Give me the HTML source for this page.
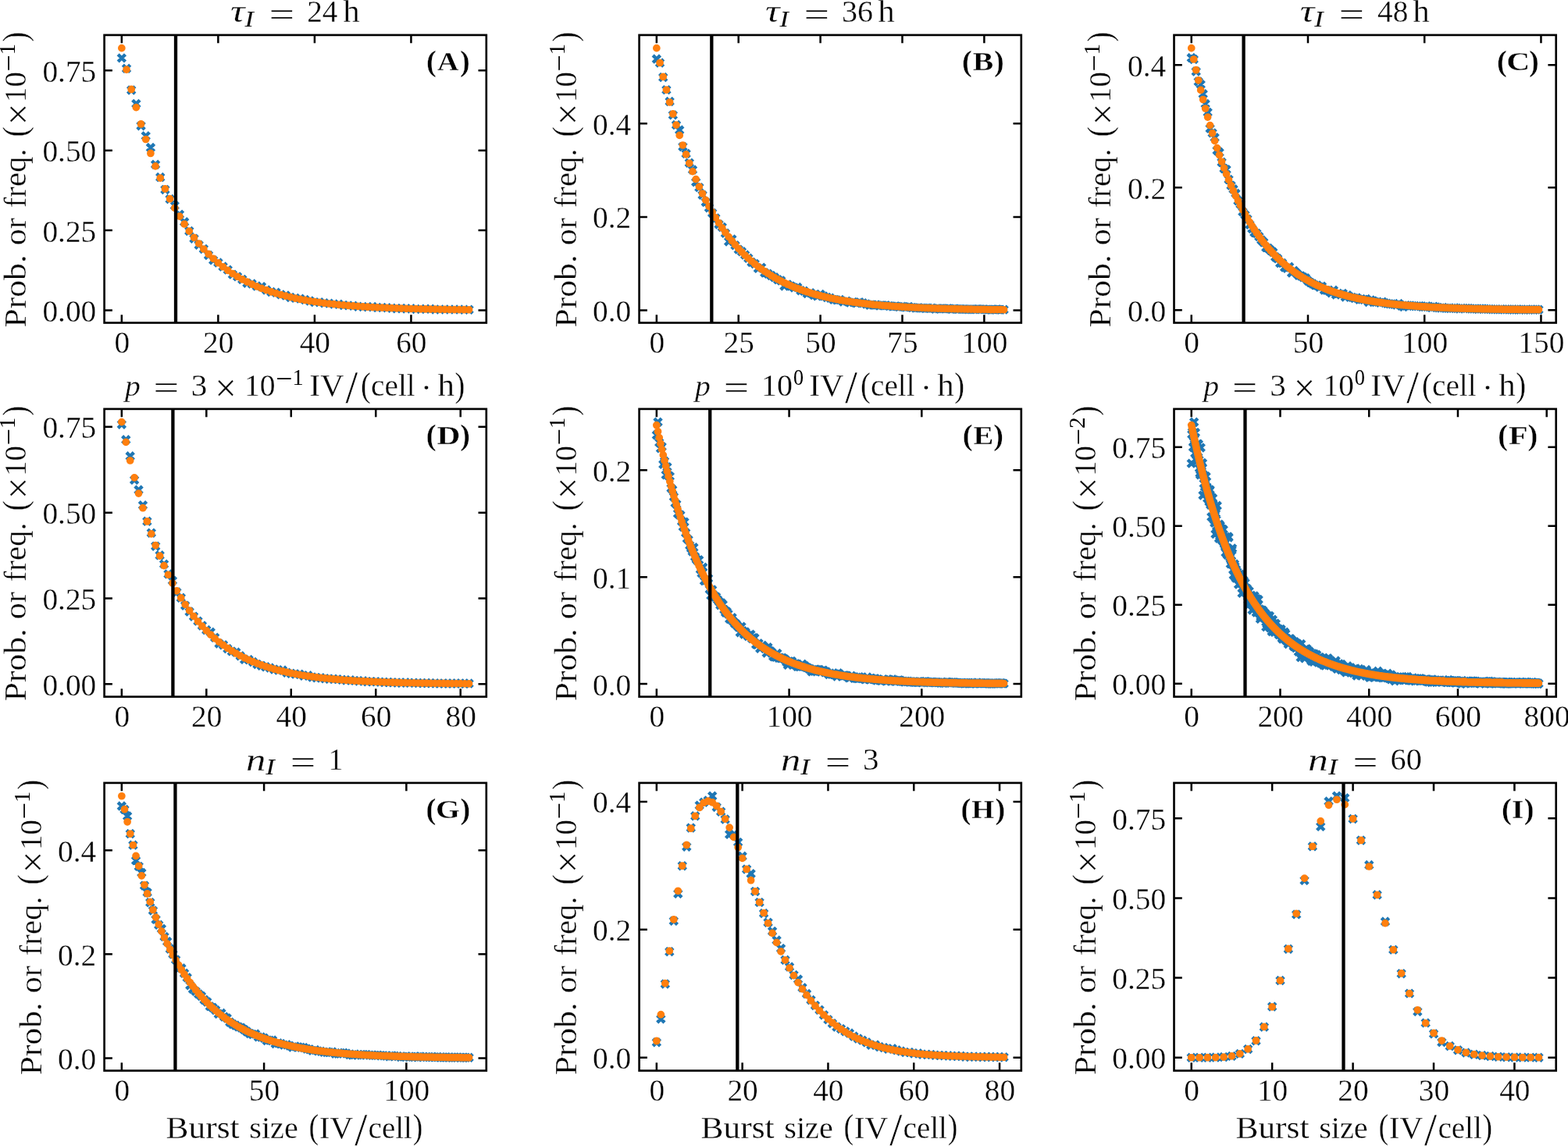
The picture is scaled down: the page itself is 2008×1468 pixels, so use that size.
<!DOCTYPE html>
<html lang="en"><head><meta charset="utf-8"><title>Burst size distributions</title>
<style>html,body{margin:0;padding:0;background:#fff}svg{display:block}text{font-family:"Liberation Serif",serif;fill:#000;stroke:#fff;stroke-width:0.34px;vector-effect:non-scaling-stroke}text.s{stroke:none}</style>
</head><body>
<svg width="2008" height="1468" viewBox="0 0 2008 1468">
<rect width="2008" height="1468" fill="#fff"/>
<g id="panelA">
<path d="M151.17,69.7l9.34,9.34m-9.34,0l9.34,-9.34M157.34,83.12l9.34,9.34m-9.34,0l9.34,-9.34M163.52,110.79l9.34,9.34m-9.34,0l9.34,-9.34M169.7,128.19l9.34,9.34m-9.34,0l9.34,-9.34M175.87,156.49l9.34,9.34m-9.34,0l9.34,-9.34M182.05,169.44l9.34,9.34m-9.34,0l9.34,-9.34M188.23,184.39l9.34,9.34m-9.34,0l9.34,-9.34M194.4,206.07l9.34,9.34m-9.34,0l9.34,-9.34M200.58,222.39l9.34,9.34m-9.34,0l9.34,-9.34M206.76,238.28l9.34,9.34m-9.34,0l9.34,-9.34M212.94,250.43l9.34,9.34m-9.34,0l9.34,-9.34M219.11,258.73l9.34,9.34m-9.34,0l9.34,-9.34M225.29,270.01l9.34,9.34m-9.34,0l9.34,-9.34M231.47,279.68l9.34,9.34m-9.34,0l9.34,-9.34M237.64,291.28l9.34,9.34m-9.34,0l9.34,-9.34M243.82,301l9.34,9.34m-9.34,0l9.34,-9.34M250,309.1l9.34,9.34m-9.34,0l9.34,-9.34M256.17,314.3l9.34,9.34m-9.34,0l9.34,-9.34M262.35,322.29l9.34,9.34m-9.34,0l9.34,-9.34M268.53,328.72l9.34,9.34m-9.34,0l9.34,-9.34M274.7,331.83l9.34,9.34m-9.34,0l9.34,-9.34M280.88,336.91l9.34,9.34m-9.34,0l9.34,-9.34M287.06,340.97l9.34,9.34m-9.34,0l9.34,-9.34M293.23,346.94l9.34,9.34m-9.34,0l9.34,-9.34M299.41,349.69l9.34,9.34m-9.34,0l9.34,-9.34M305.59,353.3l9.34,9.34m-9.34,0l9.34,-9.34M311.76,358.06l9.34,9.34m-9.34,0l9.34,-9.34M317.94,358.91l9.34,9.34m-9.34,0l9.34,-9.34M324.12,361.88l9.34,9.34m-9.34,0l9.34,-9.34M330.29,362.48l9.34,9.34m-9.34,0l9.34,-9.34M336.47,366.82l9.34,9.34m-9.34,0l9.34,-9.34M342.65,369.24l9.34,9.34m-9.34,0l9.34,-9.34M348.82,370.05l9.34,9.34m-9.34,0l9.34,-9.34M355,372.69l9.34,9.34m-9.34,0l9.34,-9.34M361.18,373.8l9.34,9.34m-9.34,0l9.34,-9.34M367.35,376.24l9.34,9.34m-9.34,0l9.34,-9.34M373.53,377.21l9.34,9.34m-9.34,0l9.34,-9.34M379.71,377.95l9.34,9.34m-9.34,0l9.34,-9.34M385.88,379.35l9.34,9.34m-9.34,0l9.34,-9.34M392.06,380.78l9.34,9.34m-9.34,0l9.34,-9.34M398.24,382.46l9.34,9.34m-9.34,0l9.34,-9.34M404.42,382.49l9.34,9.34m-9.34,0l9.34,-9.34M410.59,383.52l9.34,9.34m-9.34,0l9.34,-9.34M416.77,383.96l9.34,9.34m-9.34,0l9.34,-9.34M422.95,384.91l9.34,9.34m-9.34,0l9.34,-9.34M429.12,385.15l9.34,9.34m-9.34,0l9.34,-9.34M435.3,386.27l9.34,9.34m-9.34,0l9.34,-9.34M441.48,386.7l9.34,9.34m-9.34,0l9.34,-9.34M447.65,387l9.34,9.34m-9.34,0l9.34,-9.34M453.83,388.16l9.34,9.34m-9.34,0l9.34,-9.34M460.01,388.3l9.34,9.34m-9.34,0l9.34,-9.34M466.18,388.71l9.34,9.34m-9.34,0l9.34,-9.34M472.36,388.2l9.34,9.34m-9.34,0l9.34,-9.34M478.54,389.23l9.34,9.34m-9.34,0l9.34,-9.34M484.71,389.29l9.34,9.34m-9.34,0l9.34,-9.34M490.89,389.58l9.34,9.34m-9.34,0l9.34,-9.34M497.07,390.1l9.34,9.34m-9.34,0l9.34,-9.34M503.24,390.68l9.34,9.34m-9.34,0l9.34,-9.34M509.42,390.2l9.34,9.34m-9.34,0l9.34,-9.34M515.6,390.76l9.34,9.34m-9.34,0l9.34,-9.34M521.77,390.65l9.34,9.34m-9.34,0l9.34,-9.34M527.95,391.3l9.34,9.34m-9.34,0l9.34,-9.34M534.13,391.24l9.34,9.34m-9.34,0l9.34,-9.34M540.3,391.01l9.34,9.34m-9.34,0l9.34,-9.34M546.48,391.11l9.34,9.34m-9.34,0l9.34,-9.34M552.66,391.78l9.34,9.34m-9.34,0l9.34,-9.34M558.83,391.88l9.34,9.34m-9.34,0l9.34,-9.34M565.01,391.73l9.34,9.34m-9.34,0l9.34,-9.34M571.19,391.69l9.34,9.34m-9.34,0l9.34,-9.34M577.36,391.87l9.34,9.34m-9.34,0l9.34,-9.34M583.54,391.92l9.34,9.34m-9.34,0l9.34,-9.34M589.72,392.08l9.34,9.34m-9.34,0l9.34,-9.34M595.89,392.02l9.34,9.34m-9.34,0l9.34,-9.34" fill="none" stroke="#1f77b4" stroke-width="4.4"/>
<path d="M155.84,61.67h0M162.01,89.19h0M168.19,114.46h0M174.37,137.66h0M180.54,158.96h0M186.72,178.51h0M192.9,196.46h0M199.07,212.93h0M205.25,228.06h0M211.43,241.95h0M217.6,254.7h0M223.78,266.4h0M229.96,277.15h0M236.13,287.01h0M242.31,296.06h0M248.49,304.38h0M254.66,312.01h0M260.84,319.02h0M267.02,325.45h0M273.19,331.35h0M279.37,336.77h0M285.55,341.75h0M291.73,346.32h0M297.9,350.51h0M304.08,354.36h0M310.26,357.9h0M316.43,361.14h0M322.61,364.12h0M328.79,366.85h0M334.96,369.36h0M341.14,371.67h0M347.32,373.79h0M353.49,375.73h0M359.67,377.51h0M365.85,379.15h0M372.02,380.65h0M378.2,382.03h0M384.38,383.3h0M390.55,384.46h0M396.73,385.53h0M402.91,386.51h0M409.08,387.41h0M415.26,388.23h0M421.44,388.99h0M427.61,389.69h0M433.79,390.33h0M439.97,390.91h0M446.14,391.45h0M452.32,391.95h0M458.5,392.4h0M464.67,392.82h0M470.85,393.2h0M477.03,393.55h0M483.21,393.87h0M489.38,394.17h0M495.56,394.44h0M501.74,394.69h0M507.91,394.92h0M514.09,395.13h0M520.27,395.32h0M526.44,395.5h0M532.62,395.66h0M538.8,395.81h0M544.97,395.95h0M551.15,396.07h0M557.33,396.19h0M563.5,396.3h0M569.68,396.39h0M575.86,396.48h0M582.03,396.56h0M588.21,396.64h0M594.39,396.71h0M600.56,396.77h0" fill="none" stroke="#ff7f0e" stroke-width="9.7" stroke-linecap="round"/>
<path d="M225.02,44.9V413.5" stroke="#000" stroke-width="4.3"/>
<path d="M155.84,413.5v-10.3M155.84,44.9v10.3M279.37,413.5v-10.3M279.37,44.9v10.3M402.91,413.5v-10.3M402.91,44.9v10.3M526.44,413.5v-10.3M526.44,44.9v10.3M133.6,397.48h10.3M622.8,397.48h-10.3M133.6,295.06h10.3M622.8,295.06h-10.3M133.6,192.63h10.3M622.8,192.63h-10.3M133.6,90.21h10.3M622.8,90.21h-10.3" stroke="#000" stroke-width="2.5" fill="none"/>
<rect x="133.6" y="44.9" width="489.2" height="368.6" fill="none" stroke="#000" stroke-width="2.65"/>
<text font-size="41" text-anchor="middle" transform="translate(156.24,451.5) scale(0.96,1)">0</text>
<text font-size="41" text-anchor="middle" transform="translate(279.77,451.5) scale(0.96,1)">20</text>
<text font-size="41" text-anchor="middle" transform="translate(403.31,451.5) scale(0.96,1)">40</text>
<text font-size="41" text-anchor="middle" transform="translate(526.84,451.5) scale(0.96,1)">60</text>
<text font-size="41" text-anchor="end" transform="translate(123.3,411.98) scale(0.96,1)">0.00</text>
<text font-size="41" text-anchor="end" transform="translate(123.3,309.56) scale(0.96,1)">0.25</text>
<text font-size="41" text-anchor="end" transform="translate(123.3,207.13) scale(0.96,1)">0.50</text>
<text font-size="41" text-anchor="end" transform="translate(123.3,104.71) scale(0.96,1)">0.75</text>
<text font-size="40.5" font-style="italic" transform="matrix(1.2812,0,0,0.9792,294.96,28.47)">τ</text>
<text font-size="28.6" font-style="italic" class="s" transform="matrix(1.1935,0,0,1,313.39,34)">I</text>
<text font-size="40.5" transform="matrix(1.4252,0,0,1.0212,344.54,31.55)">=</text>
<text font-size="41" transform="matrix(0.9611,0,0,1,393.16,28.3)">24</text>
<text font-size="40.5" transform="matrix(1.0621,0,0,1,439.3,28.3)">h</text>
<text font-size="33.8" font-weight="bold" transform="matrix(1.1417,0,0,1.1163,545.99,90.95)">(</text>
<text font-size="33.8" font-weight="bold" transform="matrix(1.1222,0,0,1,560.05,90)">A</text>
<text font-size="33.8" font-weight="bold" transform="matrix(1.1306,0,0,1.1163,588.99,90.95)">)</text>
<g transform="translate(33.2,417.9) rotate(-90)">
<text font-size="40.5" transform="matrix(1.0757,0,0,1,-1.48,0)">Prob.</text>
<text font-size="40.5" transform="matrix(1.0453,0,0,1,103.64,0)">or</text>
<text font-size="40.5" transform="matrix(1.0071,0,0,1,151.66,0)">freq.</text>
<text font-size="40.5" transform="matrix(0.9915,0,0,1.0921,242.32,0.57)">(</text>
<text font-size="40.5" transform="matrix(1.2157,0,0,1.2401,257.59,6.6)">×</text>
<text font-size="41" transform="matrix(0.9572,0,0,1,286.7,0)">10</text>
<text font-size="28.6" class="s" transform="matrix(1.3309,0,0,1.2587,326.2,-9.83)">−</text>
<text font-size="28.6" class="s" transform="matrix(0.9919,0,0,1,347.72,-14.3)">1</text>
<text font-size="40.5" transform="matrix(0.934,0,0,1.0921,364.3,0.57)">)</text>
</g>
</g>
<g id="panelB">
<path d="M836.17,70.89l9.34,9.34m-9.34,0l9.34,-9.34M840.36,75.85l9.34,9.34m-9.34,0l9.34,-9.34M844.56,94.36l9.34,9.34m-9.34,0l9.34,-9.34M848.75,110.46l9.34,9.34m-9.34,0l9.34,-9.34M852.95,125.33l9.34,9.34m-9.34,0l9.34,-9.34M857.15,142.7l9.34,9.34m-9.34,0l9.34,-9.34M861.34,155.42l9.34,9.34m-9.34,0l9.34,-9.34M865.54,161.88l9.34,9.34m-9.34,0l9.34,-9.34M869.73,183.24l9.34,9.34m-9.34,0l9.34,-9.34M873.93,192.13l9.34,9.34m-9.34,0l9.34,-9.34M878.12,204.04l9.34,9.34m-9.34,0l9.34,-9.34M882.32,212.83l9.34,9.34m-9.34,0l9.34,-9.34M886.51,228.57l9.34,9.34m-9.34,0l9.34,-9.34M890.71,235.46l9.34,9.34m-9.34,0l9.34,-9.34M894.91,245.13l9.34,9.34m-9.34,0l9.34,-9.34M899.1,254.23l9.34,9.34m-9.34,0l9.34,-9.34M903.3,261.56l9.34,9.34m-9.34,0l9.34,-9.34M907.49,268.26l9.34,9.34m-9.34,0l9.34,-9.34M911.69,274.8l9.34,9.34m-9.34,0l9.34,-9.34M915.88,282.74l9.34,9.34m-9.34,0l9.34,-9.34M920.08,286.29l9.34,9.34m-9.34,0l9.34,-9.34M924.27,294.15l9.34,9.34m-9.34,0l9.34,-9.34M928.47,304.77l9.34,9.34m-9.34,0l9.34,-9.34M932.67,301.76l9.34,9.34m-9.34,0l9.34,-9.34M936.86,309.66l9.34,9.34m-9.34,0l9.34,-9.34M941.06,314.97l9.34,9.34m-9.34,0l9.34,-9.34M945.25,317.66l9.34,9.34m-9.34,0l9.34,-9.34M949.45,321.93l9.34,9.34m-9.34,0l9.34,-9.34M953.64,326.18l9.34,9.34m-9.34,0l9.34,-9.34M957.84,331.34l9.34,9.34m-9.34,0l9.34,-9.34M962.03,333.24l9.34,9.34m-9.34,0l9.34,-9.34M966.23,339.12l9.34,9.34m-9.34,0l9.34,-9.34M970.42,337.94l9.34,9.34m-9.34,0l9.34,-9.34M974.62,344.73l9.34,9.34m-9.34,0l9.34,-9.34M978.82,346.05l9.34,9.34m-9.34,0l9.34,-9.34M983.01,348.39l9.34,9.34m-9.34,0l9.34,-9.34M987.21,350.63l9.34,9.34m-9.34,0l9.34,-9.34M991.4,353.56l9.34,9.34m-9.34,0l9.34,-9.34M995.6,354.9l9.34,9.34m-9.34,0l9.34,-9.34M999.79,361.81l9.34,9.34m-9.34,0l9.34,-9.34M1003.99,359.82l9.34,9.34m-9.34,0l9.34,-9.34M1008.18,361.74l9.34,9.34m-9.34,0l9.34,-9.34M1012.38,363.79l9.34,9.34m-9.34,0l9.34,-9.34M1016.58,363.39l9.34,9.34m-9.34,0l9.34,-9.34M1020.77,367.53l9.34,9.34m-9.34,0l9.34,-9.34M1024.97,368.11l9.34,9.34m-9.34,0l9.34,-9.34M1029.16,371.36l9.34,9.34m-9.34,0l9.34,-9.34M1033.36,370.49l9.34,9.34m-9.34,0l9.34,-9.34M1037.55,373.45l9.34,9.34m-9.34,0l9.34,-9.34M1041.75,374.53l9.34,9.34m-9.34,0l9.34,-9.34M1045.94,372.25l9.34,9.34m-9.34,0l9.34,-9.34M1050.14,374.72l9.34,9.34m-9.34,0l9.34,-9.34M1054.34,376.3l9.34,9.34m-9.34,0l9.34,-9.34M1058.53,377.09l9.34,9.34m-9.34,0l9.34,-9.34M1062.73,379.2l9.34,9.34m-9.34,0l9.34,-9.34M1066.92,379.71l9.34,9.34m-9.34,0l9.34,-9.34M1071.12,379.4l9.34,9.34m-9.34,0l9.34,-9.34M1075.31,381.93l9.34,9.34m-9.34,0l9.34,-9.34M1079.51,380.96l9.34,9.34m-9.34,0l9.34,-9.34M1083.7,382.95l9.34,9.34m-9.34,0l9.34,-9.34M1087.9,382.34l9.34,9.34m-9.34,0l9.34,-9.34M1092.1,383.7l9.34,9.34m-9.34,0l9.34,-9.34M1096.29,382.49l9.34,9.34m-9.34,0l9.34,-9.34M1100.49,383.48l9.34,9.34m-9.34,0l9.34,-9.34M1104.68,384.87l9.34,9.34m-9.34,0l9.34,-9.34M1108.88,386.09l9.34,9.34m-9.34,0l9.34,-9.34M1113.07,385.9l9.34,9.34m-9.34,0l9.34,-9.34M1117.27,385.92l9.34,9.34m-9.34,0l9.34,-9.34M1121.46,386.78l9.34,9.34m-9.34,0l9.34,-9.34M1125.66,386.5l9.34,9.34m-9.34,0l9.34,-9.34M1129.86,386.51l9.34,9.34m-9.34,0l9.34,-9.34M1134.05,387.34l9.34,9.34m-9.34,0l9.34,-9.34M1138.25,387.83l9.34,9.34m-9.34,0l9.34,-9.34M1142.44,387.57l9.34,9.34m-9.34,0l9.34,-9.34M1146.64,388.32l9.34,9.34m-9.34,0l9.34,-9.34M1150.83,388.1l9.34,9.34m-9.34,0l9.34,-9.34M1155.03,388.83l9.34,9.34m-9.34,0l9.34,-9.34M1159.22,388.29l9.34,9.34m-9.34,0l9.34,-9.34M1163.42,389.26l9.34,9.34m-9.34,0l9.34,-9.34M1167.62,389.75l9.34,9.34m-9.34,0l9.34,-9.34M1171.81,389.52l9.34,9.34m-9.34,0l9.34,-9.34M1176.01,389.96l9.34,9.34m-9.34,0l9.34,-9.34M1180.2,390.23l9.34,9.34m-9.34,0l9.34,-9.34M1184.4,390.11l9.34,9.34m-9.34,0l9.34,-9.34M1188.59,389.98l9.34,9.34m-9.34,0l9.34,-9.34M1192.79,391.05l9.34,9.34m-9.34,0l9.34,-9.34M1196.98,390.52l9.34,9.34m-9.34,0l9.34,-9.34M1201.18,390.68l9.34,9.34m-9.34,0l9.34,-9.34M1205.38,390.8l9.34,9.34m-9.34,0l9.34,-9.34M1209.57,390.65l9.34,9.34m-9.34,0l9.34,-9.34M1213.77,391.34l9.34,9.34m-9.34,0l9.34,-9.34M1217.96,390.91l9.34,9.34m-9.34,0l9.34,-9.34M1222.16,391.24l9.34,9.34m-9.34,0l9.34,-9.34M1226.35,391.25l9.34,9.34m-9.34,0l9.34,-9.34M1230.55,391.41l9.34,9.34m-9.34,0l9.34,-9.34M1234.74,391.52l9.34,9.34m-9.34,0l9.34,-9.34M1238.94,391.64l9.34,9.34m-9.34,0l9.34,-9.34M1243.14,391.5l9.34,9.34m-9.34,0l9.34,-9.34M1247.33,391.2l9.34,9.34m-9.34,0l9.34,-9.34M1251.53,391.5l9.34,9.34m-9.34,0l9.34,-9.34M1255.72,391.61l9.34,9.34m-9.34,0l9.34,-9.34M1259.92,391.73l9.34,9.34m-9.34,0l9.34,-9.34M1264.11,391.98l9.34,9.34m-9.34,0l9.34,-9.34M1268.31,391.83l9.34,9.34m-9.34,0l9.34,-9.34M1272.5,391.62l9.34,9.34m-9.34,0l9.34,-9.34M1276.7,392.08l9.34,9.34m-9.34,0l9.34,-9.34M1280.89,391.94l9.34,9.34m-9.34,0l9.34,-9.34" fill="none" stroke="#1f77b4" stroke-width="4.4"/>
<path d="M840.84,61.66h0M845.03,80.52h0M849.23,98.33h0M853.42,115.13h0M857.62,130.99h0M861.81,145.96h0M866.01,160.09h0M870.21,173.43h0M874.4,186.01h0M878.6,197.89h0M882.79,209.11h0M886.99,219.69h0M891.18,229.67h0M895.38,239.1h0M899.57,248h0M903.77,256.39h0M907.97,264.32h0M912.16,271.8h0M916.36,278.86h0M920.55,285.52h0M924.75,291.81h0M928.94,297.75h0M933.14,303.35h0M937.33,308.64h0M941.53,313.63h0M945.72,318.34h0M949.92,322.78h0M954.12,326.98h0M958.31,330.94h0M962.51,334.67h0M966.7,338.2h0M970.9,341.53h0M975.09,344.67h0M979.29,347.64h0M983.48,350.44h0M987.68,353.08h0M991.88,355.57h0M996.07,357.93h0M1000.27,360.15h0M1004.46,362.24h0M1008.66,364.22h0M1012.85,366.09h0M1017.05,367.85h0M1021.24,369.52h0M1025.44,371.09h0M1029.64,372.57h0M1033.83,373.97h0M1038.03,375.29h0M1042.22,376.53h0M1046.42,377.71h0M1050.61,378.82h0M1054.81,379.87h0M1059,380.85h0M1063.2,381.79h0M1067.4,382.67h0M1071.59,383.5h0M1075.79,384.28h0M1079.98,385.02h0M1084.18,385.72h0M1088.37,386.38h0M1092.57,387h0M1096.76,387.59h0M1100.96,388.15h0M1105.16,388.67h0M1109.35,389.16h0M1113.55,389.63h0M1117.74,390.07h0M1121.94,390.49h0M1126.13,390.88h0M1130.33,391.25h0M1134.52,391.6h0M1138.72,391.93h0M1142.92,392.24h0M1147.11,392.53h0M1151.31,392.81h0M1155.5,393.07h0M1159.7,393.32h0M1163.89,393.55h0M1168.09,393.77h0M1172.28,393.98h0M1176.48,394.17h0M1180.68,394.36h0M1184.87,394.53h0M1189.07,394.7h0M1193.26,394.85h0M1197.46,395h0M1201.65,395.14h0M1205.85,395.27h0M1210.04,395.39h0M1214.24,395.51h0M1218.43,395.62h0M1222.63,395.72h0M1226.83,395.82h0M1231.02,395.91h0M1235.22,396h0M1239.41,396.08h0M1243.61,396.16h0M1247.8,396.23h0M1252,396.3h0M1256.19,396.37h0M1260.39,396.43h0M1264.59,396.49h0M1268.78,396.54h0M1272.98,396.59h0M1277.17,396.64h0M1281.37,396.69h0M1285.56,396.73h0" fill="none" stroke="#ff7f0e" stroke-width="9.7" stroke-linecap="round"/>
<path d="M911.32,44.9V413.5" stroke="#000" stroke-width="4.3"/>
<path d="M840.84,413.5v-10.3M840.84,44.9v10.3M945.72,413.5v-10.3M945.72,44.9v10.3M1050.61,413.5v-10.3M1050.61,44.9v10.3M1155.5,413.5v-10.3M1155.5,44.9v10.3M1260.39,413.5v-10.3M1260.39,44.9v10.3M818.6,397.46h10.3M1307.8,397.46h-10.3M818.6,277.92h10.3M1307.8,277.92h-10.3M818.6,158.37h10.3M1307.8,158.37h-10.3" stroke="#000" stroke-width="2.5" fill="none"/>
<rect x="818.6" y="44.9" width="489.2" height="368.6" fill="none" stroke="#000" stroke-width="2.65"/>
<text font-size="41" text-anchor="middle" transform="translate(841.24,451.5) scale(0.96,1)">0</text>
<text font-size="41" text-anchor="middle" transform="translate(946.12,451.5) scale(0.96,1)">25</text>
<text font-size="41" text-anchor="middle" transform="translate(1051.01,451.5) scale(0.96,1)">50</text>
<text font-size="41" text-anchor="middle" transform="translate(1155.9,451.5) scale(0.96,1)">75</text>
<text font-size="41" text-anchor="middle" transform="translate(1260.79,451.5) scale(0.96,1)">100</text>
<text font-size="41" text-anchor="end" transform="translate(808.3,411.96) scale(0.96,1)">0.0</text>
<text font-size="41" text-anchor="end" transform="translate(808.3,292.42) scale(0.96,1)">0.2</text>
<text font-size="41" text-anchor="end" transform="translate(808.3,172.87) scale(0.96,1)">0.4</text>
<text font-size="40.5" font-style="italic" transform="matrix(1.2812,0,0,0.9792,979.96,28.47)">τ</text>
<text font-size="28.6" font-style="italic" class="s" transform="matrix(1.1935,0,0,1,998.39,34)">I</text>
<text font-size="40.5" transform="matrix(1.4252,0,0,1.0212,1029.54,31.55)">=</text>
<text font-size="41" transform="matrix(0.9793,0,0,1,1078.02,28.3)">36</text>
<text font-size="40.5" transform="matrix(1.0621,0,0,1,1124.3,28.3)">h</text>
<text font-size="33.8" font-weight="bold" transform="matrix(1.1417,0,0,1.1163,1231.99,90.95)">(</text>
<text font-size="33.8" font-weight="bold" transform="matrix(1.1758,0,0,1,1245.73,90)">B</text>
<text font-size="33.8" font-weight="bold" transform="matrix(1.1306,0,0,1.1163,1272.99,90.95)">)</text>
<g transform="translate(737.5,417.9) rotate(-90)">
<text font-size="40.5" transform="matrix(1.0757,0,0,1,-1.48,0)">Prob.</text>
<text font-size="40.5" transform="matrix(1.0453,0,0,1,103.64,0)">or</text>
<text font-size="40.5" transform="matrix(1.0071,0,0,1,151.66,0)">freq.</text>
<text font-size="40.5" transform="matrix(0.9915,0,0,1.0921,242.32,0.57)">(</text>
<text font-size="40.5" transform="matrix(1.2157,0,0,1.2401,257.59,6.6)">×</text>
<text font-size="41" transform="matrix(0.9572,0,0,1,286.7,0)">10</text>
<text font-size="28.6" class="s" transform="matrix(1.3309,0,0,1.2587,326.2,-9.83)">−</text>
<text font-size="28.6" class="s" transform="matrix(0.9919,0,0,1,347.72,-14.3)">1</text>
<text font-size="40.5" transform="matrix(0.934,0,0,1.0921,364.3,0.57)">)</text>
</g>
</g>
<g id="panelC">
<path d="M1521.07,69.39l9.34,9.34m-9.34,0l9.34,-9.34M1524.05,71.33l9.34,9.34m-9.34,0l9.34,-9.34M1527.04,86.85l9.34,9.34m-9.34,0l9.34,-9.34M1530.02,99.89l9.34,9.34m-9.34,0l9.34,-9.34M1533.01,103.47l9.34,9.34m-9.34,0l9.34,-9.34M1535.99,115.61l9.34,9.34m-9.34,0l9.34,-9.34M1538.98,128.34l9.34,9.34m-9.34,0l9.34,-9.34M1541.96,139.28l9.34,9.34m-9.34,0l9.34,-9.34M1544.95,159.94l9.34,9.34m-9.34,0l9.34,-9.34M1547.93,165.72l9.34,9.34m-9.34,0l9.34,-9.34M1550.92,171.51l9.34,9.34m-9.34,0l9.34,-9.34M1553.9,188.07l9.34,9.34m-9.34,0l9.34,-9.34M1556.88,190.66l9.34,9.34m-9.34,0l9.34,-9.34M1559.87,203.18l9.34,9.34m-9.34,0l9.34,-9.34M1562.85,211.29l9.34,9.34m-9.34,0l9.34,-9.34M1565.84,212.51l9.34,9.34m-9.34,0l9.34,-9.34M1568.82,225.25l9.34,9.34m-9.34,0l9.34,-9.34M1571.81,232.97l9.34,9.34m-9.34,0l9.34,-9.34M1574.79,237.6l9.34,9.34m-9.34,0l9.34,-9.34M1577.78,243.08l9.34,9.34m-9.34,0l9.34,-9.34M1580.76,252.54l9.34,9.34m-9.34,0l9.34,-9.34M1583.75,256.88l9.34,9.34m-9.34,0l9.34,-9.34M1586.73,266.7l9.34,9.34m-9.34,0l9.34,-9.34M1589.72,270.59l9.34,9.34m-9.34,0l9.34,-9.34M1592.7,276l9.34,9.34m-9.34,0l9.34,-9.34M1595.69,283.18l9.34,9.34m-9.34,0l9.34,-9.34M1598.67,288.34l9.34,9.34m-9.34,0l9.34,-9.34M1601.66,293.15l9.34,9.34m-9.34,0l9.34,-9.34M1604.64,294.31l9.34,9.34m-9.34,0l9.34,-9.34M1607.63,298.37l9.34,9.34m-9.34,0l9.34,-9.34M1610.61,302.73l9.34,9.34m-9.34,0l9.34,-9.34M1613.59,305.75l9.34,9.34m-9.34,0l9.34,-9.34M1616.58,312.39l9.34,9.34m-9.34,0l9.34,-9.34M1619.56,313.31l9.34,9.34m-9.34,0l9.34,-9.34M1622.55,316.06l9.34,9.34m-9.34,0l9.34,-9.34M1625.53,318.32l9.34,9.34m-9.34,0l9.34,-9.34M1628.52,324.52l9.34,9.34m-9.34,0l9.34,-9.34M1631.5,326.62l9.34,9.34m-9.34,0l9.34,-9.34M1634.49,332.41l9.34,9.34m-9.34,0l9.34,-9.34M1637.47,332.35l9.34,9.34m-9.34,0l9.34,-9.34M1640.46,337.91l9.34,9.34m-9.34,0l9.34,-9.34M1643.44,339l9.34,9.34m-9.34,0l9.34,-9.34M1646.43,337.1l9.34,9.34m-9.34,0l9.34,-9.34M1649.41,344.86l9.34,9.34m-9.34,0l9.34,-9.34M1652.4,342.15l9.34,9.34m-9.34,0l9.34,-9.34M1655.38,345.02l9.34,9.34m-9.34,0l9.34,-9.34M1658.37,348.02l9.34,9.34m-9.34,0l9.34,-9.34M1661.35,348.78l9.34,9.34m-9.34,0l9.34,-9.34M1664.34,350.53l9.34,9.34m-9.34,0l9.34,-9.34M1667.32,351.56l9.34,9.34m-9.34,0l9.34,-9.34M1670.3,355.08l9.34,9.34m-9.34,0l9.34,-9.34M1673.29,357.19l9.34,9.34m-9.34,0l9.34,-9.34M1676.27,358.73l9.34,9.34m-9.34,0l9.34,-9.34M1679.26,360.7l9.34,9.34m-9.34,0l9.34,-9.34M1682.24,360.87l9.34,9.34m-9.34,0l9.34,-9.34M1685.23,363.16l9.34,9.34m-9.34,0l9.34,-9.34M1688.21,362.15l9.34,9.34m-9.34,0l9.34,-9.34M1691.2,366.97l9.34,9.34m-9.34,0l9.34,-9.34M1694.18,367.2l9.34,9.34m-9.34,0l9.34,-9.34M1697.17,368.14l9.34,9.34m-9.34,0l9.34,-9.34M1700.15,370.5l9.34,9.34m-9.34,0l9.34,-9.34M1703.14,367.07l9.34,9.34m-9.34,0l9.34,-9.34M1706.12,372.78l9.34,9.34m-9.34,0l9.34,-9.34M1709.11,371.43l9.34,9.34m-9.34,0l9.34,-9.34M1712.09,372.59l9.34,9.34m-9.34,0l9.34,-9.34M1715.08,371.24l9.34,9.34m-9.34,0l9.34,-9.34M1718.06,375.73l9.34,9.34m-9.34,0l9.34,-9.34M1721.05,373.52l9.34,9.34m-9.34,0l9.34,-9.34M1724.03,376.03l9.34,9.34m-9.34,0l9.34,-9.34M1727.02,376.21l9.34,9.34m-9.34,0l9.34,-9.34M1730,377.38l9.34,9.34m-9.34,0l9.34,-9.34M1732.98,376.87l9.34,9.34m-9.34,0l9.34,-9.34M1735.97,379.08l9.34,9.34m-9.34,0l9.34,-9.34M1738.95,378.78l9.34,9.34m-9.34,0l9.34,-9.34M1741.94,379l9.34,9.34m-9.34,0l9.34,-9.34M1744.92,378.36l9.34,9.34m-9.34,0l9.34,-9.34M1747.91,382.33l9.34,9.34m-9.34,0l9.34,-9.34M1750.89,379.73l9.34,9.34m-9.34,0l9.34,-9.34M1753.88,380.7l9.34,9.34m-9.34,0l9.34,-9.34M1756.86,382.26l9.34,9.34m-9.34,0l9.34,-9.34M1759.85,382.13l9.34,9.34m-9.34,0l9.34,-9.34M1762.83,383.12l9.34,9.34m-9.34,0l9.34,-9.34M1765.82,382.05l9.34,9.34m-9.34,0l9.34,-9.34M1768.8,383.46l9.34,9.34m-9.34,0l9.34,-9.34M1771.79,384.13l9.34,9.34m-9.34,0l9.34,-9.34M1774.77,384.5l9.34,9.34m-9.34,0l9.34,-9.34M1777.76,384.83l9.34,9.34m-9.34,0l9.34,-9.34M1780.74,385.15l9.34,9.34m-9.34,0l9.34,-9.34M1783.73,385.9l9.34,9.34m-9.34,0l9.34,-9.34M1786.71,384.43l9.34,9.34m-9.34,0l9.34,-9.34M1789.69,387.09l9.34,9.34m-9.34,0l9.34,-9.34M1792.68,388.32l9.34,9.34m-9.34,0l9.34,-9.34M1795.66,386.58l9.34,9.34m-9.34,0l9.34,-9.34M1798.65,386.85l9.34,9.34m-9.34,0l9.34,-9.34M1801.63,386.82l9.34,9.34m-9.34,0l9.34,-9.34M1804.62,387.36l9.34,9.34m-9.34,0l9.34,-9.34M1807.6,387.56l9.34,9.34m-9.34,0l9.34,-9.34M1810.59,387.53l9.34,9.34m-9.34,0l9.34,-9.34M1813.57,387.42l9.34,9.34m-9.34,0l9.34,-9.34M1816.56,388.32l9.34,9.34m-9.34,0l9.34,-9.34M1819.54,388.47l9.34,9.34m-9.34,0l9.34,-9.34M1822.53,387.58l9.34,9.34m-9.34,0l9.34,-9.34M1825.51,388.41l9.34,9.34m-9.34,0l9.34,-9.34M1828.5,389.25l9.34,9.34m-9.34,0l9.34,-9.34M1831.48,387.97l9.34,9.34m-9.34,0l9.34,-9.34M1834.47,388.8l9.34,9.34m-9.34,0l9.34,-9.34M1837.45,389.52l9.34,9.34m-9.34,0l9.34,-9.34M1840.44,389.89l9.34,9.34m-9.34,0l9.34,-9.34M1843.42,389.43l9.34,9.34m-9.34,0l9.34,-9.34M1846.41,390l9.34,9.34m-9.34,0l9.34,-9.34M1849.39,390.2l9.34,9.34m-9.34,0l9.34,-9.34M1852.37,390.4l9.34,9.34m-9.34,0l9.34,-9.34M1855.36,390.21l9.34,9.34m-9.34,0l9.34,-9.34M1858.34,389.74l9.34,9.34m-9.34,0l9.34,-9.34M1861.33,390.39l9.34,9.34m-9.34,0l9.34,-9.34M1864.31,390.83l9.34,9.34m-9.34,0l9.34,-9.34M1867.3,390.21l9.34,9.34m-9.34,0l9.34,-9.34M1870.28,390.5l9.34,9.34m-9.34,0l9.34,-9.34M1873.27,390.34l9.34,9.34m-9.34,0l9.34,-9.34M1876.25,390.32l9.34,9.34m-9.34,0l9.34,-9.34M1879.24,390.82l9.34,9.34m-9.34,0l9.34,-9.34M1882.22,390.89l9.34,9.34m-9.34,0l9.34,-9.34M1885.21,390.93l9.34,9.34m-9.34,0l9.34,-9.34M1888.19,391.31l9.34,9.34m-9.34,0l9.34,-9.34M1891.18,390.87l9.34,9.34m-9.34,0l9.34,-9.34M1894.16,390.74l9.34,9.34m-9.34,0l9.34,-9.34M1897.15,391.13l9.34,9.34m-9.34,0l9.34,-9.34M1900.13,391.3l9.34,9.34m-9.34,0l9.34,-9.34M1903.12,391.36l9.34,9.34m-9.34,0l9.34,-9.34M1906.1,391.54l9.34,9.34m-9.34,0l9.34,-9.34M1909.08,391.6l9.34,9.34m-9.34,0l9.34,-9.34M1912.07,391.55l9.34,9.34m-9.34,0l9.34,-9.34M1915.05,391.69l9.34,9.34m-9.34,0l9.34,-9.34M1918.04,391.64l9.34,9.34m-9.34,0l9.34,-9.34M1921.02,391.94l9.34,9.34m-9.34,0l9.34,-9.34M1924.01,391.55l9.34,9.34m-9.34,0l9.34,-9.34M1926.99,391.65l9.34,9.34m-9.34,0l9.34,-9.34M1929.98,391.95l9.34,9.34m-9.34,0l9.34,-9.34M1932.96,392.08l9.34,9.34m-9.34,0l9.34,-9.34M1935.95,391.77l9.34,9.34m-9.34,0l9.34,-9.34M1938.93,391.59l9.34,9.34m-9.34,0l9.34,-9.34M1941.92,391.98l9.34,9.34m-9.34,0l9.34,-9.34M1944.9,391.96l9.34,9.34m-9.34,0l9.34,-9.34M1947.89,392l9.34,9.34m-9.34,0l9.34,-9.34M1950.87,391.81l9.34,9.34m-9.34,0l9.34,-9.34M1953.86,392.08l9.34,9.34m-9.34,0l9.34,-9.34M1956.84,391.81l9.34,9.34m-9.34,0l9.34,-9.34M1959.83,392.05l9.34,9.34m-9.34,0l9.34,-9.34M1962.81,391.87l9.34,9.34m-9.34,0l9.34,-9.34M1965.79,392.04l9.34,9.34m-9.34,0l9.34,-9.34" fill="none" stroke="#1f77b4" stroke-width="4.4"/>
<path d="M1525.74,61.65h0M1528.72,75.99h0M1531.71,89.72h0M1534.69,102.86h0M1537.68,115.44h0M1540.66,127.48h0M1543.64,139.01h0M1546.63,150.05h0M1549.61,160.61h0M1552.6,170.72h0M1555.58,180.4h0M1558.57,189.66h0M1561.55,198.53h0M1564.54,207.02h0M1567.52,215.15h0M1570.51,222.93h0M1573.49,230.38h0M1576.48,237.51h0M1579.46,244.34h0M1582.45,250.87h0M1585.43,257.12h0M1588.42,263.11h0M1591.4,268.84h0M1594.39,274.33h0M1597.37,279.58h0M1600.36,284.61h0M1603.34,289.42h0M1606.32,294.03h0M1609.31,298.44h0M1612.29,302.66h0M1615.28,306.7h0M1618.26,310.57h0M1621.25,314.27h0M1624.23,317.81h0M1627.22,321.21h0M1630.2,324.46h0M1633.19,327.56h0M1636.17,330.54h0M1639.16,333.39h0M1642.14,336.12h0M1645.13,338.73h0M1648.11,341.23h0M1651.1,343.62h0M1654.08,345.91h0M1657.07,348.1h0M1660.05,350.2h0M1663.03,352.21h0M1666.02,354.14h0M1669,355.98h0M1671.99,357.74h0M1674.97,359.43h0M1677.96,361.04h0M1680.94,362.59h0M1683.93,364.07h0M1686.91,365.48h0M1689.9,366.84h0M1692.88,368.14h0M1695.87,369.38h0M1698.85,370.57h0M1701.84,371.71h0M1704.82,372.8h0M1707.81,373.84h0M1710.79,374.84h0M1713.78,375.8h0M1716.76,376.71h0M1719.74,377.59h0M1722.73,378.43h0M1725.71,379.23h0M1728.7,380h0M1731.68,380.74h0M1734.67,381.44h0M1737.65,382.11h0M1740.64,382.76h0M1743.62,383.38h0M1746.61,383.97h0M1749.59,384.53h0M1752.58,385.08h0M1755.56,385.6h0M1758.55,386.09h0M1761.53,386.57h0M1764.52,387.02h0M1767.5,387.46h0M1770.49,387.88h0M1773.47,388.27h0M1776.46,388.66h0M1779.44,389.02h0M1782.42,389.37h0M1785.41,389.71h0M1788.39,390.03h0M1791.38,390.34h0M1794.36,390.63h0M1797.35,390.91h0M1800.33,391.18h0M1803.32,391.44h0M1806.3,391.69h0M1809.29,391.92h0M1812.27,392.15h0M1815.26,392.36h0M1818.24,392.57h0M1821.23,392.77h0M1824.21,392.96h0M1827.2,393.14h0M1830.18,393.32h0M1833.17,393.48h0M1836.15,393.64h0M1839.13,393.8h0M1842.12,393.94h0M1845.1,394.08h0M1848.09,394.22h0M1851.07,394.34h0M1854.06,394.47h0M1857.04,394.58h0M1860.03,394.7h0M1863.01,394.8h0M1866,394.91h0M1868.98,395.01h0M1871.97,395.1h0M1874.95,395.19h0M1877.94,395.28h0M1880.92,395.36h0M1883.91,395.44h0M1886.89,395.52h0M1889.88,395.59h0M1892.86,395.66h0M1895.84,395.72h0M1898.83,395.79h0M1901.81,395.85h0M1904.8,395.91h0M1907.78,395.96h0M1910.77,396.02h0M1913.75,396.07h0M1916.74,396.12h0M1919.72,396.16h0M1922.71,396.21h0M1925.69,396.25h0M1928.68,396.29h0M1931.66,396.33h0M1934.65,396.37h0M1937.63,396.41h0M1940.62,396.44h0M1943.6,396.47h0M1946.59,396.51h0M1949.57,396.54h0M1952.56,396.57h0M1955.54,396.59h0M1958.52,396.62h0M1961.51,396.65h0M1964.49,396.67h0M1967.48,396.69h0M1970.46,396.72h0" fill="none" stroke="#ff7f0e" stroke-width="9.7" stroke-linecap="round"/>
<path d="M1592.59,44.9V413.5" stroke="#000" stroke-width="4.3"/>
<path d="M1525.74,413.5v-10.3M1525.74,44.9v10.3M1674.97,413.5v-10.3M1674.97,44.9v10.3M1824.21,413.5v-10.3M1824.21,44.9v10.3M1973.45,413.5v-10.3M1973.45,44.9v10.3M1503.5,397.22h10.3M1992.7,397.22h-10.3M1503.5,240.17h10.3M1992.7,240.17h-10.3M1503.5,83.13h10.3M1992.7,83.13h-10.3" stroke="#000" stroke-width="2.5" fill="none"/>
<rect x="1503.5" y="44.9" width="489.2" height="368.6" fill="none" stroke="#000" stroke-width="2.65"/>
<text font-size="41" text-anchor="middle" transform="translate(1526.14,451.5) scale(0.96,1)">0</text>
<text font-size="41" text-anchor="middle" transform="translate(1675.37,451.5) scale(0.96,1)">50</text>
<text font-size="41" text-anchor="middle" transform="translate(1824.61,451.5) scale(0.96,1)">100</text>
<text font-size="41" text-anchor="middle" transform="translate(1973.85,451.5) scale(0.96,1)">150</text>
<text font-size="41" text-anchor="end" transform="translate(1493.2,411.72) scale(0.96,1)">0.0</text>
<text font-size="41" text-anchor="end" transform="translate(1493.2,254.67) scale(0.96,1)">0.2</text>
<text font-size="41" text-anchor="end" transform="translate(1493.2,97.63) scale(0.96,1)">0.4</text>
<text font-size="40.5" font-style="italic" transform="matrix(1.2812,0,0,0.9792,1664.86,28.47)">τ</text>
<text font-size="28.6" font-style="italic" class="s" transform="matrix(1.1935,0,0,1,1683.29,34)">I</text>
<text font-size="40.5" transform="matrix(1.4252,0,0,1.0212,1714.44,31.55)">=</text>
<text font-size="41" transform="matrix(0.9585,0,0,1,1764.04,28.3)">48</text>
<text font-size="40.5" transform="matrix(1.0621,0,0,1,1809.2,28.3)">h</text>
<text font-size="33.8" font-weight="bold" transform="matrix(1.1417,0,0,1.1163,1916.89,90.95)">(</text>
<text font-size="33.8" font-weight="bold" transform="matrix(1.2302,0,0,1,1929.25,90)">C</text>
<text font-size="33.8" font-weight="bold" transform="matrix(1.1306,0,0,1.1163,1957.89,90.95)">)</text>
<g transform="translate(1422.4,417.9) rotate(-90)">
<text font-size="40.5" transform="matrix(1.0757,0,0,1,-1.48,0)">Prob.</text>
<text font-size="40.5" transform="matrix(1.0453,0,0,1,103.64,0)">or</text>
<text font-size="40.5" transform="matrix(1.0071,0,0,1,151.66,0)">freq.</text>
<text font-size="40.5" transform="matrix(0.9915,0,0,1.0921,242.32,0.57)">(</text>
<text font-size="40.5" transform="matrix(1.2157,0,0,1.2401,257.59,6.6)">×</text>
<text font-size="41" transform="matrix(0.9572,0,0,1,286.7,0)">10</text>
<text font-size="28.6" class="s" transform="matrix(1.3309,0,0,1.2587,326.2,-9.83)">−</text>
<text font-size="28.6" class="s" transform="matrix(0.9919,0,0,1,347.72,-14.3)">1</text>
<text font-size="40.5" transform="matrix(0.934,0,0,1.0921,364.3,0.57)">)</text>
</g>
</g>
<g id="panelD">
<path d="M151.17,539.01l9.34,9.34m-9.34,0l9.34,-9.34M156.59,558.65l9.34,9.34m-9.34,0l9.34,-9.34M162.01,579.63l9.34,9.34m-9.34,0l9.34,-9.34M167.44,610.1l9.34,9.34m-9.34,0l9.34,-9.34M172.86,622.9l9.34,9.34m-9.34,0l9.34,-9.34M178.29,642.45l9.34,9.34m-9.34,0l9.34,-9.34M183.71,663.18l9.34,9.34m-9.34,0l9.34,-9.34M189.13,678.04l9.34,9.34m-9.34,0l9.34,-9.34M194.56,695l9.34,9.34m-9.34,0l9.34,-9.34M199.98,706.66l9.34,9.34m-9.34,0l9.34,-9.34M205.4,717.96l9.34,9.34m-9.34,0l9.34,-9.34M210.83,730.72l9.34,9.34m-9.34,0l9.34,-9.34M216.25,739.09l9.34,9.34m-9.34,0l9.34,-9.34M221.67,753.91l9.34,9.34m-9.34,0l9.34,-9.34M227.1,761.16l9.34,9.34m-9.34,0l9.34,-9.34M232.52,771l9.34,9.34m-9.34,0l9.34,-9.34M237.94,778.87l9.34,9.34m-9.34,0l9.34,-9.34M243.37,785l9.34,9.34m-9.34,0l9.34,-9.34M248.79,790.97l9.34,9.34m-9.34,0l9.34,-9.34M254.21,796.81l9.34,9.34m-9.34,0l9.34,-9.34M259.64,802.37l9.34,9.34m-9.34,0l9.34,-9.34M265.06,805.16l9.34,9.34m-9.34,0l9.34,-9.34M270.48,812l9.34,9.34m-9.34,0l9.34,-9.34M275.91,819.76l9.34,9.34m-9.34,0l9.34,-9.34M281.33,821.51l9.34,9.34m-9.34,0l9.34,-9.34M286.76,826.34l9.34,9.34m-9.34,0l9.34,-9.34M292.18,829.7l9.34,9.34m-9.34,0l9.34,-9.34M297.6,830.87l9.34,9.34m-9.34,0l9.34,-9.34M303.03,835.58l9.34,9.34m-9.34,0l9.34,-9.34M308.45,840.15l9.34,9.34m-9.34,0l9.34,-9.34M313.87,840.36l9.34,9.34m-9.34,0l9.34,-9.34M319.3,843.32l9.34,9.34m-9.34,0l9.34,-9.34M324.72,846.3l9.34,9.34m-9.34,0l9.34,-9.34M330.14,848.05l9.34,9.34m-9.34,0l9.34,-9.34M335.57,849.63l9.34,9.34m-9.34,0l9.34,-9.34M340.99,850.83l9.34,9.34m-9.34,0l9.34,-9.34M346.41,852.74l9.34,9.34m-9.34,0l9.34,-9.34M351.84,853.82l9.34,9.34m-9.34,0l9.34,-9.34M357.26,853.89l9.34,9.34m-9.34,0l9.34,-9.34M362.68,857.04l9.34,9.34m-9.34,0l9.34,-9.34M368.11,858.17l9.34,9.34m-9.34,0l9.34,-9.34M373.53,858.86l9.34,9.34m-9.34,0l9.34,-9.34M378.95,859l9.34,9.34m-9.34,0l9.34,-9.34M384.38,861.02l9.34,9.34m-9.34,0l9.34,-9.34M389.8,860.61l9.34,9.34m-9.34,0l9.34,-9.34M395.23,862.93l9.34,9.34m-9.34,0l9.34,-9.34M400.65,863.48l9.34,9.34m-9.34,0l9.34,-9.34M406.07,863.62l9.34,9.34m-9.34,0l9.34,-9.34M411.5,864.63l9.34,9.34m-9.34,0l9.34,-9.34M416.92,865.06l9.34,9.34m-9.34,0l9.34,-9.34M422.34,865.09l9.34,9.34m-9.34,0l9.34,-9.34M427.77,865.46l9.34,9.34m-9.34,0l9.34,-9.34M433.19,866.17l9.34,9.34m-9.34,0l9.34,-9.34M438.61,866.74l9.34,9.34m-9.34,0l9.34,-9.34M444.04,866.49l9.34,9.34m-9.34,0l9.34,-9.34M449.46,867.21l9.34,9.34m-9.34,0l9.34,-9.34M454.88,867.77l9.34,9.34m-9.34,0l9.34,-9.34M460.31,867.57l9.34,9.34m-9.34,0l9.34,-9.34M465.73,868.56l9.34,9.34m-9.34,0l9.34,-9.34M471.15,868.46l9.34,9.34m-9.34,0l9.34,-9.34M476.58,868.55l9.34,9.34m-9.34,0l9.34,-9.34M482,868.97l9.34,9.34m-9.34,0l9.34,-9.34M487.42,869.33l9.34,9.34m-9.34,0l9.34,-9.34M492.85,869.26l9.34,9.34m-9.34,0l9.34,-9.34M498.27,869.67l9.34,9.34m-9.34,0l9.34,-9.34M503.7,869.84l9.34,9.34m-9.34,0l9.34,-9.34M509.12,870.08l9.34,9.34m-9.34,0l9.34,-9.34M514.54,869.67l9.34,9.34m-9.34,0l9.34,-9.34M519.97,870.22l9.34,9.34m-9.34,0l9.34,-9.34M525.39,869.96l9.34,9.34m-9.34,0l9.34,-9.34M530.81,870.24l9.34,9.34m-9.34,0l9.34,-9.34M536.24,870.47l9.34,9.34m-9.34,0l9.34,-9.34M541.66,870.38l9.34,9.34m-9.34,0l9.34,-9.34M547.08,870.54l9.34,9.34m-9.34,0l9.34,-9.34M552.51,870.64l9.34,9.34m-9.34,0l9.34,-9.34M557.93,870.97l9.34,9.34m-9.34,0l9.34,-9.34M563.35,870.79l9.34,9.34m-9.34,0l9.34,-9.34M568.78,870.73l9.34,9.34m-9.34,0l9.34,-9.34M574.2,870.85l9.34,9.34m-9.34,0l9.34,-9.34M579.62,870.83l9.34,9.34m-9.34,0l9.34,-9.34M585.05,870.82l9.34,9.34m-9.34,0l9.34,-9.34M590.47,871.01l9.34,9.34m-9.34,0l9.34,-9.34M595.89,870.86l9.34,9.34m-9.34,0l9.34,-9.34" fill="none" stroke="#1f77b4" stroke-width="4.4"/>
<path d="M155.84,540.68h0M161.26,566.32h0M166.68,590h0M172.11,611.87h0M177.53,632.07h0M182.95,650.72h0M188.38,667.95h0M193.8,683.87h0M199.22,698.57h0M204.65,712.14h0M210.07,724.68h0M215.49,736.26h0M220.92,746.96h0M226.34,756.84h0M231.77,765.96h0M237.19,774.39h0M242.61,782.17h0M248.04,789.36h0M253.46,796h0M258.88,802.13h0M264.31,807.8h0M269.73,813.03h0M275.15,817.86h0M280.58,822.32h0M286,826.44h0M291.42,830.25h0M296.85,833.77h0M302.27,837.01h0M307.69,840.01h0M313.12,842.78h0M318.54,845.34h0M323.96,847.7h0M329.39,849.89h0M334.81,851.9h0M340.24,853.76h0M345.66,855.48h0M351.08,857.07h0M356.51,858.54h0M361.93,859.89h0M367.35,861.14h0M372.78,862.3h0M378.2,863.37h0M383.62,864.35h0M389.05,865.26h0M394.47,866.1h0M399.89,866.88h0M405.32,867.6h0M410.74,868.26h0M416.16,868.87h0M421.59,869.44h0M427.01,869.96h0M432.44,870.44h0M437.86,870.89h0M443.28,871.3h0M448.71,871.68h0M454.13,872.03h0M459.55,872.35h0M464.98,872.65h0M470.4,872.93h0M475.82,873.19h0M481.25,873.42h0M486.67,873.64h0M492.09,873.84h0M497.52,874.03h0M502.94,874.2h0M508.36,874.36h0M513.79,874.5h0M519.21,874.64h0M524.63,874.76h0M530.06,874.88h0M535.48,874.98h0M540.91,875.08h0M546.33,875.17h0M551.75,875.26h0M557.18,875.34h0M562.6,875.41h0M568.02,875.47h0M573.45,875.53h0M578.87,875.59h0M584.29,875.64h0M589.72,875.69h0M595.14,875.74h0M600.56,875.78h0" fill="none" stroke="#ff7f0e" stroke-width="9.7" stroke-linecap="round"/>
<path d="M221.41,523.9V892.5" stroke="#000" stroke-width="4.3"/>
<path d="M155.84,892.5v-10.3M155.84,523.9v10.3M264.31,892.5v-10.3M264.31,523.9v10.3M372.78,892.5v-10.3M372.78,523.9v10.3M481.25,892.5v-10.3M481.25,523.9v10.3M589.72,892.5v-10.3M589.72,523.9v10.3M133.6,876.27h10.3M622.8,876.27h-10.3M133.6,766.45h10.3M622.8,766.45h-10.3M133.6,656.63h10.3M622.8,656.63h-10.3M133.6,546.8h10.3M622.8,546.8h-10.3" stroke="#000" stroke-width="2.5" fill="none"/>
<rect x="133.6" y="523.9" width="489.2" height="368.6" fill="none" stroke="#000" stroke-width="2.65"/>
<text font-size="41" text-anchor="middle" transform="translate(156.24,930.5) scale(0.96,1)">0</text>
<text font-size="41" text-anchor="middle" transform="translate(264.71,930.5) scale(0.96,1)">20</text>
<text font-size="41" text-anchor="middle" transform="translate(373.18,930.5) scale(0.96,1)">40</text>
<text font-size="41" text-anchor="middle" transform="translate(481.65,930.5) scale(0.96,1)">60</text>
<text font-size="41" text-anchor="middle" transform="translate(590.12,930.5) scale(0.96,1)">80</text>
<text font-size="41" text-anchor="end" transform="translate(123.3,890.77) scale(0.96,1)">0.00</text>
<text font-size="41" text-anchor="end" transform="translate(123.3,780.95) scale(0.96,1)">0.25</text>
<text font-size="41" text-anchor="end" transform="translate(123.3,671.13) scale(0.96,1)">0.50</text>
<text font-size="41" text-anchor="end" transform="translate(123.3,561.3) scale(0.96,1)">0.75</text>
<text font-size="40.5" font-style="italic" transform="matrix(0.9802,0,0,0.9421,159.91,507.06)">p</text>
<text font-size="40.5" transform="matrix(1.4464,0,0,1.0212,196.2,510.35)">=</text>
<text font-size="41" transform="matrix(1.0016,0,0,1,244.68,507.1)">3</text>
<text font-size="40.5" transform="matrix(1.2096,0,0,1.2401,275.31,513.7)">×</text>
<text font-size="41" transform="matrix(0.9656,0,0,1,313.07,507.1)">10</text>
<text font-size="28.6" class="s" transform="matrix(1.3309,0,0,1.2587,353.1,497.27)">−</text>
<text font-size="28.6" class="s" transform="matrix(0.9919,0,0,1,374.42,492.8)">1</text>
<text font-size="40.5" transform="matrix(1.0327,0,0,1,396.37,507.1)">IV</text>
<text font-size="40.5" transform="matrix(1.3916,0,0,1.4793,442.43,516.47)">/</text>
<text font-size="40.5" transform="matrix(0.9528,0,0,1.0921,462.09,507.67)">(</text>
<text font-size="40.5" transform="matrix(0.9705,0,0,1,475.06,507.1)">cell</text>
<text font-size="40.5" transform="matrix(1.0381,0,0,1.0381,539.01,511.23)">·</text>
<text font-size="40.5" transform="matrix(1.0621,0,0,1,560.4,507.1)">h</text>
<text font-size="40.5" transform="matrix(0.9531,0,0,1.0921,582.38,507.67)">)</text>
<text font-size="33.8" font-weight="bold" transform="matrix(1.1417,0,0,1.1163,545.79,570.25)">(</text>
<text font-size="33.8" font-weight="bold" transform="matrix(1.2259,0,0,1,559.5,569.3)">D</text>
<text font-size="33.8" font-weight="bold" transform="matrix(1.1306,0,0,1.1163,589.19,570.25)">)</text>
<g transform="translate(33.2,896.8) rotate(-90)">
<text font-size="40.5" transform="matrix(1.0757,0,0,1,-1.48,0)">Prob.</text>
<text font-size="40.5" transform="matrix(1.0453,0,0,1,103.64,0)">or</text>
<text font-size="40.5" transform="matrix(1.0071,0,0,1,151.66,0)">freq.</text>
<text font-size="40.5" transform="matrix(0.9915,0,0,1.0921,242.32,0.57)">(</text>
<text font-size="40.5" transform="matrix(1.2157,0,0,1.2401,257.59,6.6)">×</text>
<text font-size="41" transform="matrix(0.9572,0,0,1,286.7,0)">10</text>
<text font-size="28.6" class="s" transform="matrix(1.3309,0,0,1.2587,326.2,-9.83)">−</text>
<text font-size="28.6" class="s" transform="matrix(0.9919,0,0,1,347.72,-14.3)">1</text>
<text font-size="40.5" transform="matrix(0.934,0,0,1.0921,364.3,0.57)">)</text>
</g>
</g>
<g id="panelE">
<path d="M836.17,552.68l9.34,9.34m-9.34,0l9.34,-9.34M837.87,535.99l9.34,9.34m-9.34,0l9.34,-9.34M839.56,562.22l9.34,9.34m-9.34,0l9.34,-9.34M841.26,569.62l9.34,9.34m-9.34,0l9.34,-9.34M842.96,567.48l9.34,9.34m-9.34,0l9.34,-9.34M844.65,590.13l9.34,9.34m-9.34,0l9.34,-9.34M846.35,586.09l9.34,9.34m-9.34,0l9.34,-9.34M848.05,603.67l9.34,9.34m-9.34,0l9.34,-9.34M849.75,593.55l9.34,9.34m-9.34,0l9.34,-9.34M851.44,604.63l9.34,9.34m-9.34,0l9.34,-9.34M853.14,605.47l9.34,9.34m-9.34,0l9.34,-9.34M854.84,620.77l9.34,9.34m-9.34,0l9.34,-9.34M856.54,622.58l9.34,9.34m-9.34,0l9.34,-9.34M858.23,631.79l9.34,9.34m-9.34,0l9.34,-9.34M859.93,639.7l9.34,9.34m-9.34,0l9.34,-9.34M861.63,641.31l9.34,9.34m-9.34,0l9.34,-9.34M863.33,653.21l9.34,9.34m-9.34,0l9.34,-9.34M865.02,654.53l9.34,9.34m-9.34,0l9.34,-9.34M866.72,655.16l9.34,9.34m-9.34,0l9.34,-9.34M868.42,663.14l9.34,9.34m-9.34,0l9.34,-9.34M870.12,670.2l9.34,9.34m-9.34,0l9.34,-9.34M871.81,664.03l9.34,9.34m-9.34,0l9.34,-9.34M873.51,677.89l9.34,9.34m-9.34,0l9.34,-9.34M875.21,685.25l9.34,9.34m-9.34,0l9.34,-9.34M876.91,686.73l9.34,9.34m-9.34,0l9.34,-9.34M878.6,693.95l9.34,9.34m-9.34,0l9.34,-9.34M880.3,697.72l9.34,9.34m-9.34,0l9.34,-9.34M882,701.81l9.34,9.34m-9.34,0l9.34,-9.34M883.7,696.66l9.34,9.34m-9.34,0l9.34,-9.34M885.39,708.51l9.34,9.34m-9.34,0l9.34,-9.34M887.09,711.87l9.34,9.34m-9.34,0l9.34,-9.34M888.79,713.85l9.34,9.34m-9.34,0l9.34,-9.34M890.49,712.65l9.34,9.34m-9.34,0l9.34,-9.34M892.18,724.62l9.34,9.34m-9.34,0l9.34,-9.34M893.88,729.64l9.34,9.34m-9.34,0l9.34,-9.34M895.58,722l9.34,9.34m-9.34,0l9.34,-9.34M897.28,739.43l9.34,9.34m-9.34,0l9.34,-9.34M898.97,738.86l9.34,9.34m-9.34,0l9.34,-9.34M900.67,738.52l9.34,9.34m-9.34,0l9.34,-9.34M902.37,736.19l9.34,9.34m-9.34,0l9.34,-9.34M904.06,750.26l9.34,9.34m-9.34,0l9.34,-9.34M905.76,758.15l9.34,9.34m-9.34,0l9.34,-9.34M907.46,750.83l9.34,9.34m-9.34,0l9.34,-9.34M909.16,757.57l9.34,9.34m-9.34,0l9.34,-9.34M910.85,759.91l9.34,9.34m-9.34,0l9.34,-9.34M912.55,759.94l9.34,9.34m-9.34,0l9.34,-9.34M914.25,763.36l9.34,9.34m-9.34,0l9.34,-9.34M915.95,765.76l9.34,9.34m-9.34,0l9.34,-9.34M917.64,770.51l9.34,9.34m-9.34,0l9.34,-9.34M919.34,767.78l9.34,9.34m-9.34,0l9.34,-9.34M921.04,769.6l9.34,9.34m-9.34,0l9.34,-9.34M922.74,776.34l9.34,9.34m-9.34,0l9.34,-9.34M924.43,780.05l9.34,9.34m-9.34,0l9.34,-9.34M926.13,778.87l9.34,9.34m-9.34,0l9.34,-9.34M927.83,781.81l9.34,9.34m-9.34,0l9.34,-9.34M929.53,788.22l9.34,9.34m-9.34,0l9.34,-9.34M931.22,788.66l9.34,9.34m-9.34,0l9.34,-9.34M932.92,786.55l9.34,9.34m-9.34,0l9.34,-9.34M934.62,791.66l9.34,9.34m-9.34,0l9.34,-9.34M936.32,794.21l9.34,9.34m-9.34,0l9.34,-9.34M938.01,794.67l9.34,9.34m-9.34,0l9.34,-9.34M939.71,797.16l9.34,9.34m-9.34,0l9.34,-9.34M941.41,798.87l9.34,9.34m-9.34,0l9.34,-9.34M943.11,805.53l9.34,9.34m-9.34,0l9.34,-9.34M944.8,797.94l9.34,9.34m-9.34,0l9.34,-9.34M946.5,803.51l9.34,9.34m-9.34,0l9.34,-9.34M948.2,807.78l9.34,9.34m-9.34,0l9.34,-9.34M949.9,804.86l9.34,9.34m-9.34,0l9.34,-9.34M951.59,808.04l9.34,9.34m-9.34,0l9.34,-9.34M953.29,810.25l9.34,9.34m-9.34,0l9.34,-9.34M954.99,809.33l9.34,9.34m-9.34,0l9.34,-9.34M956.69,808.01l9.34,9.34m-9.34,0l9.34,-9.34M958.38,813.36l9.34,9.34m-9.34,0l9.34,-9.34M960.08,812.43l9.34,9.34m-9.34,0l9.34,-9.34M961.78,812.55l9.34,9.34m-9.34,0l9.34,-9.34M963.48,820.89l9.34,9.34m-9.34,0l9.34,-9.34M965.17,821.06l9.34,9.34m-9.34,0l9.34,-9.34M966.87,819.51l9.34,9.34m-9.34,0l9.34,-9.34M968.57,825.99l9.34,9.34m-9.34,0l9.34,-9.34M970.26,824.13l9.34,9.34m-9.34,0l9.34,-9.34M971.96,822.06l9.34,9.34m-9.34,0l9.34,-9.34M973.66,823.73l9.34,9.34m-9.34,0l9.34,-9.34M975.36,825.79l9.34,9.34m-9.34,0l9.34,-9.34M977.05,831.8l9.34,9.34m-9.34,0l9.34,-9.34M978.75,824.46l9.34,9.34m-9.34,0l9.34,-9.34M980.45,829.03l9.34,9.34m-9.34,0l9.34,-9.34M982.15,829.63l9.34,9.34m-9.34,0l9.34,-9.34M983.84,831.14l9.34,9.34m-9.34,0l9.34,-9.34M985.54,836.24l9.34,9.34m-9.34,0l9.34,-9.34M987.24,836.61l9.34,9.34m-9.34,0l9.34,-9.34M988.94,837.08l9.34,9.34m-9.34,0l9.34,-9.34M990.63,832.29l9.34,9.34m-9.34,0l9.34,-9.34M992.33,838.09l9.34,9.34m-9.34,0l9.34,-9.34M994.03,837.87l9.34,9.34m-9.34,0l9.34,-9.34M995.73,838.71l9.34,9.34m-9.34,0l9.34,-9.34M997.42,838.09l9.34,9.34m-9.34,0l9.34,-9.34M999.12,839l9.34,9.34m-9.34,0l9.34,-9.34M1000.82,840.16l9.34,9.34m-9.34,0l9.34,-9.34M1002.52,843.45l9.34,9.34m-9.34,0l9.34,-9.34M1004.21,847.22l9.34,9.34m-9.34,0l9.34,-9.34M1005.91,842.52l9.34,9.34m-9.34,0l9.34,-9.34M1007.61,843.06l9.34,9.34m-9.34,0l9.34,-9.34M1009.31,842.22l9.34,9.34m-9.34,0l9.34,-9.34M1011,844.98l9.34,9.34m-9.34,0l9.34,-9.34M1012.7,846.4l9.34,9.34m-9.34,0l9.34,-9.34M1014.4,845.46l9.34,9.34m-9.34,0l9.34,-9.34M1016.1,849.03l9.34,9.34m-9.34,0l9.34,-9.34M1017.79,848.84l9.34,9.34m-9.34,0l9.34,-9.34M1019.49,849.35l9.34,9.34m-9.34,0l9.34,-9.34M1021.19,848.03l9.34,9.34m-9.34,0l9.34,-9.34M1022.89,846.01l9.34,9.34m-9.34,0l9.34,-9.34M1024.58,848.46l9.34,9.34m-9.34,0l9.34,-9.34M1026.28,848.48l9.34,9.34m-9.34,0l9.34,-9.34M1027.98,850.26l9.34,9.34m-9.34,0l9.34,-9.34M1029.67,850.71l9.34,9.34m-9.34,0l9.34,-9.34M1031.37,852.18l9.34,9.34m-9.34,0l9.34,-9.34M1033.07,852.43l9.34,9.34m-9.34,0l9.34,-9.34M1034.77,855.71l9.34,9.34m-9.34,0l9.34,-9.34M1036.46,854.54l9.34,9.34m-9.34,0l9.34,-9.34M1038.16,855.07l9.34,9.34m-9.34,0l9.34,-9.34M1039.86,852.8l9.34,9.34m-9.34,0l9.34,-9.34M1041.56,853.45l9.34,9.34m-9.34,0l9.34,-9.34M1043.25,853.29l9.34,9.34m-9.34,0l9.34,-9.34M1044.95,853.2l9.34,9.34m-9.34,0l9.34,-9.34M1046.65,855.86l9.34,9.34m-9.34,0l9.34,-9.34M1048.35,854.62l9.34,9.34m-9.34,0l9.34,-9.34M1050.04,853.95l9.34,9.34m-9.34,0l9.34,-9.34M1051.74,856.63l9.34,9.34m-9.34,0l9.34,-9.34M1053.44,855.73l9.34,9.34m-9.34,0l9.34,-9.34M1055.14,857.51l9.34,9.34m-9.34,0l9.34,-9.34M1056.83,859.46l9.34,9.34m-9.34,0l9.34,-9.34M1058.53,857.86l9.34,9.34m-9.34,0l9.34,-9.34M1060.23,859.21l9.34,9.34m-9.34,0l9.34,-9.34M1061.93,858.51l9.34,9.34m-9.34,0l9.34,-9.34M1063.62,859.43l9.34,9.34m-9.34,0l9.34,-9.34M1065.32,858.9l9.34,9.34m-9.34,0l9.34,-9.34M1067.02,861.75l9.34,9.34m-9.34,0l9.34,-9.34M1068.72,857.68l9.34,9.34m-9.34,0l9.34,-9.34M1070.41,858.72l9.34,9.34m-9.34,0l9.34,-9.34M1072.11,860.72l9.34,9.34m-9.34,0l9.34,-9.34M1073.81,861.54l9.34,9.34m-9.34,0l9.34,-9.34M1075.51,860.89l9.34,9.34m-9.34,0l9.34,-9.34M1077.2,860.5l9.34,9.34m-9.34,0l9.34,-9.34M1078.9,860.99l9.34,9.34m-9.34,0l9.34,-9.34M1080.6,861.26l9.34,9.34m-9.34,0l9.34,-9.34M1082.3,863.7l9.34,9.34m-9.34,0l9.34,-9.34M1083.99,863.14l9.34,9.34m-9.34,0l9.34,-9.34M1085.69,861.11l9.34,9.34m-9.34,0l9.34,-9.34M1087.39,862.33l9.34,9.34m-9.34,0l9.34,-9.34M1089.09,864.11l9.34,9.34m-9.34,0l9.34,-9.34M1090.78,863.73l9.34,9.34m-9.34,0l9.34,-9.34M1092.48,864.42l9.34,9.34m-9.34,0l9.34,-9.34M1094.18,864.24l9.34,9.34m-9.34,0l9.34,-9.34M1095.87,862.56l9.34,9.34m-9.34,0l9.34,-9.34M1097.57,863.93l9.34,9.34m-9.34,0l9.34,-9.34M1099.27,863l9.34,9.34m-9.34,0l9.34,-9.34M1100.97,863.96l9.34,9.34m-9.34,0l9.34,-9.34M1102.66,865.51l9.34,9.34m-9.34,0l9.34,-9.34M1104.36,864.98l9.34,9.34m-9.34,0l9.34,-9.34M1106.06,862.81l9.34,9.34m-9.34,0l9.34,-9.34M1107.76,865.39l9.34,9.34m-9.34,0l9.34,-9.34M1109.45,865.76l9.34,9.34m-9.34,0l9.34,-9.34M1111.15,864.15l9.34,9.34m-9.34,0l9.34,-9.34M1112.85,865.19l9.34,9.34m-9.34,0l9.34,-9.34M1114.55,865.41l9.34,9.34m-9.34,0l9.34,-9.34M1116.24,864.46l9.34,9.34m-9.34,0l9.34,-9.34M1117.94,866.97l9.34,9.34m-9.34,0l9.34,-9.34M1119.64,865.52l9.34,9.34m-9.34,0l9.34,-9.34M1121.34,866.71l9.34,9.34m-9.34,0l9.34,-9.34M1123.03,867.08l9.34,9.34m-9.34,0l9.34,-9.34M1124.73,866.78l9.34,9.34m-9.34,0l9.34,-9.34M1126.43,865.55l9.34,9.34m-9.34,0l9.34,-9.34M1128.13,866.56l9.34,9.34m-9.34,0l9.34,-9.34M1129.82,867.81l9.34,9.34m-9.34,0l9.34,-9.34M1131.52,867.43l9.34,9.34m-9.34,0l9.34,-9.34M1133.22,865.81l9.34,9.34m-9.34,0l9.34,-9.34M1134.92,866.25l9.34,9.34m-9.34,0l9.34,-9.34M1136.61,867.72l9.34,9.34m-9.34,0l9.34,-9.34M1138.31,865.59l9.34,9.34m-9.34,0l9.34,-9.34M1140.01,867.46l9.34,9.34m-9.34,0l9.34,-9.34M1141.71,868.07l9.34,9.34m-9.34,0l9.34,-9.34M1143.4,867.51l9.34,9.34m-9.34,0l9.34,-9.34M1145.1,866.96l9.34,9.34m-9.34,0l9.34,-9.34M1146.8,866.66l9.34,9.34m-9.34,0l9.34,-9.34M1148.5,867.1l9.34,9.34m-9.34,0l9.34,-9.34M1150.19,868.04l9.34,9.34m-9.34,0l9.34,-9.34M1151.89,868.2l9.34,9.34m-9.34,0l9.34,-9.34M1153.59,868.79l9.34,9.34m-9.34,0l9.34,-9.34M1155.28,868.09l9.34,9.34m-9.34,0l9.34,-9.34M1156.98,868.46l9.34,9.34m-9.34,0l9.34,-9.34M1158.68,868.07l9.34,9.34m-9.34,0l9.34,-9.34M1160.38,868.97l9.34,9.34m-9.34,0l9.34,-9.34M1162.07,868.63l9.34,9.34m-9.34,0l9.34,-9.34M1163.77,868.89l9.34,9.34m-9.34,0l9.34,-9.34M1165.47,869.13l9.34,9.34m-9.34,0l9.34,-9.34M1167.17,869.18l9.34,9.34m-9.34,0l9.34,-9.34M1168.86,869.15l9.34,9.34m-9.34,0l9.34,-9.34M1170.56,869.3l9.34,9.34m-9.34,0l9.34,-9.34M1172.26,868.48l9.34,9.34m-9.34,0l9.34,-9.34M1173.96,868.78l9.34,9.34m-9.34,0l9.34,-9.34M1175.65,869.53l9.34,9.34m-9.34,0l9.34,-9.34M1177.35,868.7l9.34,9.34m-9.34,0l9.34,-9.34M1179.05,868.87l9.34,9.34m-9.34,0l9.34,-9.34M1180.75,868.38l9.34,9.34m-9.34,0l9.34,-9.34M1182.44,869.21l9.34,9.34m-9.34,0l9.34,-9.34M1184.14,869.27l9.34,9.34m-9.34,0l9.34,-9.34M1185.84,869.54l9.34,9.34m-9.34,0l9.34,-9.34M1187.54,869.22l9.34,9.34m-9.34,0l9.34,-9.34M1189.23,869.11l9.34,9.34m-9.34,0l9.34,-9.34M1190.93,869.3l9.34,9.34m-9.34,0l9.34,-9.34M1192.63,869.53l9.34,9.34m-9.34,0l9.34,-9.34M1194.33,869.23l9.34,9.34m-9.34,0l9.34,-9.34M1196.02,869.48l9.34,9.34m-9.34,0l9.34,-9.34M1197.72,869.46l9.34,9.34m-9.34,0l9.34,-9.34M1199.42,869.99l9.34,9.34m-9.34,0l9.34,-9.34M1201.12,869.56l9.34,9.34m-9.34,0l9.34,-9.34M1202.81,870.08l9.34,9.34m-9.34,0l9.34,-9.34M1204.51,870.06l9.34,9.34m-9.34,0l9.34,-9.34M1206.21,869.7l9.34,9.34m-9.34,0l9.34,-9.34M1207.91,869l9.34,9.34m-9.34,0l9.34,-9.34M1209.6,869.46l9.34,9.34m-9.34,0l9.34,-9.34M1211.3,869.88l9.34,9.34m-9.34,0l9.34,-9.34M1213,869.98l9.34,9.34m-9.34,0l9.34,-9.34M1214.7,869.59l9.34,9.34m-9.34,0l9.34,-9.34M1216.39,869.48l9.34,9.34m-9.34,0l9.34,-9.34M1218.09,869.58l9.34,9.34m-9.34,0l9.34,-9.34M1219.79,870.11l9.34,9.34m-9.34,0l9.34,-9.34M1221.48,870.01l9.34,9.34m-9.34,0l9.34,-9.34M1223.18,870.22l9.34,9.34m-9.34,0l9.34,-9.34M1224.88,870.24l9.34,9.34m-9.34,0l9.34,-9.34M1226.58,870.46l9.34,9.34m-9.34,0l9.34,-9.34M1228.27,870.28l9.34,9.34m-9.34,0l9.34,-9.34M1229.97,870.93l9.34,9.34m-9.34,0l9.34,-9.34M1231.67,870.64l9.34,9.34m-9.34,0l9.34,-9.34M1233.37,870.14l9.34,9.34m-9.34,0l9.34,-9.34M1235.06,870.6l9.34,9.34m-9.34,0l9.34,-9.34M1236.76,870.16l9.34,9.34m-9.34,0l9.34,-9.34M1238.46,870.76l9.34,9.34m-9.34,0l9.34,-9.34M1240.16,870.49l9.34,9.34m-9.34,0l9.34,-9.34M1241.85,870.28l9.34,9.34m-9.34,0l9.34,-9.34M1243.55,870.74l9.34,9.34m-9.34,0l9.34,-9.34M1245.25,870.66l9.34,9.34m-9.34,0l9.34,-9.34M1246.95,869.75l9.34,9.34m-9.34,0l9.34,-9.34M1248.64,870.69l9.34,9.34m-9.34,0l9.34,-9.34M1250.34,870.71l9.34,9.34m-9.34,0l9.34,-9.34M1252.04,870.69l9.34,9.34m-9.34,0l9.34,-9.34M1253.74,870.54l9.34,9.34m-9.34,0l9.34,-9.34M1255.43,870.58l9.34,9.34m-9.34,0l9.34,-9.34M1257.13,870.33l9.34,9.34m-9.34,0l9.34,-9.34M1258.83,870.4l9.34,9.34m-9.34,0l9.34,-9.34M1260.53,870.73l9.34,9.34m-9.34,0l9.34,-9.34M1262.22,870.74l9.34,9.34m-9.34,0l9.34,-9.34M1263.92,871.03l9.34,9.34m-9.34,0l9.34,-9.34M1265.62,871.06l9.34,9.34m-9.34,0l9.34,-9.34M1267.32,870.88l9.34,9.34m-9.34,0l9.34,-9.34M1269.01,870.53l9.34,9.34m-9.34,0l9.34,-9.34M1270.71,870.7l9.34,9.34m-9.34,0l9.34,-9.34M1272.41,870.55l9.34,9.34m-9.34,0l9.34,-9.34M1274.11,870.53l9.34,9.34m-9.34,0l9.34,-9.34M1275.8,870.81l9.34,9.34m-9.34,0l9.34,-9.34M1277.5,870.3l9.34,9.34m-9.34,0l9.34,-9.34M1279.2,870.92l9.34,9.34m-9.34,0l9.34,-9.34M1280.89,870.95l9.34,9.34m-9.34,0l9.34,-9.34" fill="none" stroke="#1f77b4" stroke-width="4.4"/>
<path d="M840.84,544.72h0M842.53,552.74h0M844.23,560.57h0M845.93,568.2h0M847.63,575.66h0M849.32,582.93h0M851.02,590.03h0M852.72,596.95h0M854.42,603.71h0M856.11,610.3h0M857.81,616.74h0M859.51,623.01h0M861.21,629.14h0M862.9,635.12h0M864.6,640.95h0M866.3,646.64h0M868,652.2h0M869.69,657.62h0M871.39,662.9h0M873.09,668.06h0M874.79,673.1h0M876.48,678.01h0M878.18,682.81h0M879.88,687.49h0M881.57,692.05h0M883.27,696.5h0M884.97,700.85h0M886.67,705.09h0M888.36,709.23h0M890.06,713.27h0M891.76,717.21h0M893.46,721.06h0M895.15,724.81h0M896.85,728.47h0M898.55,732.04h0M900.25,735.53h0M901.94,738.93h0M903.64,742.25h0M905.34,745.49h0M907.04,748.65h0M908.73,751.73h0M910.43,754.74h0M912.13,757.68h0M913.83,760.54h0M915.52,763.34h0M917.22,766.07h0M918.92,768.73h0M920.62,771.33h0M922.31,773.86h0M924.01,776.34h0M925.71,778.75h0M927.41,781.11h0M929.1,783.4h0M930.8,785.65h0M932.5,787.83h0M934.2,789.97h0M935.89,792.05h0M937.59,794.09h0M939.29,796.07h0M940.98,798.01h0M942.68,799.89h0M944.38,801.74h0M946.08,803.54h0M947.77,805.29h0M949.47,807h0M951.17,808.68h0M952.87,810.31h0M954.56,811.9h0M956.26,813.45h0M957.96,814.96h0M959.66,816.44h0M961.35,817.89h0M963.05,819.29h0M964.75,820.67h0M966.45,822.01h0M968.14,823.31h0M969.84,824.59h0M971.54,825.84h0M973.24,827.05h0M974.93,828.24h0M976.63,829.39h0M978.33,830.52h0M980.03,831.62h0M981.72,832.7h0M983.42,833.75h0M985.12,834.77h0M986.82,835.77h0M988.51,836.74h0M990.21,837.7h0M991.91,838.62h0M993.61,839.53h0M995.3,840.41h0M997,841.27h0M998.7,842.12h0M1000.4,842.94h0M1002.09,843.74h0M1003.79,844.52h0M1005.49,845.28h0M1007.18,846.03h0M1008.88,846.75h0M1010.58,847.46h0M1012.28,848.15h0M1013.97,848.83h0M1015.67,849.49h0M1017.37,850.13h0M1019.07,850.76h0M1020.76,851.37h0M1022.46,851.96h0M1024.16,852.55h0M1025.86,853.11h0M1027.55,853.67h0M1029.25,854.21h0M1030.95,854.74h0M1032.65,855.25h0M1034.34,855.76h0M1036.04,856.25h0M1037.74,856.73h0M1039.44,857.19h0M1041.13,857.65h0M1042.83,858.09h0M1044.53,858.53h0M1046.23,858.95h0M1047.92,859.36h0M1049.62,859.77h0M1051.32,860.16h0M1053.02,860.55h0M1054.71,860.92h0M1056.41,861.29h0M1058.11,861.64h0M1059.81,861.99h0M1061.5,862.33h0M1063.2,862.66h0M1064.9,862.98h0M1066.59,863.3h0M1068.29,863.61h0M1069.99,863.91h0M1071.69,864.2h0M1073.38,864.49h0M1075.08,864.77h0M1076.78,865.04h0M1078.48,865.31h0M1080.17,865.57h0M1081.87,865.82h0M1083.57,866.07h0M1085.27,866.31h0M1086.96,866.54h0M1088.66,866.77h0M1090.36,866.99h0M1092.06,867.21h0M1093.75,867.43h0M1095.45,867.63h0M1097.15,867.84h0M1098.85,868.04h0M1100.54,868.23h0M1102.24,868.42h0M1103.94,868.6h0M1105.64,868.78h0M1107.33,868.96h0M1109.03,869.13h0M1110.73,869.29h0M1112.43,869.46h0M1114.12,869.62h0M1115.82,869.77h0M1117.52,869.92h0M1119.22,870.07h0M1120.91,870.21h0M1122.61,870.35h0M1124.31,870.49h0M1126,870.63h0M1127.7,870.76h0M1129.4,870.88h0M1131.1,871.01h0M1132.79,871.13h0M1134.49,871.25h0M1136.19,871.36h0M1137.89,871.48h0M1139.58,871.59h0M1141.28,871.69h0M1142.98,871.8h0M1144.68,871.9h0M1146.37,872h0M1148.07,872.1h0M1149.77,872.19h0M1151.47,872.28h0M1153.16,872.38h0M1154.86,872.46h0M1156.56,872.55h0M1158.26,872.63h0M1159.95,872.72h0M1161.65,872.8h0M1163.35,872.87h0M1165.05,872.95h0M1166.74,873.02h0M1168.44,873.1h0M1170.14,873.17h0M1171.84,873.24h0M1173.53,873.3h0M1175.23,873.37h0M1176.93,873.43h0M1178.63,873.5h0M1180.32,873.56h0M1182.02,873.62h0M1183.72,873.68h0M1185.42,873.73h0M1187.11,873.79h0M1188.81,873.84h0M1190.51,873.89h0M1192.2,873.95h0M1193.9,874h0M1195.6,874.04h0M1197.3,874.09h0M1198.99,874.14h0M1200.69,874.18h0M1202.39,874.23h0M1204.09,874.27h0M1205.78,874.31h0M1207.48,874.36h0M1209.18,874.4h0M1210.88,874.44h0M1212.57,874.47h0M1214.27,874.51h0M1215.97,874.55h0M1217.67,874.58h0M1219.36,874.62h0M1221.06,874.65h0M1222.76,874.69h0M1224.46,874.72h0M1226.15,874.75h0M1227.85,874.78h0M1229.55,874.81h0M1231.25,874.84h0M1232.94,874.87h0M1234.64,874.9h0M1236.34,874.92h0M1238.04,874.95h0M1239.73,874.98h0M1241.43,875h0M1243.13,875.03h0M1244.83,875.05h0M1246.52,875.07h0M1248.22,875.1h0M1249.92,875.12h0M1251.61,875.14h0M1253.31,875.16h0M1255.01,875.18h0M1256.71,875.2h0M1258.4,875.22h0M1260.1,875.24h0M1261.8,875.26h0M1263.5,875.28h0M1265.19,875.3h0M1266.89,875.31h0M1268.59,875.33h0M1270.29,875.35h0M1271.98,875.36h0M1273.68,875.38h0M1275.38,875.4h0M1277.08,875.41h0M1278.77,875.43h0M1280.47,875.44h0M1282.17,875.45h0M1283.87,875.47h0M1285.56,875.48h0" fill="none" stroke="#ff7f0e" stroke-width="9.7" stroke-linecap="round"/>
<path d="M909.24,523.9V892.5" stroke="#000" stroke-width="4.3"/>
<path d="M840.84,892.5v-10.3M840.84,523.9v10.3M1010.58,892.5v-10.3M1010.58,523.9v10.3M1180.32,892.5v-10.3M1180.32,523.9v10.3M818.6,876.02h10.3M1307.8,876.02h-10.3M818.6,739.19h10.3M1307.8,739.19h-10.3M818.6,602.36h10.3M1307.8,602.36h-10.3" stroke="#000" stroke-width="2.5" fill="none"/>
<rect x="818.6" y="523.9" width="489.2" height="368.6" fill="none" stroke="#000" stroke-width="2.65"/>
<text font-size="41" text-anchor="middle" transform="translate(841.24,930.5) scale(0.96,1)">0</text>
<text font-size="41" text-anchor="middle" transform="translate(1010.98,930.5) scale(0.96,1)">100</text>
<text font-size="41" text-anchor="middle" transform="translate(1180.72,930.5) scale(0.96,1)">200</text>
<text font-size="41" text-anchor="end" transform="translate(808.3,890.52) scale(0.96,1)">0.0</text>
<text font-size="41" text-anchor="end" transform="translate(808.3,753.69) scale(0.96,1)">0.1</text>
<text font-size="41" text-anchor="end" transform="translate(808.3,616.86) scale(0.96,1)">0.2</text>
<text font-size="40.5" font-style="italic" transform="matrix(0.9802,0,0,0.9421,890.11,507.06)">p</text>
<text font-size="40.5" transform="matrix(1.4199,0,0,1.0212,926.75,510.35)">=</text>
<text font-size="41" transform="matrix(0.9767,0,0,1,975.03,507.1)">10</text>
<text font-size="28.6" class="s" transform="matrix(0.9132,0,0,1,1015.92,492.8)">0</text>
<text font-size="40.5" transform="matrix(1.0327,0,0,1,1036.27,507.1)">IV</text>
<text font-size="40.5" transform="matrix(1.3916,0,0,1.4793,1082.33,516.47)">/</text>
<text font-size="40.5" transform="matrix(0.9528,0,0,1.0921,1101.99,507.67)">(</text>
<text font-size="40.5" transform="matrix(0.9705,0,0,1,1114.96,507.1)">cell</text>
<text font-size="40.5" transform="matrix(1.0381,0,0,1.0381,1178.91,511.23)">·</text>
<text font-size="40.5" transform="matrix(1.0621,0,0,1,1200.3,507.1)">h</text>
<text font-size="40.5" transform="matrix(0.9531,0,0,1.0921,1222.28,507.67)">)</text>
<text font-size="33.8" font-weight="bold" transform="matrix(1.1417,0,0,1.1163,1232.84,570.25)">(</text>
<text font-size="33.8" font-weight="bold" transform="matrix(1.1408,0,0,1,1246.61,569.3)">E</text>
<text font-size="33.8" font-weight="bold" transform="matrix(1.1306,0,0,1.1163,1272.14,570.25)">)</text>
<g transform="translate(737.5,896.8) rotate(-90)">
<text font-size="40.5" transform="matrix(1.0757,0,0,1,-1.48,0)">Prob.</text>
<text font-size="40.5" transform="matrix(1.0453,0,0,1,103.64,0)">or</text>
<text font-size="40.5" transform="matrix(1.0071,0,0,1,151.66,0)">freq.</text>
<text font-size="40.5" transform="matrix(0.9915,0,0,1.0921,242.32,0.57)">(</text>
<text font-size="40.5" transform="matrix(1.2157,0,0,1.2401,257.59,6.6)">×</text>
<text font-size="41" transform="matrix(0.9572,0,0,1,286.7,0)">10</text>
<text font-size="28.6" class="s" transform="matrix(1.3309,0,0,1.2587,326.2,-9.83)">−</text>
<text font-size="28.6" class="s" transform="matrix(0.9919,0,0,1,347.72,-14.3)">1</text>
<text font-size="40.5" transform="matrix(0.934,0,0,1.0921,364.3,0.57)">)</text>
</g>
</g>
<g id="panelF">
<path d="M1521.07,588.96l9.34,9.34m-9.34,0l9.34,-9.34M1521.64,551.67l9.34,9.34m-9.34,0l9.34,-9.34M1522.21,542.36l9.34,9.34m-9.34,0l9.34,-9.34M1522.77,543.1l9.34,9.34m-9.34,0l9.34,-9.34M1523.34,568.28l9.34,9.34m-9.34,0l9.34,-9.34M1523.91,560.9l9.34,9.34m-9.34,0l9.34,-9.34M1524.48,535.99l9.34,9.34m-9.34,0l9.34,-9.34M1525.05,557.78l9.34,9.34m-9.34,0l9.34,-9.34M1525.62,576.06l9.34,9.34m-9.34,0l9.34,-9.34M1526.19,549.39l9.34,9.34m-9.34,0l9.34,-9.34M1526.75,566.08l9.34,9.34m-9.34,0l9.34,-9.34M1527.32,584.48l9.34,9.34m-9.34,0l9.34,-9.34M1527.89,568.11l9.34,9.34m-9.34,0l9.34,-9.34M1528.46,584.92l9.34,9.34m-9.34,0l9.34,-9.34M1529.03,564.42l9.34,9.34m-9.34,0l9.34,-9.34M1529.6,580.82l9.34,9.34m-9.34,0l9.34,-9.34M1530.17,564.13l9.34,9.34m-9.34,0l9.34,-9.34M1530.74,584.41l9.34,9.34m-9.34,0l9.34,-9.34M1531.3,595.07l9.34,9.34m-9.34,0l9.34,-9.34M1531.87,601.49l9.34,9.34m-9.34,0l9.34,-9.34M1532.44,603.71l9.34,9.34m-9.34,0l9.34,-9.34M1533.01,568.81l9.34,9.34m-9.34,0l9.34,-9.34M1533.58,598.09l9.34,9.34m-9.34,0l9.34,-9.34M1534.15,593.01l9.34,9.34m-9.34,0l9.34,-9.34M1534.72,588.53l9.34,9.34m-9.34,0l9.34,-9.34M1535.29,588.54l9.34,9.34m-9.34,0l9.34,-9.34M1535.85,629.75l9.34,9.34m-9.34,0l9.34,-9.34M1536.42,603.55l9.34,9.34m-9.34,0l9.34,-9.34M1536.99,614.69l9.34,9.34m-9.34,0l9.34,-9.34M1537.56,605.82l9.34,9.34m-9.34,0l9.34,-9.34M1538.13,625.1l9.34,9.34m-9.34,0l9.34,-9.34M1538.7,610.08l9.34,9.34m-9.34,0l9.34,-9.34M1539.27,623.2l9.34,9.34m-9.34,0l9.34,-9.34M1539.83,605.65l9.34,9.34m-9.34,0l9.34,-9.34M1540.4,612.16l9.34,9.34m-9.34,0l9.34,-9.34M1540.97,619.66l9.34,9.34m-9.34,0l9.34,-9.34M1541.54,633.68l9.34,9.34m-9.34,0l9.34,-9.34M1542.11,622.15l9.34,9.34m-9.34,0l9.34,-9.34M1542.68,625.74l9.34,9.34m-9.34,0l9.34,-9.34M1543.25,635.55l9.34,9.34m-9.34,0l9.34,-9.34M1543.82,638.12l9.34,9.34m-9.34,0l9.34,-9.34M1544.38,624.06l9.34,9.34m-9.34,0l9.34,-9.34M1544.95,622.73l9.34,9.34m-9.34,0l9.34,-9.34M1545.52,642.01l9.34,9.34m-9.34,0l9.34,-9.34M1546.09,636.86l9.34,9.34m-9.34,0l9.34,-9.34M1546.66,657.45l9.34,9.34m-9.34,0l9.34,-9.34M1547.23,632.81l9.34,9.34m-9.34,0l9.34,-9.34M1547.8,658.42l9.34,9.34m-9.34,0l9.34,-9.34M1548.37,633.36l9.34,9.34m-9.34,0l9.34,-9.34M1548.93,641.57l9.34,9.34m-9.34,0l9.34,-9.34M1549.5,656.93l9.34,9.34m-9.34,0l9.34,-9.34M1550.07,661.18l9.34,9.34m-9.34,0l9.34,-9.34M1550.64,665.1l9.34,9.34m-9.34,0l9.34,-9.34M1551.21,649.49l9.34,9.34m-9.34,0l9.34,-9.34M1551.78,679.37l9.34,9.34m-9.34,0l9.34,-9.34M1552.35,653.08l9.34,9.34m-9.34,0l9.34,-9.34M1552.92,660.9l9.34,9.34m-9.34,0l9.34,-9.34M1553.48,669.35l9.34,9.34m-9.34,0l9.34,-9.34M1554.05,643.14l9.34,9.34m-9.34,0l9.34,-9.34M1554.62,671.32l9.34,9.34m-9.34,0l9.34,-9.34M1555.19,671.87l9.34,9.34m-9.34,0l9.34,-9.34M1555.76,672.45l9.34,9.34m-9.34,0l9.34,-9.34M1556.33,685l9.34,9.34m-9.34,0l9.34,-9.34M1556.9,667.06l9.34,9.34m-9.34,0l9.34,-9.34M1557.46,681.96l9.34,9.34m-9.34,0l9.34,-9.34M1558.03,668.77l9.34,9.34m-9.34,0l9.34,-9.34M1558.6,671.21l9.34,9.34m-9.34,0l9.34,-9.34M1559.17,682.23l9.34,9.34m-9.34,0l9.34,-9.34M1559.74,677.26l9.34,9.34m-9.34,0l9.34,-9.34M1560.31,687.51l9.34,9.34m-9.34,0l9.34,-9.34M1560.88,684.55l9.34,9.34m-9.34,0l9.34,-9.34M1561.45,682.76l9.34,9.34m-9.34,0l9.34,-9.34M1562.01,673.58l9.34,9.34m-9.34,0l9.34,-9.34M1562.58,689.88l9.34,9.34m-9.34,0l9.34,-9.34M1563.15,692.1l9.34,9.34m-9.34,0l9.34,-9.34M1563.72,692.23l9.34,9.34m-9.34,0l9.34,-9.34M1564.29,695.27l9.34,9.34m-9.34,0l9.34,-9.34M1564.86,703.24l9.34,9.34m-9.34,0l9.34,-9.34M1565.43,683.19l9.34,9.34m-9.34,0l9.34,-9.34M1566,702.75l9.34,9.34m-9.34,0l9.34,-9.34M1566.56,703.89l9.34,9.34m-9.34,0l9.34,-9.34M1567.13,706.18l9.34,9.34m-9.34,0l9.34,-9.34M1567.7,697.53l9.34,9.34m-9.34,0l9.34,-9.34M1568.27,682.76l9.34,9.34m-9.34,0l9.34,-9.34M1568.84,683.73l9.34,9.34m-9.34,0l9.34,-9.34M1569.41,699.61l9.34,9.34m-9.34,0l9.34,-9.34M1569.98,705.49l9.34,9.34m-9.34,0l9.34,-9.34M1570.54,709.43l9.34,9.34m-9.34,0l9.34,-9.34M1571.11,717.6l9.34,9.34m-9.34,0l9.34,-9.34M1571.68,706.74l9.34,9.34m-9.34,0l9.34,-9.34M1572.25,713.83l9.34,9.34m-9.34,0l9.34,-9.34M1572.82,700.11l9.34,9.34m-9.34,0l9.34,-9.34M1573.39,697.79l9.34,9.34m-9.34,0l9.34,-9.34M1573.96,718.93l9.34,9.34m-9.34,0l9.34,-9.34M1574.53,725.18l9.34,9.34m-9.34,0l9.34,-9.34M1575.09,732.03l9.34,9.34m-9.34,0l9.34,-9.34M1575.66,732.83l9.34,9.34m-9.34,0l9.34,-9.34M1576.23,717.93l9.34,9.34m-9.34,0l9.34,-9.34M1576.8,720.97l9.34,9.34m-9.34,0l9.34,-9.34M1577.37,732.17l9.34,9.34m-9.34,0l9.34,-9.34M1577.94,735.88l9.34,9.34m-9.34,0l9.34,-9.34M1578.51,725l9.34,9.34m-9.34,0l9.34,-9.34M1579.08,730.4l9.34,9.34m-9.34,0l9.34,-9.34M1579.64,727.73l9.34,9.34m-9.34,0l9.34,-9.34M1580.21,730.51l9.34,9.34m-9.34,0l9.34,-9.34M1580.78,736.65l9.34,9.34m-9.34,0l9.34,-9.34M1581.35,743.97l9.34,9.34m-9.34,0l9.34,-9.34M1581.92,732.95l9.34,9.34m-9.34,0l9.34,-9.34M1582.49,734.32l9.34,9.34m-9.34,0l9.34,-9.34M1583.06,734.88l9.34,9.34m-9.34,0l9.34,-9.34M1583.63,731.12l9.34,9.34m-9.34,0l9.34,-9.34M1584.19,732.35l9.34,9.34m-9.34,0l9.34,-9.34M1584.76,742.48l9.34,9.34m-9.34,0l9.34,-9.34M1585.33,736.73l9.34,9.34m-9.34,0l9.34,-9.34M1585.9,755.18l9.34,9.34m-9.34,0l9.34,-9.34M1586.47,738.29l9.34,9.34m-9.34,0l9.34,-9.34M1587.04,743.81l9.34,9.34m-9.34,0l9.34,-9.34M1587.61,738.32l9.34,9.34m-9.34,0l9.34,-9.34M1588.17,739.56l9.34,9.34m-9.34,0l9.34,-9.34M1588.74,752.53l9.34,9.34m-9.34,0l9.34,-9.34M1589.31,748.53l9.34,9.34m-9.34,0l9.34,-9.34M1589.88,741.91l9.34,9.34m-9.34,0l9.34,-9.34M1590.45,753.09l9.34,9.34m-9.34,0l9.34,-9.34M1591.02,750.31l9.34,9.34m-9.34,0l9.34,-9.34M1591.59,755.43l9.34,9.34m-9.34,0l9.34,-9.34M1592.16,749.17l9.34,9.34m-9.34,0l9.34,-9.34M1592.72,751.92l9.34,9.34m-9.34,0l9.34,-9.34M1593.29,759.59l9.34,9.34m-9.34,0l9.34,-9.34M1593.86,764.08l9.34,9.34m-9.34,0l9.34,-9.34M1594.43,769.71l9.34,9.34m-9.34,0l9.34,-9.34M1595,752.46l9.34,9.34m-9.34,0l9.34,-9.34M1595.57,761.06l9.34,9.34m-9.34,0l9.34,-9.34M1596.14,763.42l9.34,9.34m-9.34,0l9.34,-9.34M1596.71,763.33l9.34,9.34m-9.34,0l9.34,-9.34M1597.27,766.52l9.34,9.34m-9.34,0l9.34,-9.34M1597.84,758.11l9.34,9.34m-9.34,0l9.34,-9.34M1598.41,759.35l9.34,9.34m-9.34,0l9.34,-9.34M1598.98,776.73l9.34,9.34m-9.34,0l9.34,-9.34M1599.55,764.89l9.34,9.34m-9.34,0l9.34,-9.34M1600.12,765l9.34,9.34m-9.34,0l9.34,-9.34M1600.69,768.3l9.34,9.34m-9.34,0l9.34,-9.34M1601.26,766.73l9.34,9.34m-9.34,0l9.34,-9.34M1601.82,758.74l9.34,9.34m-9.34,0l9.34,-9.34M1602.39,767.22l9.34,9.34m-9.34,0l9.34,-9.34M1602.96,763.15l9.34,9.34m-9.34,0l9.34,-9.34M1603.53,765.01l9.34,9.34m-9.34,0l9.34,-9.34M1604.1,779.89l9.34,9.34m-9.34,0l9.34,-9.34M1604.67,762.49l9.34,9.34m-9.34,0l9.34,-9.34M1605.24,771.95l9.34,9.34m-9.34,0l9.34,-9.34M1605.8,775.48l9.34,9.34m-9.34,0l9.34,-9.34M1606.37,770.12l9.34,9.34m-9.34,0l9.34,-9.34M1606.94,763.32l9.34,9.34m-9.34,0l9.34,-9.34M1607.51,780.55l9.34,9.34m-9.34,0l9.34,-9.34M1608.08,780.73l9.34,9.34m-9.34,0l9.34,-9.34M1608.65,775.89l9.34,9.34m-9.34,0l9.34,-9.34M1609.22,788.1l9.34,9.34m-9.34,0l9.34,-9.34M1609.79,785.29l9.34,9.34m-9.34,0l9.34,-9.34M1610.35,779.82l9.34,9.34m-9.34,0l9.34,-9.34M1610.92,776.87l9.34,9.34m-9.34,0l9.34,-9.34M1611.49,778.71l9.34,9.34m-9.34,0l9.34,-9.34M1612.06,777.9l9.34,9.34m-9.34,0l9.34,-9.34M1612.63,777.36l9.34,9.34m-9.34,0l9.34,-9.34M1613.2,786.04l9.34,9.34m-9.34,0l9.34,-9.34M1613.77,786.28l9.34,9.34m-9.34,0l9.34,-9.34M1614.34,786.82l9.34,9.34m-9.34,0l9.34,-9.34M1614.9,787.58l9.34,9.34m-9.34,0l9.34,-9.34M1615.47,780.89l9.34,9.34m-9.34,0l9.34,-9.34M1616.04,782.86l9.34,9.34m-9.34,0l9.34,-9.34M1616.61,798.45l9.34,9.34m-9.34,0l9.34,-9.34M1617.18,786.2l9.34,9.34m-9.34,0l9.34,-9.34M1617.75,794.67l9.34,9.34m-9.34,0l9.34,-9.34M1618.32,795.61l9.34,9.34m-9.34,0l9.34,-9.34M1618.88,784.19l9.34,9.34m-9.34,0l9.34,-9.34M1619.45,784.71l9.34,9.34m-9.34,0l9.34,-9.34M1620.02,786.14l9.34,9.34m-9.34,0l9.34,-9.34M1620.59,789.27l9.34,9.34m-9.34,0l9.34,-9.34M1621.16,784.31l9.34,9.34m-9.34,0l9.34,-9.34M1621.73,799.5l9.34,9.34m-9.34,0l9.34,-9.34M1622.3,790.43l9.34,9.34m-9.34,0l9.34,-9.34M1622.87,798.45l9.34,9.34m-9.34,0l9.34,-9.34M1623.43,798.73l9.34,9.34m-9.34,0l9.34,-9.34M1624,804.32l9.34,9.34m-9.34,0l9.34,-9.34M1624.57,789.66l9.34,9.34m-9.34,0l9.34,-9.34M1625.14,789.09l9.34,9.34m-9.34,0l9.34,-9.34M1625.71,794l9.34,9.34m-9.34,0l9.34,-9.34M1626.28,801.58l9.34,9.34m-9.34,0l9.34,-9.34M1626.85,798.54l9.34,9.34m-9.34,0l9.34,-9.34M1627.42,804.99l9.34,9.34m-9.34,0l9.34,-9.34M1627.98,801.81l9.34,9.34m-9.34,0l9.34,-9.34M1628.55,794.03l9.34,9.34m-9.34,0l9.34,-9.34M1629.12,794.2l9.34,9.34m-9.34,0l9.34,-9.34M1629.69,799.14l9.34,9.34m-9.34,0l9.34,-9.34M1630.26,799.2l9.34,9.34m-9.34,0l9.34,-9.34M1630.83,803.96l9.34,9.34m-9.34,0l9.34,-9.34M1631.4,802.26l9.34,9.34m-9.34,0l9.34,-9.34M1631.97,805.25l9.34,9.34m-9.34,0l9.34,-9.34M1632.53,802.83l9.34,9.34m-9.34,0l9.34,-9.34M1633.1,808.44l9.34,9.34m-9.34,0l9.34,-9.34M1633.67,801.58l9.34,9.34m-9.34,0l9.34,-9.34M1634.24,807.69l9.34,9.34m-9.34,0l9.34,-9.34M1634.81,806.25l9.34,9.34m-9.34,0l9.34,-9.34M1635.38,808.28l9.34,9.34m-9.34,0l9.34,-9.34M1635.95,801.39l9.34,9.34m-9.34,0l9.34,-9.34M1636.51,804.7l9.34,9.34m-9.34,0l9.34,-9.34M1637.08,812.75l9.34,9.34m-9.34,0l9.34,-9.34M1637.65,813.88l9.34,9.34m-9.34,0l9.34,-9.34M1638.22,807.73l9.34,9.34m-9.34,0l9.34,-9.34M1638.79,810.27l9.34,9.34m-9.34,0l9.34,-9.34M1639.36,812.26l9.34,9.34m-9.34,0l9.34,-9.34M1639.93,810.79l9.34,9.34m-9.34,0l9.34,-9.34M1640.5,805.11l9.34,9.34m-9.34,0l9.34,-9.34M1641.06,813.07l9.34,9.34m-9.34,0l9.34,-9.34M1641.63,807.07l9.34,9.34m-9.34,0l9.34,-9.34M1642.2,815.72l9.34,9.34m-9.34,0l9.34,-9.34M1642.77,815.11l9.34,9.34m-9.34,0l9.34,-9.34M1643.34,813.27l9.34,9.34m-9.34,0l9.34,-9.34M1643.91,815.35l9.34,9.34m-9.34,0l9.34,-9.34M1644.48,817.57l9.34,9.34m-9.34,0l9.34,-9.34M1645.05,820.38l9.34,9.34m-9.34,0l9.34,-9.34M1645.61,817.8l9.34,9.34m-9.34,0l9.34,-9.34M1646.18,818.52l9.34,9.34m-9.34,0l9.34,-9.34M1646.75,817.32l9.34,9.34m-9.34,0l9.34,-9.34M1647.32,813.46l9.34,9.34m-9.34,0l9.34,-9.34M1647.89,816.08l9.34,9.34m-9.34,0l9.34,-9.34M1648.46,813.91l9.34,9.34m-9.34,0l9.34,-9.34M1649.03,818.19l9.34,9.34m-9.34,0l9.34,-9.34M1649.59,817.65l9.34,9.34m-9.34,0l9.34,-9.34M1650.16,817.37l9.34,9.34m-9.34,0l9.34,-9.34M1650.73,817.42l9.34,9.34m-9.34,0l9.34,-9.34M1651.3,816.69l9.34,9.34m-9.34,0l9.34,-9.34M1651.87,823.31l9.34,9.34m-9.34,0l9.34,-9.34M1652.44,819.84l9.34,9.34m-9.34,0l9.34,-9.34M1653.01,821.14l9.34,9.34m-9.34,0l9.34,-9.34M1653.58,817.56l9.34,9.34m-9.34,0l9.34,-9.34M1654.14,819.45l9.34,9.34m-9.34,0l9.34,-9.34M1654.71,825.33l9.34,9.34m-9.34,0l9.34,-9.34M1655.28,821.89l9.34,9.34m-9.34,0l9.34,-9.34M1655.85,821.18l9.34,9.34m-9.34,0l9.34,-9.34M1656.42,824.09l9.34,9.34m-9.34,0l9.34,-9.34M1656.99,819.9l9.34,9.34m-9.34,0l9.34,-9.34M1657.56,824.05l9.34,9.34m-9.34,0l9.34,-9.34M1658.13,830.21l9.34,9.34m-9.34,0l9.34,-9.34M1658.69,824.65l9.34,9.34m-9.34,0l9.34,-9.34M1659.26,823.24l9.34,9.34m-9.34,0l9.34,-9.34M1659.83,829.53l9.34,9.34m-9.34,0l9.34,-9.34M1660.4,824.32l9.34,9.34m-9.34,0l9.34,-9.34M1660.97,837.42l9.34,9.34m-9.34,0l9.34,-9.34M1661.54,820.19l9.34,9.34m-9.34,0l9.34,-9.34M1662.11,833.11l9.34,9.34m-9.34,0l9.34,-9.34M1662.68,830.09l9.34,9.34m-9.34,0l9.34,-9.34M1663.24,829.85l9.34,9.34m-9.34,0l9.34,-9.34M1663.81,834.13l9.34,9.34m-9.34,0l9.34,-9.34M1664.38,828.3l9.34,9.34m-9.34,0l9.34,-9.34M1664.95,833.01l9.34,9.34m-9.34,0l9.34,-9.34M1665.52,834.86l9.34,9.34m-9.34,0l9.34,-9.34M1666.09,838.61l9.34,9.34m-9.34,0l9.34,-9.34M1666.66,828.3l9.34,9.34m-9.34,0l9.34,-9.34M1667.22,826.97l9.34,9.34m-9.34,0l9.34,-9.34M1667.79,832.39l9.34,9.34m-9.34,0l9.34,-9.34M1668.36,830.98l9.34,9.34m-9.34,0l9.34,-9.34M1668.93,826.51l9.34,9.34m-9.34,0l9.34,-9.34M1669.5,831.01l9.34,9.34m-9.34,0l9.34,-9.34M1670.07,828.72l9.34,9.34m-9.34,0l9.34,-9.34M1670.64,829.55l9.34,9.34m-9.34,0l9.34,-9.34M1671.21,830.77l9.34,9.34m-9.34,0l9.34,-9.34M1671.77,831.79l9.34,9.34m-9.34,0l9.34,-9.34M1672.34,829.89l9.34,9.34m-9.34,0l9.34,-9.34M1672.91,833.46l9.34,9.34m-9.34,0l9.34,-9.34M1673.48,834.06l9.34,9.34m-9.34,0l9.34,-9.34M1674.05,837.2l9.34,9.34m-9.34,0l9.34,-9.34M1674.62,842.02l9.34,9.34m-9.34,0l9.34,-9.34M1675.19,838.44l9.34,9.34m-9.34,0l9.34,-9.34M1675.76,836.77l9.34,9.34m-9.34,0l9.34,-9.34M1676.32,832.54l9.34,9.34m-9.34,0l9.34,-9.34M1676.89,837.4l9.34,9.34m-9.34,0l9.34,-9.34M1677.46,843l9.34,9.34m-9.34,0l9.34,-9.34M1678.03,834.61l9.34,9.34m-9.34,0l9.34,-9.34M1678.6,833.1l9.34,9.34m-9.34,0l9.34,-9.34M1679.17,836.35l9.34,9.34m-9.34,0l9.34,-9.34M1679.74,836.7l9.34,9.34m-9.34,0l9.34,-9.34M1680.31,837.02l9.34,9.34m-9.34,0l9.34,-9.34M1680.87,838.41l9.34,9.34m-9.34,0l9.34,-9.34M1681.44,834l9.34,9.34m-9.34,0l9.34,-9.34M1682.01,841.34l9.34,9.34m-9.34,0l9.34,-9.34M1682.58,841.35l9.34,9.34m-9.34,0l9.34,-9.34M1683.15,843.83l9.34,9.34m-9.34,0l9.34,-9.34M1683.72,841.1l9.34,9.34m-9.34,0l9.34,-9.34M1684.29,841.93l9.34,9.34m-9.34,0l9.34,-9.34M1684.85,842.06l9.34,9.34m-9.34,0l9.34,-9.34M1685.42,839.68l9.34,9.34m-9.34,0l9.34,-9.34M1685.99,837.3l9.34,9.34m-9.34,0l9.34,-9.34M1686.56,844.95l9.34,9.34m-9.34,0l9.34,-9.34M1687.13,840.65l9.34,9.34m-9.34,0l9.34,-9.34M1687.7,843.4l9.34,9.34m-9.34,0l9.34,-9.34M1688.27,843.54l9.34,9.34m-9.34,0l9.34,-9.34M1688.84,843.12l9.34,9.34m-9.34,0l9.34,-9.34M1689.4,840.88l9.34,9.34m-9.34,0l9.34,-9.34M1689.97,847.06l9.34,9.34m-9.34,0l9.34,-9.34M1690.54,837.98l9.34,9.34m-9.34,0l9.34,-9.34M1691.11,842.95l9.34,9.34m-9.34,0l9.34,-9.34M1691.68,845.08l9.34,9.34m-9.34,0l9.34,-9.34M1692.25,847.87l9.34,9.34m-9.34,0l9.34,-9.34M1692.82,840.27l9.34,9.34m-9.34,0l9.34,-9.34M1693.39,841.58l9.34,9.34m-9.34,0l9.34,-9.34M1693.95,841.27l9.34,9.34m-9.34,0l9.34,-9.34M1694.52,843.62l9.34,9.34m-9.34,0l9.34,-9.34M1695.09,839.27l9.34,9.34m-9.34,0l9.34,-9.34M1695.66,839.99l9.34,9.34m-9.34,0l9.34,-9.34M1696.23,838.58l9.34,9.34m-9.34,0l9.34,-9.34M1696.8,843.94l9.34,9.34m-9.34,0l9.34,-9.34M1697.37,842.43l9.34,9.34m-9.34,0l9.34,-9.34M1697.93,846.43l9.34,9.34m-9.34,0l9.34,-9.34M1698.5,845.23l9.34,9.34m-9.34,0l9.34,-9.34M1699.07,846.67l9.34,9.34m-9.34,0l9.34,-9.34M1699.64,845.85l9.34,9.34m-9.34,0l9.34,-9.34M1700.21,846.01l9.34,9.34m-9.34,0l9.34,-9.34M1700.78,846.33l9.34,9.34m-9.34,0l9.34,-9.34M1701.35,846.62l9.34,9.34m-9.34,0l9.34,-9.34M1701.92,846.36l9.34,9.34m-9.34,0l9.34,-9.34M1702.48,848.12l9.34,9.34m-9.34,0l9.34,-9.34M1703.05,849.1l9.34,9.34m-9.34,0l9.34,-9.34M1703.62,848.65l9.34,9.34m-9.34,0l9.34,-9.34M1704.19,845.82l9.34,9.34m-9.34,0l9.34,-9.34M1704.76,845.84l9.34,9.34m-9.34,0l9.34,-9.34M1705.33,845.06l9.34,9.34m-9.34,0l9.34,-9.34M1705.9,841.69l9.34,9.34m-9.34,0l9.34,-9.34M1706.47,851.06l9.34,9.34m-9.34,0l9.34,-9.34M1707.03,846.3l9.34,9.34m-9.34,0l9.34,-9.34M1707.6,852.17l9.34,9.34m-9.34,0l9.34,-9.34M1708.17,850.41l9.34,9.34m-9.34,0l9.34,-9.34M1708.74,851.2l9.34,9.34m-9.34,0l9.34,-9.34M1709.31,849.11l9.34,9.34m-9.34,0l9.34,-9.34M1709.88,846.05l9.34,9.34m-9.34,0l9.34,-9.34M1710.45,845.69l9.34,9.34m-9.34,0l9.34,-9.34M1711.02,848.91l9.34,9.34m-9.34,0l9.34,-9.34M1711.58,847.49l9.34,9.34m-9.34,0l9.34,-9.34M1712.15,849.05l9.34,9.34m-9.34,0l9.34,-9.34M1712.72,853.46l9.34,9.34m-9.34,0l9.34,-9.34M1713.29,846.28l9.34,9.34m-9.34,0l9.34,-9.34M1713.86,852.19l9.34,9.34m-9.34,0l9.34,-9.34M1714.43,852.15l9.34,9.34m-9.34,0l9.34,-9.34M1715,851.18l9.34,9.34m-9.34,0l9.34,-9.34M1715.56,853.55l9.34,9.34m-9.34,0l9.34,-9.34M1716.13,852.92l9.34,9.34m-9.34,0l9.34,-9.34M1716.7,849.63l9.34,9.34m-9.34,0l9.34,-9.34M1717.27,853.99l9.34,9.34m-9.34,0l9.34,-9.34M1717.84,853.39l9.34,9.34m-9.34,0l9.34,-9.34M1718.41,856.15l9.34,9.34m-9.34,0l9.34,-9.34M1718.98,856.7l9.34,9.34m-9.34,0l9.34,-9.34M1719.55,851.5l9.34,9.34m-9.34,0l9.34,-9.34M1720.11,851.4l9.34,9.34m-9.34,0l9.34,-9.34M1720.68,853.46l9.34,9.34m-9.34,0l9.34,-9.34M1721.25,848.66l9.34,9.34m-9.34,0l9.34,-9.34M1721.82,855.25l9.34,9.34m-9.34,0l9.34,-9.34M1722.39,851.81l9.34,9.34m-9.34,0l9.34,-9.34M1722.96,854.92l9.34,9.34m-9.34,0l9.34,-9.34M1723.53,853.41l9.34,9.34m-9.34,0l9.34,-9.34M1724.1,852.31l9.34,9.34m-9.34,0l9.34,-9.34M1724.66,856.79l9.34,9.34m-9.34,0l9.34,-9.34M1725.23,850.58l9.34,9.34m-9.34,0l9.34,-9.34M1725.8,854.12l9.34,9.34m-9.34,0l9.34,-9.34M1726.37,853.93l9.34,9.34m-9.34,0l9.34,-9.34M1726.94,854.57l9.34,9.34m-9.34,0l9.34,-9.34M1727.51,853.51l9.34,9.34m-9.34,0l9.34,-9.34M1728.08,857.27l9.34,9.34m-9.34,0l9.34,-9.34M1728.64,857.31l9.34,9.34m-9.34,0l9.34,-9.34M1729.21,853.94l9.34,9.34m-9.34,0l9.34,-9.34M1729.78,855.35l9.34,9.34m-9.34,0l9.34,-9.34M1730.35,855.89l9.34,9.34m-9.34,0l9.34,-9.34M1730.92,854.42l9.34,9.34m-9.34,0l9.34,-9.34M1731.49,851.81l9.34,9.34m-9.34,0l9.34,-9.34M1732.06,857.66l9.34,9.34m-9.34,0l9.34,-9.34M1732.63,860.91l9.34,9.34m-9.34,0l9.34,-9.34M1733.19,856.37l9.34,9.34m-9.34,0l9.34,-9.34M1733.76,859.52l9.34,9.34m-9.34,0l9.34,-9.34M1734.33,856.43l9.34,9.34m-9.34,0l9.34,-9.34M1734.9,858.1l9.34,9.34m-9.34,0l9.34,-9.34M1735.47,856.05l9.34,9.34m-9.34,0l9.34,-9.34M1736.04,852.27l9.34,9.34m-9.34,0l9.34,-9.34M1736.61,856.59l9.34,9.34m-9.34,0l9.34,-9.34M1737.18,860.09l9.34,9.34m-9.34,0l9.34,-9.34M1737.74,858.97l9.34,9.34m-9.34,0l9.34,-9.34M1738.31,859l9.34,9.34m-9.34,0l9.34,-9.34M1738.88,859.9l9.34,9.34m-9.34,0l9.34,-9.34M1739.45,856.04l9.34,9.34m-9.34,0l9.34,-9.34M1740.02,856.71l9.34,9.34m-9.34,0l9.34,-9.34M1740.59,855.12l9.34,9.34m-9.34,0l9.34,-9.34M1741.16,855.62l9.34,9.34m-9.34,0l9.34,-9.34M1741.73,857.71l9.34,9.34m-9.34,0l9.34,-9.34M1742.29,858.75l9.34,9.34m-9.34,0l9.34,-9.34M1742.86,858.7l9.34,9.34m-9.34,0l9.34,-9.34M1743.43,857.85l9.34,9.34m-9.34,0l9.34,-9.34M1744,859.25l9.34,9.34m-9.34,0l9.34,-9.34M1744.57,861.22l9.34,9.34m-9.34,0l9.34,-9.34M1745.14,853.42l9.34,9.34m-9.34,0l9.34,-9.34M1745.71,855.4l9.34,9.34m-9.34,0l9.34,-9.34M1746.27,858.87l9.34,9.34m-9.34,0l9.34,-9.34M1746.84,859.33l9.34,9.34m-9.34,0l9.34,-9.34M1747.41,859.24l9.34,9.34m-9.34,0l9.34,-9.34M1747.98,857.75l9.34,9.34m-9.34,0l9.34,-9.34M1748.55,859.36l9.34,9.34m-9.34,0l9.34,-9.34M1749.12,863.11l9.34,9.34m-9.34,0l9.34,-9.34M1749.69,858.42l9.34,9.34m-9.34,0l9.34,-9.34M1750.26,857.99l9.34,9.34m-9.34,0l9.34,-9.34M1750.82,861.76l9.34,9.34m-9.34,0l9.34,-9.34M1751.39,861.97l9.34,9.34m-9.34,0l9.34,-9.34M1751.96,859.51l9.34,9.34m-9.34,0l9.34,-9.34M1752.53,861.52l9.34,9.34m-9.34,0l9.34,-9.34M1753.1,857.57l9.34,9.34m-9.34,0l9.34,-9.34M1753.67,858.01l9.34,9.34m-9.34,0l9.34,-9.34M1754.24,862.95l9.34,9.34m-9.34,0l9.34,-9.34M1754.81,858.92l9.34,9.34m-9.34,0l9.34,-9.34M1755.37,862.61l9.34,9.34m-9.34,0l9.34,-9.34M1755.94,861.32l9.34,9.34m-9.34,0l9.34,-9.34M1756.51,857.6l9.34,9.34m-9.34,0l9.34,-9.34M1757.08,860.66l9.34,9.34m-9.34,0l9.34,-9.34M1757.65,859.06l9.34,9.34m-9.34,0l9.34,-9.34M1758.22,861.13l9.34,9.34m-9.34,0l9.34,-9.34M1758.79,856.76l9.34,9.34m-9.34,0l9.34,-9.34M1759.35,860.51l9.34,9.34m-9.34,0l9.34,-9.34M1759.92,855.09l9.34,9.34m-9.34,0l9.34,-9.34M1760.49,859.67l9.34,9.34m-9.34,0l9.34,-9.34M1761.06,861.41l9.34,9.34m-9.34,0l9.34,-9.34M1761.63,860.72l9.34,9.34m-9.34,0l9.34,-9.34M1762.2,861.41l9.34,9.34m-9.34,0l9.34,-9.34M1762.77,858.31l9.34,9.34m-9.34,0l9.34,-9.34M1763.34,862.95l9.34,9.34m-9.34,0l9.34,-9.34M1763.9,859.61l9.34,9.34m-9.34,0l9.34,-9.34M1764.47,858.68l9.34,9.34m-9.34,0l9.34,-9.34M1765.04,859.44l9.34,9.34m-9.34,0l9.34,-9.34M1765.61,863.71l9.34,9.34m-9.34,0l9.34,-9.34M1766.18,859.24l9.34,9.34m-9.34,0l9.34,-9.34M1766.75,860.11l9.34,9.34m-9.34,0l9.34,-9.34M1767.32,859.7l9.34,9.34m-9.34,0l9.34,-9.34M1767.89,863.45l9.34,9.34m-9.34,0l9.34,-9.34M1768.45,861.52l9.34,9.34m-9.34,0l9.34,-9.34M1769.02,859.89l9.34,9.34m-9.34,0l9.34,-9.34M1769.59,861.75l9.34,9.34m-9.34,0l9.34,-9.34M1770.16,861.67l9.34,9.34m-9.34,0l9.34,-9.34M1770.73,862.8l9.34,9.34m-9.34,0l9.34,-9.34M1771.3,862.47l9.34,9.34m-9.34,0l9.34,-9.34M1771.87,862.21l9.34,9.34m-9.34,0l9.34,-9.34M1772.44,858.08l9.34,9.34m-9.34,0l9.34,-9.34M1773,862.59l9.34,9.34m-9.34,0l9.34,-9.34M1773.57,863.31l9.34,9.34m-9.34,0l9.34,-9.34M1774.14,864.23l9.34,9.34m-9.34,0l9.34,-9.34M1774.71,861.92l9.34,9.34m-9.34,0l9.34,-9.34M1775.28,862.37l9.34,9.34m-9.34,0l9.34,-9.34M1775.85,863.57l9.34,9.34m-9.34,0l9.34,-9.34M1776.42,865.55l9.34,9.34m-9.34,0l9.34,-9.34M1776.98,859.81l9.34,9.34m-9.34,0l9.34,-9.34M1777.55,863.2l9.34,9.34m-9.34,0l9.34,-9.34M1778.12,864.16l9.34,9.34m-9.34,0l9.34,-9.34M1778.69,862.67l9.34,9.34m-9.34,0l9.34,-9.34M1779.26,864.56l9.34,9.34m-9.34,0l9.34,-9.34M1779.83,863.62l9.34,9.34m-9.34,0l9.34,-9.34M1780.4,866.37l9.34,9.34m-9.34,0l9.34,-9.34M1780.97,864.26l9.34,9.34m-9.34,0l9.34,-9.34M1781.53,867.54l9.34,9.34m-9.34,0l9.34,-9.34M1782.1,862.26l9.34,9.34m-9.34,0l9.34,-9.34M1782.67,863.66l9.34,9.34m-9.34,0l9.34,-9.34M1783.24,864.08l9.34,9.34m-9.34,0l9.34,-9.34M1783.81,863.73l9.34,9.34m-9.34,0l9.34,-9.34M1784.38,865.94l9.34,9.34m-9.34,0l9.34,-9.34M1784.95,863.89l9.34,9.34m-9.34,0l9.34,-9.34M1785.52,863.95l9.34,9.34m-9.34,0l9.34,-9.34M1786.08,862.68l9.34,9.34m-9.34,0l9.34,-9.34M1786.65,865.17l9.34,9.34m-9.34,0l9.34,-9.34M1787.22,864.91l9.34,9.34m-9.34,0l9.34,-9.34M1787.79,864.3l9.34,9.34m-9.34,0l9.34,-9.34M1788.36,863.92l9.34,9.34m-9.34,0l9.34,-9.34M1788.93,864.16l9.34,9.34m-9.34,0l9.34,-9.34M1789.5,863.97l9.34,9.34m-9.34,0l9.34,-9.34M1790.07,863.15l9.34,9.34m-9.34,0l9.34,-9.34M1790.63,864.1l9.34,9.34m-9.34,0l9.34,-9.34M1791.2,864.03l9.34,9.34m-9.34,0l9.34,-9.34M1791.77,864.8l9.34,9.34m-9.34,0l9.34,-9.34M1792.34,866.71l9.34,9.34m-9.34,0l9.34,-9.34M1792.91,863.88l9.34,9.34m-9.34,0l9.34,-9.34M1793.48,865.31l9.34,9.34m-9.34,0l9.34,-9.34M1794.05,864.96l9.34,9.34m-9.34,0l9.34,-9.34M1794.61,866.6l9.34,9.34m-9.34,0l9.34,-9.34M1795.18,862.44l9.34,9.34m-9.34,0l9.34,-9.34M1795.75,863.36l9.34,9.34m-9.34,0l9.34,-9.34M1796.32,865.46l9.34,9.34m-9.34,0l9.34,-9.34M1796.89,864.28l9.34,9.34m-9.34,0l9.34,-9.34M1797.46,863.76l9.34,9.34m-9.34,0l9.34,-9.34M1798.03,862.26l9.34,9.34m-9.34,0l9.34,-9.34M1798.6,864.87l9.34,9.34m-9.34,0l9.34,-9.34M1799.16,863.87l9.34,9.34m-9.34,0l9.34,-9.34M1799.73,866.41l9.34,9.34m-9.34,0l9.34,-9.34M1800.3,865.62l9.34,9.34m-9.34,0l9.34,-9.34M1800.87,865.62l9.34,9.34m-9.34,0l9.34,-9.34M1801.44,865.82l9.34,9.34m-9.34,0l9.34,-9.34M1802.01,866.97l9.34,9.34m-9.34,0l9.34,-9.34M1802.58,864.71l9.34,9.34m-9.34,0l9.34,-9.34M1803.15,866.8l9.34,9.34m-9.34,0l9.34,-9.34M1803.71,866.74l9.34,9.34m-9.34,0l9.34,-9.34M1804.28,865.8l9.34,9.34m-9.34,0l9.34,-9.34M1804.85,863.81l9.34,9.34m-9.34,0l9.34,-9.34M1805.42,864.23l9.34,9.34m-9.34,0l9.34,-9.34M1805.99,865.97l9.34,9.34m-9.34,0l9.34,-9.34M1806.56,867.25l9.34,9.34m-9.34,0l9.34,-9.34M1807.13,867.69l9.34,9.34m-9.34,0l9.34,-9.34M1807.69,865.86l9.34,9.34m-9.34,0l9.34,-9.34M1808.26,864.91l9.34,9.34m-9.34,0l9.34,-9.34M1808.83,864.9l9.34,9.34m-9.34,0l9.34,-9.34M1809.4,866.17l9.34,9.34m-9.34,0l9.34,-9.34M1809.97,867.08l9.34,9.34m-9.34,0l9.34,-9.34M1810.54,865.53l9.34,9.34m-9.34,0l9.34,-9.34M1811.11,864.56l9.34,9.34m-9.34,0l9.34,-9.34M1811.68,866.21l9.34,9.34m-9.34,0l9.34,-9.34M1812.24,865.61l9.34,9.34m-9.34,0l9.34,-9.34M1812.81,866.66l9.34,9.34m-9.34,0l9.34,-9.34M1813.38,866.56l9.34,9.34m-9.34,0l9.34,-9.34M1813.95,864.59l9.34,9.34m-9.34,0l9.34,-9.34M1814.52,867.07l9.34,9.34m-9.34,0l9.34,-9.34M1815.09,864.78l9.34,9.34m-9.34,0l9.34,-9.34M1815.66,866.89l9.34,9.34m-9.34,0l9.34,-9.34M1816.23,866.48l9.34,9.34m-9.34,0l9.34,-9.34M1816.79,865.53l9.34,9.34m-9.34,0l9.34,-9.34M1817.36,865.72l9.34,9.34m-9.34,0l9.34,-9.34M1817.93,867.28l9.34,9.34m-9.34,0l9.34,-9.34M1818.5,866.76l9.34,9.34m-9.34,0l9.34,-9.34M1819.07,866.65l9.34,9.34m-9.34,0l9.34,-9.34M1819.64,866.62l9.34,9.34m-9.34,0l9.34,-9.34M1820.21,866.81l9.34,9.34m-9.34,0l9.34,-9.34M1820.78,865.77l9.34,9.34m-9.34,0l9.34,-9.34M1821.34,867.95l9.34,9.34m-9.34,0l9.34,-9.34M1821.91,865.84l9.34,9.34m-9.34,0l9.34,-9.34M1822.48,865.78l9.34,9.34m-9.34,0l9.34,-9.34M1823.05,868.32l9.34,9.34m-9.34,0l9.34,-9.34M1823.62,866.98l9.34,9.34m-9.34,0l9.34,-9.34M1824.19,867.87l9.34,9.34m-9.34,0l9.34,-9.34M1824.76,868.78l9.34,9.34m-9.34,0l9.34,-9.34M1825.32,866.98l9.34,9.34m-9.34,0l9.34,-9.34M1825.89,866.42l9.34,9.34m-9.34,0l9.34,-9.34M1826.46,867.59l9.34,9.34m-9.34,0l9.34,-9.34M1827.03,866.77l9.34,9.34m-9.34,0l9.34,-9.34M1827.6,867.12l9.34,9.34m-9.34,0l9.34,-9.34M1828.17,869.38l9.34,9.34m-9.34,0l9.34,-9.34M1828.74,867.43l9.34,9.34m-9.34,0l9.34,-9.34M1829.31,866.18l9.34,9.34m-9.34,0l9.34,-9.34M1829.87,865.74l9.34,9.34m-9.34,0l9.34,-9.34M1830.44,868.66l9.34,9.34m-9.34,0l9.34,-9.34M1831.01,868.99l9.34,9.34m-9.34,0l9.34,-9.34M1831.58,866.97l9.34,9.34m-9.34,0l9.34,-9.34M1832.15,867.7l9.34,9.34m-9.34,0l9.34,-9.34M1832.72,867.28l9.34,9.34m-9.34,0l9.34,-9.34M1833.29,868.01l9.34,9.34m-9.34,0l9.34,-9.34M1833.86,866.73l9.34,9.34m-9.34,0l9.34,-9.34M1834.42,866.82l9.34,9.34m-9.34,0l9.34,-9.34M1834.99,867.95l9.34,9.34m-9.34,0l9.34,-9.34M1835.56,867.56l9.34,9.34m-9.34,0l9.34,-9.34M1836.13,867.71l9.34,9.34m-9.34,0l9.34,-9.34M1836.7,867.02l9.34,9.34m-9.34,0l9.34,-9.34M1837.27,867.36l9.34,9.34m-9.34,0l9.34,-9.34M1837.84,867.35l9.34,9.34m-9.34,0l9.34,-9.34M1838.4,867.03l9.34,9.34m-9.34,0l9.34,-9.34M1838.97,867.65l9.34,9.34m-9.34,0l9.34,-9.34M1839.54,868.26l9.34,9.34m-9.34,0l9.34,-9.34M1840.11,866.89l9.34,9.34m-9.34,0l9.34,-9.34M1840.68,868.3l9.34,9.34m-9.34,0l9.34,-9.34M1841.25,869.13l9.34,9.34m-9.34,0l9.34,-9.34M1841.82,868.75l9.34,9.34m-9.34,0l9.34,-9.34M1842.39,867.85l9.34,9.34m-9.34,0l9.34,-9.34M1842.95,868.42l9.34,9.34m-9.34,0l9.34,-9.34M1843.52,868.38l9.34,9.34m-9.34,0l9.34,-9.34M1844.09,867.78l9.34,9.34m-9.34,0l9.34,-9.34M1844.66,867.59l9.34,9.34m-9.34,0l9.34,-9.34M1845.23,868.29l9.34,9.34m-9.34,0l9.34,-9.34M1845.8,868.52l9.34,9.34m-9.34,0l9.34,-9.34M1846.37,867.94l9.34,9.34m-9.34,0l9.34,-9.34M1846.94,867.25l9.34,9.34m-9.34,0l9.34,-9.34M1847.5,869.39l9.34,9.34m-9.34,0l9.34,-9.34M1848.07,868.69l9.34,9.34m-9.34,0l9.34,-9.34M1848.64,869.24l9.34,9.34m-9.34,0l9.34,-9.34M1849.21,868.9l9.34,9.34m-9.34,0l9.34,-9.34M1849.78,867.51l9.34,9.34m-9.34,0l9.34,-9.34M1850.35,866.35l9.34,9.34m-9.34,0l9.34,-9.34M1850.92,868.36l9.34,9.34m-9.34,0l9.34,-9.34M1851.49,869.23l9.34,9.34m-9.34,0l9.34,-9.34M1852.05,869.28l9.34,9.34m-9.34,0l9.34,-9.34M1852.62,867.63l9.34,9.34m-9.34,0l9.34,-9.34M1853.19,867.42l9.34,9.34m-9.34,0l9.34,-9.34M1853.76,867.51l9.34,9.34m-9.34,0l9.34,-9.34M1854.33,867.71l9.34,9.34m-9.34,0l9.34,-9.34M1854.9,868.92l9.34,9.34m-9.34,0l9.34,-9.34M1855.47,869.14l9.34,9.34m-9.34,0l9.34,-9.34M1856.03,868.47l9.34,9.34m-9.34,0l9.34,-9.34M1856.6,867.78l9.34,9.34m-9.34,0l9.34,-9.34M1857.17,868.98l9.34,9.34m-9.34,0l9.34,-9.34M1857.74,869.43l9.34,9.34m-9.34,0l9.34,-9.34M1858.31,867.51l9.34,9.34m-9.34,0l9.34,-9.34M1858.88,869.89l9.34,9.34m-9.34,0l9.34,-9.34M1859.45,867.26l9.34,9.34m-9.34,0l9.34,-9.34M1860.02,869.6l9.34,9.34m-9.34,0l9.34,-9.34M1860.58,868.04l9.34,9.34m-9.34,0l9.34,-9.34M1861.15,869.05l9.34,9.34m-9.34,0l9.34,-9.34M1861.72,867.62l9.34,9.34m-9.34,0l9.34,-9.34M1862.29,869.09l9.34,9.34m-9.34,0l9.34,-9.34M1862.86,868.65l9.34,9.34m-9.34,0l9.34,-9.34M1863.43,868.36l9.34,9.34m-9.34,0l9.34,-9.34M1864,869.08l9.34,9.34m-9.34,0l9.34,-9.34M1864.57,869.89l9.34,9.34m-9.34,0l9.34,-9.34M1865.13,869.37l9.34,9.34m-9.34,0l9.34,-9.34M1865.7,869.54l9.34,9.34m-9.34,0l9.34,-9.34M1866.27,868.69l9.34,9.34m-9.34,0l9.34,-9.34M1866.84,871.08l9.34,9.34m-9.34,0l9.34,-9.34M1867.41,867.95l9.34,9.34m-9.34,0l9.34,-9.34M1867.98,867.21l9.34,9.34m-9.34,0l9.34,-9.34M1868.55,868.78l9.34,9.34m-9.34,0l9.34,-9.34M1869.12,869.65l9.34,9.34m-9.34,0l9.34,-9.34M1869.68,869.52l9.34,9.34m-9.34,0l9.34,-9.34M1870.25,869.7l9.34,9.34m-9.34,0l9.34,-9.34M1870.82,869.85l9.34,9.34m-9.34,0l9.34,-9.34M1871.39,867.95l9.34,9.34m-9.34,0l9.34,-9.34M1871.96,870.91l9.34,9.34m-9.34,0l9.34,-9.34M1872.53,869.76l9.34,9.34m-9.34,0l9.34,-9.34M1873.1,869.12l9.34,9.34m-9.34,0l9.34,-9.34M1873.66,870.18l9.34,9.34m-9.34,0l9.34,-9.34M1874.23,867.78l9.34,9.34m-9.34,0l9.34,-9.34M1874.8,869.39l9.34,9.34m-9.34,0l9.34,-9.34M1875.37,869.08l9.34,9.34m-9.34,0l9.34,-9.34M1875.94,869.45l9.34,9.34m-9.34,0l9.34,-9.34M1876.51,869.34l9.34,9.34m-9.34,0l9.34,-9.34M1877.08,869.79l9.34,9.34m-9.34,0l9.34,-9.34M1877.65,868.27l9.34,9.34m-9.34,0l9.34,-9.34M1878.21,869.9l9.34,9.34m-9.34,0l9.34,-9.34M1878.78,869.81l9.34,9.34m-9.34,0l9.34,-9.34M1879.35,868.73l9.34,9.34m-9.34,0l9.34,-9.34M1879.92,870.13l9.34,9.34m-9.34,0l9.34,-9.34M1880.49,867.92l9.34,9.34m-9.34,0l9.34,-9.34M1881.06,869.52l9.34,9.34m-9.34,0l9.34,-9.34M1881.63,869.4l9.34,9.34m-9.34,0l9.34,-9.34M1882.2,868.02l9.34,9.34m-9.34,0l9.34,-9.34M1882.76,870.44l9.34,9.34m-9.34,0l9.34,-9.34M1883.33,867.98l9.34,9.34m-9.34,0l9.34,-9.34M1883.9,869.89l9.34,9.34m-9.34,0l9.34,-9.34M1884.47,869.87l9.34,9.34m-9.34,0l9.34,-9.34M1885.04,868.74l9.34,9.34m-9.34,0l9.34,-9.34M1885.61,868.15l9.34,9.34m-9.34,0l9.34,-9.34M1886.18,869.47l9.34,9.34m-9.34,0l9.34,-9.34M1886.74,869.31l9.34,9.34m-9.34,0l9.34,-9.34M1887.31,869.4l9.34,9.34m-9.34,0l9.34,-9.34M1887.88,869.51l9.34,9.34m-9.34,0l9.34,-9.34M1888.45,869.28l9.34,9.34m-9.34,0l9.34,-9.34M1889.02,869.42l9.34,9.34m-9.34,0l9.34,-9.34M1889.59,870.03l9.34,9.34m-9.34,0l9.34,-9.34M1890.16,870.19l9.34,9.34m-9.34,0l9.34,-9.34M1890.73,871.08l9.34,9.34m-9.34,0l9.34,-9.34M1891.29,869.35l9.34,9.34m-9.34,0l9.34,-9.34M1891.86,869.99l9.34,9.34m-9.34,0l9.34,-9.34M1892.43,869.46l9.34,9.34m-9.34,0l9.34,-9.34M1893,869.23l9.34,9.34m-9.34,0l9.34,-9.34M1893.57,869.57l9.34,9.34m-9.34,0l9.34,-9.34M1894.14,869.13l9.34,9.34m-9.34,0l9.34,-9.34M1894.71,869.45l9.34,9.34m-9.34,0l9.34,-9.34M1895.28,868.92l9.34,9.34m-9.34,0l9.34,-9.34M1895.84,869.72l9.34,9.34m-9.34,0l9.34,-9.34M1896.41,870.02l9.34,9.34m-9.34,0l9.34,-9.34M1896.98,869.14l9.34,9.34m-9.34,0l9.34,-9.34M1897.55,870.41l9.34,9.34m-9.34,0l9.34,-9.34M1898.12,868.87l9.34,9.34m-9.34,0l9.34,-9.34M1898.69,870.02l9.34,9.34m-9.34,0l9.34,-9.34M1899.26,870.09l9.34,9.34m-9.34,0l9.34,-9.34M1899.83,869.26l9.34,9.34m-9.34,0l9.34,-9.34M1900.39,868.61l9.34,9.34m-9.34,0l9.34,-9.34M1900.96,870.42l9.34,9.34m-9.34,0l9.34,-9.34M1901.53,870.02l9.34,9.34m-9.34,0l9.34,-9.34M1902.1,869.21l9.34,9.34m-9.34,0l9.34,-9.34M1902.67,868.1l9.34,9.34m-9.34,0l9.34,-9.34M1903.24,871.08l9.34,9.34m-9.34,0l9.34,-9.34M1903.81,870.03l9.34,9.34m-9.34,0l9.34,-9.34M1904.37,870.2l9.34,9.34m-9.34,0l9.34,-9.34M1904.94,870.58l9.34,9.34m-9.34,0l9.34,-9.34M1905.51,868.45l9.34,9.34m-9.34,0l9.34,-9.34M1906.08,869.61l9.34,9.34m-9.34,0l9.34,-9.34M1906.65,869.68l9.34,9.34m-9.34,0l9.34,-9.34M1907.22,870.03l9.34,9.34m-9.34,0l9.34,-9.34M1907.79,869.05l9.34,9.34m-9.34,0l9.34,-9.34M1908.36,869.41l9.34,9.34m-9.34,0l9.34,-9.34M1908.92,870.06l9.34,9.34m-9.34,0l9.34,-9.34M1909.49,870.22l9.34,9.34m-9.34,0l9.34,-9.34M1910.06,869.62l9.34,9.34m-9.34,0l9.34,-9.34M1910.63,869.91l9.34,9.34m-9.34,0l9.34,-9.34M1911.2,870.53l9.34,9.34m-9.34,0l9.34,-9.34M1911.77,870.2l9.34,9.34m-9.34,0l9.34,-9.34M1912.34,870.35l9.34,9.34m-9.34,0l9.34,-9.34M1912.91,869.17l9.34,9.34m-9.34,0l9.34,-9.34M1913.47,870.88l9.34,9.34m-9.34,0l9.34,-9.34M1914.04,869.59l9.34,9.34m-9.34,0l9.34,-9.34M1914.61,869.95l9.34,9.34m-9.34,0l9.34,-9.34M1915.18,870.05l9.34,9.34m-9.34,0l9.34,-9.34M1915.75,870.31l9.34,9.34m-9.34,0l9.34,-9.34M1916.32,869.36l9.34,9.34m-9.34,0l9.34,-9.34M1916.89,870.22l9.34,9.34m-9.34,0l9.34,-9.34M1917.45,869.27l9.34,9.34m-9.34,0l9.34,-9.34M1918.02,869.76l9.34,9.34m-9.34,0l9.34,-9.34M1918.59,869.98l9.34,9.34m-9.34,0l9.34,-9.34M1919.16,870.42l9.34,9.34m-9.34,0l9.34,-9.34M1919.73,870.07l9.34,9.34m-9.34,0l9.34,-9.34M1920.3,869.9l9.34,9.34m-9.34,0l9.34,-9.34M1920.87,869.51l9.34,9.34m-9.34,0l9.34,-9.34M1921.44,870.74l9.34,9.34m-9.34,0l9.34,-9.34M1922,870.52l9.34,9.34m-9.34,0l9.34,-9.34M1922.57,870.61l9.34,9.34m-9.34,0l9.34,-9.34M1923.14,870.46l9.34,9.34m-9.34,0l9.34,-9.34M1923.71,871.08l9.34,9.34m-9.34,0l9.34,-9.34M1924.28,869.67l9.34,9.34m-9.34,0l9.34,-9.34M1924.85,869.36l9.34,9.34m-9.34,0l9.34,-9.34M1925.42,870.99l9.34,9.34m-9.34,0l9.34,-9.34M1925.99,869.39l9.34,9.34m-9.34,0l9.34,-9.34M1926.55,870.42l9.34,9.34m-9.34,0l9.34,-9.34M1927.12,869.89l9.34,9.34m-9.34,0l9.34,-9.34M1927.69,869.38l9.34,9.34m-9.34,0l9.34,-9.34M1928.26,870.25l9.34,9.34m-9.34,0l9.34,-9.34M1928.83,869.74l9.34,9.34m-9.34,0l9.34,-9.34M1929.4,870.29l9.34,9.34m-9.34,0l9.34,-9.34M1929.97,870.11l9.34,9.34m-9.34,0l9.34,-9.34M1930.54,870.51l9.34,9.34m-9.34,0l9.34,-9.34M1931.1,870.07l9.34,9.34m-9.34,0l9.34,-9.34M1931.67,870.15l9.34,9.34m-9.34,0l9.34,-9.34M1932.24,869.68l9.34,9.34m-9.34,0l9.34,-9.34M1932.81,870.2l9.34,9.34m-9.34,0l9.34,-9.34M1933.38,870.96l9.34,9.34m-9.34,0l9.34,-9.34M1933.95,870.56l9.34,9.34m-9.34,0l9.34,-9.34M1934.52,869.5l9.34,9.34m-9.34,0l9.34,-9.34M1935.08,870.64l9.34,9.34m-9.34,0l9.34,-9.34M1935.65,870l9.34,9.34m-9.34,0l9.34,-9.34M1936.22,870.6l9.34,9.34m-9.34,0l9.34,-9.34M1936.79,870.05l9.34,9.34m-9.34,0l9.34,-9.34M1937.36,869.54l9.34,9.34m-9.34,0l9.34,-9.34M1937.93,869.23l9.34,9.34m-9.34,0l9.34,-9.34M1938.5,870.88l9.34,9.34m-9.34,0l9.34,-9.34M1939.07,870.7l9.34,9.34m-9.34,0l9.34,-9.34M1939.63,870.74l9.34,9.34m-9.34,0l9.34,-9.34M1940.2,870.67l9.34,9.34m-9.34,0l9.34,-9.34M1940.77,870.36l9.34,9.34m-9.34,0l9.34,-9.34M1941.34,870.36l9.34,9.34m-9.34,0l9.34,-9.34M1941.91,869.79l9.34,9.34m-9.34,0l9.34,-9.34M1942.48,870.1l9.34,9.34m-9.34,0l9.34,-9.34M1943.05,870.41l9.34,9.34m-9.34,0l9.34,-9.34M1943.62,870.33l9.34,9.34m-9.34,0l9.34,-9.34M1944.18,870.25l9.34,9.34m-9.34,0l9.34,-9.34M1944.75,869.97l9.34,9.34m-9.34,0l9.34,-9.34M1945.32,869.5l9.34,9.34m-9.34,0l9.34,-9.34M1945.89,870.55l9.34,9.34m-9.34,0l9.34,-9.34M1946.46,869.93l9.34,9.34m-9.34,0l9.34,-9.34M1947.03,870.27l9.34,9.34m-9.34,0l9.34,-9.34M1947.6,870.53l9.34,9.34m-9.34,0l9.34,-9.34M1948.17,870.19l9.34,9.34m-9.34,0l9.34,-9.34M1948.73,870.74l9.34,9.34m-9.34,0l9.34,-9.34M1949.3,869.08l9.34,9.34m-9.34,0l9.34,-9.34M1949.87,870.1l9.34,9.34m-9.34,0l9.34,-9.34M1950.44,870.59l9.34,9.34m-9.34,0l9.34,-9.34M1951.01,870.37l9.34,9.34m-9.34,0l9.34,-9.34M1951.58,870.65l9.34,9.34m-9.34,0l9.34,-9.34M1952.15,870.56l9.34,9.34m-9.34,0l9.34,-9.34M1952.71,870.57l9.34,9.34m-9.34,0l9.34,-9.34M1953.28,870.81l9.34,9.34m-9.34,0l9.34,-9.34M1953.85,870.9l9.34,9.34m-9.34,0l9.34,-9.34M1954.42,869.88l9.34,9.34m-9.34,0l9.34,-9.34M1954.99,870.48l9.34,9.34m-9.34,0l9.34,-9.34M1955.56,870.19l9.34,9.34m-9.34,0l9.34,-9.34M1956.13,870.63l9.34,9.34m-9.34,0l9.34,-9.34M1956.7,870.68l9.34,9.34m-9.34,0l9.34,-9.34M1957.26,870.68l9.34,9.34m-9.34,0l9.34,-9.34M1957.83,869.39l9.34,9.34m-9.34,0l9.34,-9.34M1958.4,869.98l9.34,9.34m-9.34,0l9.34,-9.34M1958.97,870.1l9.34,9.34m-9.34,0l9.34,-9.34M1959.54,870.43l9.34,9.34m-9.34,0l9.34,-9.34M1960.11,870.61l9.34,9.34m-9.34,0l9.34,-9.34M1960.68,870.25l9.34,9.34m-9.34,0l9.34,-9.34M1961.25,870.08l9.34,9.34m-9.34,0l9.34,-9.34M1961.81,871.06l9.34,9.34m-9.34,0l9.34,-9.34M1962.38,870.91l9.34,9.34m-9.34,0l9.34,-9.34M1962.95,870.17l9.34,9.34m-9.34,0l9.34,-9.34M1963.52,870.46l9.34,9.34m-9.34,0l9.34,-9.34M1964.09,870.66l9.34,9.34m-9.34,0l9.34,-9.34M1964.66,870.98l9.34,9.34m-9.34,0l9.34,-9.34M1965.23,871.08l9.34,9.34m-9.34,0l9.34,-9.34M1965.79,870.93l9.34,9.34m-9.34,0l9.34,-9.34" fill="none" stroke="#1f77b4" stroke-width="4.4"/>
<path d="M1525.74,544.62h0M1526.31,547.34h0M1526.87,550.03h0M1527.44,552.7h0M1528.01,555.35h0M1528.58,557.97h0M1529.15,560.58h0M1529.72,563.16h0M1530.29,565.72h0M1530.85,568.27h0M1531.42,570.79h0M1531.99,573.29h0M1532.56,575.77h0M1533.13,578.22h0M1533.7,580.66h0M1534.27,583.08h0M1534.84,585.48h0M1535.4,587.86h0M1535.97,590.22h0M1536.54,592.56h0M1537.11,594.88h0M1537.68,597.18h0M1538.25,599.47h0M1538.82,601.73h0M1539.39,603.98h0M1539.95,606.2h0M1540.52,608.41h0M1541.09,610.61h0M1541.66,612.78h0M1542.23,614.93h0M1542.8,617.07h0M1543.37,619.19h0M1543.93,621.29h0M1544.5,623.38h0M1545.07,625.45h0M1545.64,627.5h0M1546.21,629.54h0M1546.78,631.55h0M1547.35,633.56h0M1547.92,635.54h0M1548.48,637.51h0M1549.05,639.46h0M1549.62,641.4h0M1550.19,643.32h0M1550.76,645.22h0M1551.33,647.11h0M1551.9,648.99h0M1552.47,650.85h0M1553.03,652.69h0M1553.6,654.52h0M1554.17,656.33h0M1554.74,658.13h0M1555.31,659.91h0M1555.88,661.68h0M1556.45,663.44h0M1557.02,665.18h0M1557.58,666.9h0M1558.15,668.62h0M1558.72,670.31h0M1559.29,672h0M1559.86,673.67h0M1560.43,675.32h0M1561,676.97h0M1561.56,678.6h0M1562.13,680.21h0M1562.7,681.81h0M1563.27,683.4h0M1563.84,684.98h0M1564.41,686.54h0M1564.98,688.1h0M1565.55,689.63h0M1566.11,691.16h0M1566.68,692.67h0M1567.25,694.17h0M1567.82,695.66h0M1568.39,697.14h0M1568.96,698.6h0M1569.53,700.05h0M1570.1,701.49h0M1570.66,702.92h0M1571.23,704.34h0M1571.8,705.74h0M1572.37,707.14h0M1572.94,708.52h0M1573.51,709.89h0M1574.08,711.25h0M1574.64,712.6h0M1575.21,713.93h0M1575.78,715.26h0M1576.35,716.58h0M1576.92,717.88h0M1577.49,719.17h0M1578.06,720.46h0M1578.63,721.73h0M1579.19,722.99h0M1579.76,724.25h0M1580.33,725.49h0M1580.9,726.72h0M1581.47,727.94h0M1582.04,729.15h0M1582.61,730.35h0M1583.18,731.55h0M1583.74,732.73h0M1584.31,733.9h0M1584.88,735.06h0M1585.45,736.22h0M1586.02,737.36h0M1586.59,738.49h0M1587.16,739.62h0M1587.73,740.73h0M1588.29,741.84h0M1588.86,742.94h0M1589.43,744.03h0M1590,745.11h0M1590.57,746.18h0M1591.14,747.24h0M1591.71,748.29h0M1592.27,749.34h0M1592.84,750.37h0M1593.41,751.4h0M1593.98,752.42h0M1594.55,753.43h0M1595.12,754.43h0M1595.69,755.43h0M1596.26,756.41h0M1596.82,757.39h0M1597.39,758.36h0M1597.96,759.32h0M1598.53,760.28h0M1599.1,761.23h0M1599.67,762.16h0M1600.24,763.1h0M1600.81,764.02h0M1601.37,764.93h0M1601.94,765.84h0M1602.51,766.74h0M1603.08,767.64h0M1603.65,768.52h0M1604.22,769.4h0M1604.79,770.27h0M1605.36,771.14h0M1605.92,772h0M1606.49,772.85h0M1607.06,773.69h0M1607.63,774.53h0M1608.2,775.36h0M1608.77,776.18h0M1609.34,776.99h0M1609.9,777.8h0M1610.47,778.61h0M1611.04,779.4h0M1611.61,780.19h0M1612.18,780.98h0M1612.75,781.75h0M1613.32,782.52h0M1613.89,783.29h0M1614.45,784.05h0M1615.02,784.8h0M1615.59,785.54h0M1616.16,786.28h0M1616.73,787.01h0M1617.3,787.74h0M1617.87,788.46h0M1618.44,789.18h0M1619,789.89h0M1619.57,790.59h0M1620.14,791.29h0M1620.71,791.98h0M1621.28,792.67h0M1621.85,793.35h0M1622.42,794.03h0M1622.98,794.7h0M1623.55,795.36h0M1624.12,796.02h0M1624.69,796.67h0M1625.26,797.32h0M1625.83,797.96h0M1626.4,798.6h0M1626.97,799.23h0M1627.53,799.86h0M1628.1,800.48h0M1628.67,801.1h0M1629.24,801.71h0M1629.81,802.32h0M1630.38,802.92h0M1630.95,803.52h0M1631.52,804.11h0M1632.08,804.7h0M1632.65,805.28h0M1633.22,805.86h0M1633.79,806.43h0M1634.36,807h0M1634.93,807.56h0M1635.5,808.12h0M1636.07,808.67h0M1636.63,809.22h0M1637.2,809.77h0M1637.77,810.31h0M1638.34,810.85h0M1638.91,811.38h0M1639.48,811.91h0M1640.05,812.43h0M1640.61,812.95h0M1641.18,813.46h0M1641.75,813.97h0M1642.32,814.48h0M1642.89,814.98h0M1643.46,815.48h0M1644.03,815.97h0M1644.6,816.46h0M1645.16,816.95h0M1645.73,817.43h0M1646.3,817.91h0M1646.87,818.38h0M1647.44,818.85h0M1648.01,819.32h0M1648.58,819.78h0M1649.15,820.24h0M1649.71,820.7h0M1650.28,821.15h0M1650.85,821.59h0M1651.42,822.04h0M1651.99,822.48h0M1652.56,822.92h0M1653.13,823.35h0M1653.69,823.78h0M1654.26,824.2h0M1654.83,824.63h0M1655.4,825.05h0M1655.97,825.46h0M1656.54,825.87h0M1657.11,826.28h0M1657.68,826.69h0M1658.24,827.09h0M1658.81,827.49h0M1659.38,827.88h0M1659.95,828.28h0M1660.52,828.67h0M1661.09,829.05h0M1661.66,829.43h0M1662.23,829.81h0M1662.79,830.19h0M1663.36,830.56h0M1663.93,830.93h0M1664.5,831.3h0M1665.07,831.67h0M1665.64,832.03h0M1666.21,832.38h0M1666.78,832.74h0M1667.34,833.09h0M1667.91,833.44h0M1668.48,833.79h0M1669.05,834.13h0M1669.62,834.47h0M1670.19,834.81h0M1670.76,835.15h0M1671.32,835.48h0M1671.89,835.81h0M1672.46,836.14h0M1673.03,836.46h0M1673.6,836.78h0M1674.17,837.1h0M1674.74,837.42h0M1675.31,837.73h0M1675.87,838.05h0M1676.44,838.36h0M1677.01,838.66h0M1677.58,838.97h0M1678.15,839.27h0M1678.72,839.57h0M1679.29,839.86h0M1679.86,840.16h0M1680.42,840.45h0M1680.99,840.74h0M1681.56,841.03h0M1682.13,841.31h0M1682.7,841.59h0M1683.27,841.87h0M1683.84,842.15h0M1684.41,842.42h0M1684.97,842.7h0M1685.54,842.97h0M1686.11,843.24h0M1686.68,843.5h0M1687.25,843.77h0M1687.82,844.03h0M1688.39,844.29h0M1688.95,844.55h0M1689.52,844.8h0M1690.09,845.06h0M1690.66,845.31h0M1691.23,845.56h0M1691.8,845.81h0M1692.37,846.05h0M1692.94,846.29h0M1693.5,846.54h0M1694.07,846.78h0M1694.64,847.01h0M1695.21,847.25h0M1695.78,847.48h0M1696.35,847.71h0M1696.92,847.94h0M1697.49,848.17h0M1698.05,848.4h0M1698.62,848.62h0M1699.19,848.84h0M1699.76,849.06h0M1700.33,849.28h0M1700.9,849.5h0M1701.47,849.72h0M1702.03,849.93h0M1702.6,850.14h0M1703.17,850.35h0M1703.74,850.56h0M1704.31,850.76h0M1704.88,850.97h0M1705.45,851.17h0M1706.02,851.37h0M1706.58,851.57h0M1707.15,851.77h0M1707.72,851.97h0M1708.29,852.16h0M1708.86,852.36h0M1709.43,852.55h0M1710,852.74h0M1710.57,852.93h0M1711.13,853.11h0M1711.7,853.3h0M1712.27,853.48h0M1712.84,853.67h0M1713.41,853.85h0M1713.98,854.03h0M1714.55,854.2h0M1715.12,854.38h0M1715.68,854.56h0M1716.25,854.73h0M1716.82,854.9h0M1717.39,855.07h0M1717.96,855.24h0M1718.53,855.41h0M1719.1,855.58h0M1719.66,855.74h0M1720.23,855.91h0M1720.8,856.07h0M1721.37,856.23h0M1721.94,856.39h0M1722.51,856.55h0M1723.08,856.71h0M1723.65,856.86h0M1724.21,857.02h0M1724.78,857.17h0M1725.35,857.32h0M1725.92,857.47h0M1726.49,857.62h0M1727.06,857.77h0M1727.63,857.92h0M1728.2,858.07h0M1728.76,858.21h0M1729.33,858.35h0M1729.9,858.5h0M1730.47,858.64h0M1731.04,858.78h0M1731.61,858.92h0M1732.18,859.06h0M1732.74,859.19h0M1733.31,859.33h0M1733.88,859.46h0M1734.45,859.6h0M1735.02,859.73h0M1735.59,859.86h0M1736.16,859.99h0M1736.73,860.12h0M1737.29,860.25h0M1737.86,860.37h0M1738.43,860.5h0M1739,860.63h0M1739.57,860.75h0M1740.14,860.87h0M1740.71,860.99h0M1741.28,861.11h0M1741.84,861.23h0M1742.41,861.35h0M1742.98,861.47h0M1743.55,861.59h0M1744.12,861.7h0M1744.69,861.82h0M1745.26,861.93h0M1745.83,862.05h0M1746.39,862.16h0M1746.96,862.27h0M1747.53,862.38h0M1748.1,862.49h0M1748.67,862.6h0M1749.24,862.71h0M1749.81,862.81h0M1750.37,862.92h0M1750.94,863.03h0M1751.51,863.13h0M1752.08,863.23h0M1752.65,863.34h0M1753.22,863.44h0M1753.79,863.54h0M1754.36,863.64h0M1754.92,863.74h0M1755.49,863.84h0M1756.06,863.93h0M1756.63,864.03h0M1757.2,864.13h0M1757.77,864.22h0M1758.34,864.32h0M1758.91,864.41h0M1759.47,864.5h0M1760.04,864.59h0M1760.61,864.69h0M1761.18,864.78h0M1761.75,864.87h0M1762.32,864.96h0M1762.89,865.04h0M1763.46,865.13h0M1764.02,865.22h0M1764.59,865.31h0M1765.16,865.39h0M1765.73,865.48h0M1766.3,865.56h0M1766.87,865.64h0M1767.44,865.73h0M1768,865.81h0M1768.57,865.89h0M1769.14,865.97h0M1769.71,866.05h0M1770.28,866.13h0M1770.85,866.21h0M1771.42,866.29h0M1771.99,866.36h0M1772.55,866.44h0M1773.12,866.52h0M1773.69,866.59h0M1774.26,866.67h0M1774.83,866.74h0M1775.4,866.82h0M1775.97,866.89h0M1776.54,866.96h0M1777.1,867.03h0M1777.67,867.11h0M1778.24,867.18h0M1778.81,867.25h0M1779.38,867.32h0M1779.95,867.39h0M1780.52,867.45h0M1781.08,867.52h0M1781.65,867.59h0M1782.22,867.66h0M1782.79,867.72h0M1783.36,867.79h0M1783.93,867.85h0M1784.5,867.92h0M1785.07,867.98h0M1785.63,868.05h0M1786.2,868.11h0M1786.77,868.17h0M1787.34,868.23h0M1787.91,868.3h0M1788.48,868.36h0M1789.05,868.42h0M1789.62,868.48h0M1790.18,868.54h0M1790.75,868.6h0M1791.32,868.65h0M1791.89,868.71h0M1792.46,868.77h0M1793.03,868.83h0M1793.6,868.88h0M1794.17,868.94h0M1794.73,869h0M1795.3,869.05h0M1795.87,869.11h0M1796.44,869.16h0M1797.01,869.21h0M1797.58,869.27h0M1798.15,869.32h0M1798.71,869.37h0M1799.28,869.43h0M1799.85,869.48h0M1800.42,869.53h0M1800.99,869.58h0M1801.56,869.63h0M1802.13,869.68h0M1802.7,869.73h0M1803.26,869.78h0M1803.83,869.83h0M1804.4,869.88h0M1804.97,869.93h0M1805.54,869.97h0M1806.11,870.02h0M1806.68,870.07h0M1807.25,870.11h0M1807.81,870.16h0M1808.38,870.21h0M1808.95,870.25h0M1809.52,870.3h0M1810.09,870.34h0M1810.66,870.39h0M1811.23,870.43h0M1811.79,870.47h0M1812.36,870.52h0M1812.93,870.56h0M1813.5,870.6h0M1814.07,870.64h0M1814.64,870.69h0M1815.21,870.73h0M1815.78,870.77h0M1816.34,870.81h0M1816.91,870.85h0M1817.48,870.89h0M1818.05,870.93h0M1818.62,870.97h0M1819.19,871.01h0M1819.76,871.05h0M1820.33,871.09h0M1820.89,871.12h0M1821.46,871.16h0M1822.03,871.2h0M1822.6,871.24h0M1823.17,871.27h0M1823.74,871.31h0M1824.31,871.35h0M1824.88,871.38h0M1825.44,871.42h0M1826.01,871.45h0M1826.58,871.49h0M1827.15,871.52h0M1827.72,871.56h0M1828.29,871.59h0M1828.86,871.63h0M1829.42,871.66h0M1829.99,871.69h0M1830.56,871.73h0M1831.13,871.76h0M1831.7,871.79h0M1832.27,871.82h0M1832.84,871.86h0M1833.41,871.89h0M1833.97,871.92h0M1834.54,871.95h0M1835.11,871.98h0M1835.68,872.01h0M1836.25,872.04h0M1836.82,872.07h0M1837.39,872.1h0M1837.96,872.13h0M1838.52,872.16h0M1839.09,872.19h0M1839.66,872.22h0M1840.23,872.25h0M1840.8,872.28h0M1841.37,872.31h0M1841.94,872.34h0M1842.51,872.36h0M1843.07,872.39h0M1843.64,872.42h0M1844.21,872.45h0M1844.78,872.47h0M1845.35,872.5h0M1845.92,872.53h0M1846.49,872.55h0M1847.05,872.58h0M1847.62,872.61h0M1848.19,872.63h0M1848.76,872.66h0M1849.33,872.68h0M1849.9,872.71h0M1850.47,872.73h0M1851.04,872.76h0M1851.6,872.78h0M1852.17,872.81h0M1852.74,872.83h0M1853.31,872.85h0M1853.88,872.88h0M1854.45,872.9h0M1855.02,872.92h0M1855.59,872.95h0M1856.15,872.97h0M1856.72,872.99h0M1857.29,873.02h0M1857.86,873.04h0M1858.43,873.06h0M1859,873.08h0M1859.57,873.1h0M1860.13,873.13h0M1860.7,873.15h0M1861.27,873.17h0M1861.84,873.19h0M1862.41,873.21h0M1862.98,873.23h0M1863.55,873.25h0M1864.12,873.27h0M1864.68,873.29h0M1865.25,873.31h0M1865.82,873.33h0M1866.39,873.35h0M1866.96,873.37h0M1867.53,873.39h0M1868.1,873.41h0M1868.67,873.43h0M1869.23,873.45h0M1869.8,873.47h0M1870.37,873.49h0M1870.94,873.51h0M1871.51,873.52h0M1872.08,873.54h0M1872.65,873.56h0M1873.22,873.58h0M1873.78,873.6h0M1874.35,873.61h0M1874.92,873.63h0M1875.49,873.65h0M1876.06,873.67h0M1876.63,873.68h0M1877.2,873.7h0M1877.76,873.72h0M1878.33,873.73h0M1878.9,873.75h0M1879.47,873.77h0M1880.04,873.78h0M1880.61,873.8h0M1881.18,873.81h0M1881.75,873.83h0M1882.31,873.85h0M1882.88,873.86h0M1883.45,873.88h0M1884.02,873.89h0M1884.59,873.91h0M1885.16,873.92h0M1885.73,873.94h0M1886.3,873.95h0M1886.86,873.97h0M1887.43,873.98h0M1888,874h0M1888.57,874.01h0M1889.14,874.02h0M1889.71,874.04h0M1890.28,874.05h0M1890.84,874.07h0M1891.41,874.08h0M1891.98,874.09h0M1892.55,874.11h0M1893.12,874.12h0M1893.69,874.13h0M1894.26,874.15h0M1894.83,874.16h0M1895.39,874.17h0M1895.96,874.19h0M1896.53,874.2h0M1897.1,874.21h0M1897.67,874.22h0M1898.24,874.24h0M1898.81,874.25h0M1899.38,874.26h0M1899.94,874.27h0M1900.51,874.29h0M1901.08,874.3h0M1901.65,874.31h0M1902.22,874.32h0M1902.79,874.33h0M1903.36,874.34h0M1903.93,874.36h0M1904.49,874.37h0M1905.06,874.38h0M1905.63,874.39h0M1906.2,874.4h0M1906.77,874.41h0M1907.34,874.42h0M1907.91,874.43h0M1908.47,874.44h0M1909.04,874.45h0M1909.61,874.47h0M1910.18,874.48h0M1910.75,874.49h0M1911.32,874.5h0M1911.89,874.51h0M1912.46,874.52h0M1913.02,874.53h0M1913.59,874.54h0M1914.16,874.55h0M1914.73,874.56h0M1915.3,874.57h0M1915.87,874.58h0M1916.44,874.59h0M1917.01,874.6h0M1917.57,874.6h0M1918.14,874.61h0M1918.71,874.62h0M1919.28,874.63h0M1919.85,874.64h0M1920.42,874.65h0M1920.99,874.66h0M1921.56,874.67h0M1922.12,874.68h0M1922.69,874.69h0M1923.26,874.69h0M1923.83,874.7h0M1924.4,874.71h0M1924.97,874.72h0M1925.54,874.73h0M1926.1,874.74h0M1926.67,874.75h0M1927.24,874.75h0M1927.81,874.76h0M1928.38,874.77h0M1928.95,874.78h0M1929.52,874.79h0M1930.09,874.79h0M1930.65,874.8h0M1931.22,874.81h0M1931.79,874.82h0M1932.36,874.82h0M1932.93,874.83h0M1933.5,874.84h0M1934.07,874.85h0M1934.64,874.85h0M1935.2,874.86h0M1935.77,874.87h0M1936.34,874.88h0M1936.91,874.88h0M1937.48,874.89h0M1938.05,874.9h0M1938.62,874.9h0M1939.18,874.91h0M1939.75,874.92h0M1940.32,874.92h0M1940.89,874.93h0M1941.46,874.94h0M1942.03,874.94h0M1942.6,874.95h0M1943.17,874.96h0M1943.73,874.96h0M1944.3,874.97h0M1944.87,874.98h0M1945.44,874.98h0M1946.01,874.99h0M1946.58,875h0M1947.15,875h0M1947.72,875.01h0M1948.28,875.01h0M1948.85,875.02h0M1949.42,875.03h0M1949.99,875.03h0M1950.56,875.04h0M1951.13,875.04h0M1951.7,875.05h0M1952.27,875.05h0M1952.83,875.06h0M1953.4,875.07h0M1953.97,875.07h0M1954.54,875.08h0M1955.11,875.08h0M1955.68,875.09h0M1956.25,875.09h0M1956.81,875.1h0M1957.38,875.1h0M1957.95,875.11h0M1958.52,875.11h0M1959.09,875.12h0M1959.66,875.13h0M1960.23,875.13h0M1960.8,875.14h0M1961.36,875.14h0M1961.93,875.15h0M1962.5,875.15h0M1963.07,875.15h0M1963.64,875.16h0M1964.21,875.16h0M1964.78,875.17h0M1965.35,875.17h0M1965.91,875.18h0M1966.48,875.18h0M1967.05,875.19h0M1967.62,875.19h0M1968.19,875.2h0M1968.76,875.2h0M1969.33,875.21h0M1969.89,875.21h0M1970.46,875.21h0" fill="none" stroke="#ff7f0e" stroke-width="9.7" stroke-linecap="round"/>
<path d="M1594.49,523.9V892.5" stroke="#000" stroke-width="4.3"/>
<path d="M1525.74,892.5v-10.3M1525.74,523.9v10.3M1639.48,892.5v-10.3M1639.48,523.9v10.3M1753.22,892.5v-10.3M1753.22,523.9v10.3M1866.96,892.5v-10.3M1866.96,523.9v10.3M1980.7,892.5v-10.3M1980.7,523.9v10.3M1503.5,875.75h10.3M1992.7,875.75h-10.3M1503.5,774.75h10.3M1992.7,774.75h-10.3M1503.5,673.76h10.3M1992.7,673.76h-10.3M1503.5,572.77h10.3M1992.7,572.77h-10.3" stroke="#000" stroke-width="2.5" fill="none"/>
<rect x="1503.5" y="523.9" width="489.2" height="368.6" fill="none" stroke="#000" stroke-width="2.65"/>
<text font-size="41" text-anchor="middle" transform="translate(1526.14,930.5) scale(0.96,1)">0</text>
<text font-size="41" text-anchor="middle" transform="translate(1639.88,930.5) scale(0.96,1)">200</text>
<text font-size="41" text-anchor="middle" transform="translate(1753.62,930.5) scale(0.96,1)">400</text>
<text font-size="41" text-anchor="middle" transform="translate(1867.36,930.5) scale(0.96,1)">600</text>
<text font-size="41" text-anchor="middle" transform="translate(1981.1,930.5) scale(0.96,1)">800</text>
<text font-size="41" text-anchor="end" transform="translate(1493.2,890.25) scale(0.96,1)">0.00</text>
<text font-size="41" text-anchor="end" transform="translate(1493.2,789.25) scale(0.96,1)">0.25</text>
<text font-size="41" text-anchor="end" transform="translate(1493.2,688.26) scale(0.96,1)">0.50</text>
<text font-size="41" text-anchor="end" transform="translate(1493.2,587.27) scale(0.96,1)">0.75</text>
<text font-size="40.5" font-style="italic" transform="matrix(0.9802,0,0,0.9421,1541.31,507.06)">p</text>
<text font-size="40.5" transform="matrix(1.4146,0,0,1.0212,1577.97,510.35)">=</text>
<text font-size="41" transform="matrix(1.0016,0,0,1,1626.18,507.1)">3</text>
<text font-size="40.5" transform="matrix(1.2035,0,0,1.2401,1656.83,513.7)">×</text>
<text font-size="41" transform="matrix(0.9572,0,0,1,1694.6,507.1)">10</text>
<text font-size="28.6" class="s" transform="matrix(0.9214,0,0,1,1734.71,492.8)">0</text>
<text font-size="40.5" transform="matrix(1.0327,0,0,1,1755.27,507.1)">IV</text>
<text font-size="40.5" transform="matrix(1.3916,0,0,1.4793,1801.33,516.47)">/</text>
<text font-size="40.5" transform="matrix(0.9528,0,0,1.0921,1820.99,507.67)">(</text>
<text font-size="40.5" transform="matrix(0.9705,0,0,1,1833.96,507.1)">cell</text>
<text font-size="40.5" transform="matrix(1.0381,0,0,1.0381,1897.91,511.23)">·</text>
<text font-size="40.5" transform="matrix(1.0621,0,0,1,1919.3,507.1)">h</text>
<text font-size="40.5" transform="matrix(0.9531,0,0,1.0921,1941.28,507.67)">)</text>
<text font-size="33.8" font-weight="bold" transform="matrix(1.1417,0,0,1.1163,1918.24,570.25)">(</text>
<text font-size="33.8" font-weight="bold" transform="matrix(1.1965,0,0,1,1931.97,569.3)">F</text>
<text font-size="33.8" font-weight="bold" transform="matrix(1.1306,0,0,1.1163,1956.54,570.25)">)</text>
<g transform="translate(1403.1,896.8) rotate(-90)">
<text font-size="40.5" transform="matrix(1.0757,0,0,1,-1.48,0)">Prob.</text>
<text font-size="40.5" transform="matrix(1.0453,0,0,1,103.64,0)">or</text>
<text font-size="40.5" transform="matrix(1.0071,0,0,1,151.66,0)">freq.</text>
<text font-size="40.5" transform="matrix(0.9915,0,0,1.0921,242.32,0.57)">(</text>
<text font-size="40.5" transform="matrix(1.2157,0,0,1.2401,257.59,6.6)">×</text>
<text font-size="41" transform="matrix(0.9572,0,0,1,286.7,0)">10</text>
<text font-size="28.6" class="s" transform="matrix(1.3309,0,0,1.2587,326.2,-9.83)">−</text>
<text font-size="28.6" class="s" transform="matrix(1.0315,0,0,1,347.87,-14.3)">2</text>
<text font-size="40.5" transform="matrix(0.934,0,0,1.0921,364.3,0.57)">)</text>
</g>
</g>
<g id="panelG">
<path d="M151.17,1027.89l9.34,9.34m-9.34,0l9.34,-9.34M154.81,1032.33l9.34,9.34m-9.34,0l9.34,-9.34M158.46,1040.71l9.34,9.34m-9.34,0l9.34,-9.34M162.1,1063.38l9.34,9.34m-9.34,0l9.34,-9.34M165.75,1077.88l9.34,9.34m-9.34,0l9.34,-9.34M169.39,1097.64l9.34,9.34m-9.34,0l9.34,-9.34M173.04,1105.21l9.34,9.34m-9.34,0l9.34,-9.34M176.68,1113.33l9.34,9.34m-9.34,0l9.34,-9.34M180.33,1129.75l9.34,9.34m-9.34,0l9.34,-9.34M183.98,1138.49l9.34,9.34m-9.34,0l9.34,-9.34M187.62,1151.43l9.34,9.34m-9.34,0l9.34,-9.34M191.27,1161.77l9.34,9.34m-9.34,0l9.34,-9.34M194.91,1173.13l9.34,9.34m-9.34,0l9.34,-9.34M198.56,1180.12l9.34,9.34m-9.34,0l9.34,-9.34M202.2,1185.05l9.34,9.34m-9.34,0l9.34,-9.34M205.85,1195.2l9.34,9.34m-9.34,0l9.34,-9.34M209.49,1201.4l9.34,9.34m-9.34,0l9.34,-9.34M213.14,1210.89l9.34,9.34m-9.34,0l9.34,-9.34M216.78,1217.57l9.34,9.34m-9.34,0l9.34,-9.34M220.43,1224.78l9.34,9.34m-9.34,0l9.34,-9.34M224.07,1235.53l9.34,9.34m-9.34,0l9.34,-9.34M227.72,1235.59l9.34,9.34m-9.34,0l9.34,-9.34M231.36,1242.14l9.34,9.34m-9.34,0l9.34,-9.34M235.01,1247.61l9.34,9.34m-9.34,0l9.34,-9.34M238.65,1257.49l9.34,9.34m-9.34,0l9.34,-9.34M242.3,1262.39l9.34,9.34m-9.34,0l9.34,-9.34M245.95,1265.2l9.34,9.34m-9.34,0l9.34,-9.34M249.59,1268.72l9.34,9.34m-9.34,0l9.34,-9.34M253.24,1271.38l9.34,9.34m-9.34,0l9.34,-9.34M256.88,1276.04l9.34,9.34m-9.34,0l9.34,-9.34M260.53,1278.77l9.34,9.34m-9.34,0l9.34,-9.34M264.17,1284.46l9.34,9.34m-9.34,0l9.34,-9.34M267.82,1286.17l9.34,9.34m-9.34,0l9.34,-9.34M271.46,1289.27l9.34,9.34m-9.34,0l9.34,-9.34M275.11,1294.1l9.34,9.34m-9.34,0l9.34,-9.34M278.75,1293.14l9.34,9.34m-9.34,0l9.34,-9.34M282.4,1297.81l9.34,9.34m-9.34,0l9.34,-9.34M286.04,1299.48l9.34,9.34m-9.34,0l9.34,-9.34M289.69,1304.74l9.34,9.34m-9.34,0l9.34,-9.34M293.33,1307.25l9.34,9.34m-9.34,0l9.34,-9.34M296.98,1308.91l9.34,9.34m-9.34,0l9.34,-9.34M300.63,1310.71l9.34,9.34m-9.34,0l9.34,-9.34M304.27,1311.73l9.34,9.34m-9.34,0l9.34,-9.34M307.92,1314.19l9.34,9.34m-9.34,0l9.34,-9.34M311.56,1316.91l9.34,9.34m-9.34,0l9.34,-9.34M315.21,1319.27l9.34,9.34m-9.34,0l9.34,-9.34M318.85,1320.36l9.34,9.34m-9.34,0l9.34,-9.34M322.5,1319.84l9.34,9.34m-9.34,0l9.34,-9.34M326.14,1323.71l9.34,9.34m-9.34,0l9.34,-9.34M329.79,1323.91l9.34,9.34m-9.34,0l9.34,-9.34M333.43,1325.06l9.34,9.34m-9.34,0l9.34,-9.34M337.08,1328.39l9.34,9.34m-9.34,0l9.34,-9.34M340.72,1327.96l9.34,9.34m-9.34,0l9.34,-9.34M344.37,1327.83l9.34,9.34m-9.34,0l9.34,-9.34M348.01,1332.23l9.34,9.34m-9.34,0l9.34,-9.34M351.66,1331.59l9.34,9.34m-9.34,0l9.34,-9.34M355.3,1332.36l9.34,9.34m-9.34,0l9.34,-9.34M358.95,1333.94l9.34,9.34m-9.34,0l9.34,-9.34M362.6,1333.63l9.34,9.34m-9.34,0l9.34,-9.34M366.24,1334.97l9.34,9.34m-9.34,0l9.34,-9.34M369.89,1336.96l9.34,9.34m-9.34,0l9.34,-9.34M373.53,1335.79l9.34,9.34m-9.34,0l9.34,-9.34M377.18,1336.66l9.34,9.34m-9.34,0l9.34,-9.34M380.82,1337.14l9.34,9.34m-9.34,0l9.34,-9.34M384.47,1337.43l9.34,9.34m-9.34,0l9.34,-9.34M388.11,1338.87l9.34,9.34m-9.34,0l9.34,-9.34M391.76,1339.64l9.34,9.34m-9.34,0l9.34,-9.34M395.4,1341.2l9.34,9.34m-9.34,0l9.34,-9.34M399.05,1340.39l9.34,9.34m-9.34,0l9.34,-9.34M402.69,1341.72l9.34,9.34m-9.34,0l9.34,-9.34M406.34,1342.08l9.34,9.34m-9.34,0l9.34,-9.34M409.98,1343.05l9.34,9.34m-9.34,0l9.34,-9.34M413.63,1343.27l9.34,9.34m-9.34,0l9.34,-9.34M417.27,1343.4l9.34,9.34m-9.34,0l9.34,-9.34M420.92,1342.7l9.34,9.34m-9.34,0l9.34,-9.34M424.57,1345l9.34,9.34m-9.34,0l9.34,-9.34M428.21,1344.99l9.34,9.34m-9.34,0l9.34,-9.34M431.86,1344.38l9.34,9.34m-9.34,0l9.34,-9.34M435.5,1344.06l9.34,9.34m-9.34,0l9.34,-9.34M439.15,1344.82l9.34,9.34m-9.34,0l9.34,-9.34M442.79,1346.36l9.34,9.34m-9.34,0l9.34,-9.34M446.44,1346.91l9.34,9.34m-9.34,0l9.34,-9.34M450.08,1345.76l9.34,9.34m-9.34,0l9.34,-9.34M453.73,1346.52l9.34,9.34m-9.34,0l9.34,-9.34M457.37,1346.91l9.34,9.34m-9.34,0l9.34,-9.34M461.02,1346.19l9.34,9.34m-9.34,0l9.34,-9.34M464.66,1346.36l9.34,9.34m-9.34,0l9.34,-9.34M468.31,1346.96l9.34,9.34m-9.34,0l9.34,-9.34M471.95,1347.12l9.34,9.34m-9.34,0l9.34,-9.34M475.6,1347.22l9.34,9.34m-9.34,0l9.34,-9.34M479.25,1346.94l9.34,9.34m-9.34,0l9.34,-9.34M482.89,1347.49l9.34,9.34m-9.34,0l9.34,-9.34M486.54,1347.68l9.34,9.34m-9.34,0l9.34,-9.34M490.18,1347.82l9.34,9.34m-9.34,0l9.34,-9.34M493.83,1348.71l9.34,9.34m-9.34,0l9.34,-9.34M497.47,1347.85l9.34,9.34m-9.34,0l9.34,-9.34M501.12,1348.09l9.34,9.34m-9.34,0l9.34,-9.34M504.76,1348.36l9.34,9.34m-9.34,0l9.34,-9.34M508.41,1349.27l9.34,9.34m-9.34,0l9.34,-9.34M512.05,1348.94l9.34,9.34m-9.34,0l9.34,-9.34M515.7,1348.59l9.34,9.34m-9.34,0l9.34,-9.34M519.34,1349.47l9.34,9.34m-9.34,0l9.34,-9.34M522.99,1349.09l9.34,9.34m-9.34,0l9.34,-9.34M526.63,1348.84l9.34,9.34m-9.34,0l9.34,-9.34M530.28,1349.56l9.34,9.34m-9.34,0l9.34,-9.34M533.92,1348.85l9.34,9.34m-9.34,0l9.34,-9.34M537.57,1349.21l9.34,9.34m-9.34,0l9.34,-9.34M541.22,1349.46l9.34,9.34m-9.34,0l9.34,-9.34M544.86,1349.41l9.34,9.34m-9.34,0l9.34,-9.34M548.51,1349.4l9.34,9.34m-9.34,0l9.34,-9.34M552.15,1349.59l9.34,9.34m-9.34,0l9.34,-9.34M555.8,1349.41l9.34,9.34m-9.34,0l9.34,-9.34M559.44,1349.87l9.34,9.34m-9.34,0l9.34,-9.34M563.09,1349.86l9.34,9.34m-9.34,0l9.34,-9.34M566.73,1349.61l9.34,9.34m-9.34,0l9.34,-9.34M570.38,1349.87l9.34,9.34m-9.34,0l9.34,-9.34M574.02,1350.08l9.34,9.34m-9.34,0l9.34,-9.34M577.67,1349.77l9.34,9.34m-9.34,0l9.34,-9.34M581.31,1349.72l9.34,9.34m-9.34,0l9.34,-9.34M584.96,1350.08l9.34,9.34m-9.34,0l9.34,-9.34M588.6,1350.08l9.34,9.34m-9.34,0l9.34,-9.34M592.25,1350.08l9.34,9.34m-9.34,0l9.34,-9.34M595.89,1350.08l9.34,9.34m-9.34,0l9.34,-9.34" fill="none" stroke="#1f77b4" stroke-width="4.4"/>
<path d="M155.84,1019.76h0M159.48,1036.7h0M163.13,1052.78h0M166.77,1068.04h0M170.42,1082.54h0M174.06,1096.31h0M177.71,1109.38h0M181.35,1121.8h0M185,1133.58h0M188.64,1144.78h0M192.29,1155.4h0M195.93,1165.49h0M199.58,1175.08h0M203.23,1184.17h0M206.87,1192.81h0M210.52,1201.02h0M214.16,1208.81h0M217.81,1216.2h0M221.45,1223.23h0M225.1,1229.9h0M228.74,1236.23h0M232.39,1242.24h0M236.03,1247.95h0M239.68,1253.37h0M243.32,1258.52h0M246.97,1263.41h0M250.61,1268.05h0M254.26,1272.46h0M257.9,1276.65h0M261.55,1280.62h0M265.2,1284.39h0M268.84,1287.98h0M272.49,1291.38h0M276.13,1294.61h0M279.78,1297.68h0M283.42,1300.59h0M287.07,1303.36h0M290.71,1305.98h0M294.36,1308.48h0M298,1310.84h0M301.65,1313.09h0M305.29,1315.23h0M308.94,1317.26h0M312.58,1319.18h0M316.23,1321.01h0M319.88,1322.74h0M323.52,1324.39h0M327.17,1325.96h0M330.81,1327.44h0M334.46,1328.85h0M338.1,1330.19h0M341.75,1331.47h0M345.39,1332.67h0M349.04,1333.82h0M352.68,1334.91h0M356.33,1335.95h0M359.97,1336.93h0M363.62,1337.86h0M367.26,1338.75h0M370.91,1339.59h0M374.55,1340.38h0M378.2,1341.14h0M381.85,1341.86h0M385.49,1342.55h0M389.14,1343.2h0M392.78,1343.81h0M396.43,1344.4h0M400.07,1344.95h0M403.72,1345.48h0M407.36,1345.98h0M411.01,1346.46h0M414.65,1346.91h0M418.3,1347.34h0M421.94,1347.74h0M425.59,1348.13h0M429.23,1348.5h0M432.88,1348.85h0M436.52,1349.18h0M440.17,1349.49h0M443.82,1349.79h0M447.46,1350.08h0M451.11,1350.34h0M454.75,1350.6h0M458.4,1350.84h0M462.04,1351.07h0M465.69,1351.29h0M469.33,1351.5h0M472.98,1351.7h0M476.62,1351.88h0M480.27,1352.06h0M483.91,1352.23h0M487.56,1352.39h0M491.2,1352.54h0M494.85,1352.69h0M498.5,1352.83h0M502.14,1352.96h0M505.79,1353.08h0M509.43,1353.2h0M513.08,1353.31h0M516.72,1353.42h0M520.37,1353.52h0M524.01,1353.61h0M527.66,1353.7h0M531.3,1353.79h0M534.95,1353.87h0M538.59,1353.95h0M542.24,1354.02h0M545.88,1354.09h0M549.53,1354.16h0M553.17,1354.22h0M556.82,1354.28h0M560.47,1354.34h0M564.11,1354.39h0M567.76,1354.44h0M571.4,1354.49h0M575.05,1354.54h0M578.69,1354.58h0M582.34,1354.63h0M585.98,1354.66h0M589.63,1354.7h0M593.27,1354.74h0M596.92,1354.77h0M600.56,1354.8h0" fill="none" stroke="#ff7f0e" stroke-width="9.7" stroke-linecap="round"/>
<path d="M224.44,1002.9V1371.5" stroke="#000" stroke-width="4.3"/>
<path d="M155.84,1371.5v-10.3M155.84,1002.9v10.3M338.1,1371.5v-10.3M338.1,1002.9v10.3M520.37,1371.5v-10.3M520.37,1002.9v10.3M133.6,1355.41h10.3M622.8,1355.41h-10.3M133.6,1222.36h10.3M622.8,1222.36h-10.3M133.6,1089.31h10.3M622.8,1089.31h-10.3" stroke="#000" stroke-width="2.5" fill="none"/>
<rect x="133.6" y="1002.9" width="489.2" height="368.6" fill="none" stroke="#000" stroke-width="2.65"/>
<text font-size="41" text-anchor="middle" transform="translate(156.24,1409.5) scale(0.96,1)">0</text>
<text font-size="41" text-anchor="middle" transform="translate(338.5,1409.5) scale(0.96,1)">50</text>
<text font-size="41" text-anchor="middle" transform="translate(520.77,1409.5) scale(0.96,1)">100</text>
<text font-size="41" text-anchor="end" transform="translate(123.3,1369.91) scale(0.96,1)">0.0</text>
<text font-size="41" text-anchor="end" transform="translate(123.3,1236.86) scale(0.96,1)">0.2</text>
<text font-size="41" text-anchor="end" transform="translate(123.3,1103.81) scale(0.96,1)">0.4</text>
<text font-size="40.5" font-style="italic" transform="matrix(1.253,0,0,0.9635,314.95,986.67)">n</text>
<text font-size="28.6" font-style="italic" class="s" transform="matrix(1.2121,0,0,1,340.29,992)">I</text>
<text font-size="40.5" transform="matrix(1.4252,0,0,1.0212,371.64,989.55)">=</text>
<text font-size="41" transform="matrix(0.923,0,0,1,420.52,986.3)">1</text>
<text font-size="33.8" font-weight="bold" transform="matrix(1.1417,0,0,1.1163,545.44,1049.25)">(</text>
<text font-size="33.8" font-weight="bold" transform="matrix(1.1767,0,0,1,557.89,1048.3)">G</text>
<text font-size="33.8" font-weight="bold" transform="matrix(1.1306,0,0,1.1163,589.54,1049.25)">)</text>
<g transform="translate(52.5,1375.8) rotate(-90)">
<text font-size="40.5" transform="matrix(1.0757,0,0,1,-1.48,0)">Prob.</text>
<text font-size="40.5" transform="matrix(1.0453,0,0,1,103.64,0)">or</text>
<text font-size="40.5" transform="matrix(1.0071,0,0,1,151.66,0)">freq.</text>
<text font-size="40.5" transform="matrix(0.9915,0,0,1.0921,242.32,0.57)">(</text>
<text font-size="40.5" transform="matrix(1.2157,0,0,1.2401,257.59,6.6)">×</text>
<text font-size="41" transform="matrix(0.9572,0,0,1,286.7,0)">10</text>
<text font-size="28.6" class="s" transform="matrix(1.3309,0,0,1.2587,326.2,-9.83)">−</text>
<text font-size="28.6" class="s" transform="matrix(0.9919,0,0,1,347.72,-14.3)">1</text>
<text font-size="40.5" transform="matrix(0.934,0,0,1.0921,364.3,0.57)">)</text>
</g>
<text font-size="40.5" transform="matrix(1.0726,0,0,1,212.53,1457.7)">Burst</text>
<text font-size="40.5" transform="matrix(0.9917,0,0,1,319.32,1457.7)">size</text>
<text font-size="40.5" transform="matrix(0.9431,0,0,1.0921,395.51,1458.27)">(</text>
<text font-size="40.5" transform="matrix(1.018,0,0,1,408.79,1457.7)">IV</text>
<text font-size="40.5" transform="matrix(1.4272,0,0,1.4793,454.13,1467.07)">/</text>
<text font-size="40.5" transform="matrix(0.9634,0,0,1,471.57,1457.7)">cell</text>
<text font-size="40.5" transform="matrix(0.934,0,0,1.0921,528.7,1458.27)">)</text>
</g>
<g id="panelH">
<path d="M836.17,1330.58l9.34,9.34m-9.34,0l9.34,-9.34M841.66,1300.57l9.34,9.34m-9.34,0l9.34,-9.34M847.15,1255.81l9.34,9.34m-9.34,0l9.34,-9.34M852.64,1214.42l9.34,9.34m-9.34,0l9.34,-9.34M858.13,1175.07l9.34,9.34m-9.34,0l9.34,-9.34M863.62,1140.18l9.34,9.34m-9.34,0l9.34,-9.34M869.11,1104.55l9.34,9.34m-9.34,0l9.34,-9.34M874.6,1080.01l9.34,9.34m-9.34,0l9.34,-9.34M880.09,1055.73l9.34,9.34m-9.34,0l9.34,-9.34M885.58,1040.63l9.34,9.34m-9.34,0l9.34,-9.34M891.07,1026.99l9.34,9.34m-9.34,0l9.34,-9.34M896.56,1023.1l9.34,9.34m-9.34,0l9.34,-9.34M902.05,1020.75l9.34,9.34m-9.34,0l9.34,-9.34M907.54,1014.99l9.34,9.34m-9.34,0l9.34,-9.34M913.03,1029.3l9.34,9.34m-9.34,0l9.34,-9.34M918.52,1035.04l9.34,9.34m-9.34,0l9.34,-9.34M924.01,1044.89l9.34,9.34m-9.34,0l9.34,-9.34M929.51,1064.1l9.34,9.34m-9.34,0l9.34,-9.34M935,1064.68l9.34,9.34m-9.34,0l9.34,-9.34M940.49,1074.26l9.34,9.34m-9.34,0l9.34,-9.34M945.98,1092.16l9.34,9.34m-9.34,0l9.34,-9.34M951.47,1108.79l9.34,9.34m-9.34,0l9.34,-9.34M956.96,1114.55l9.34,9.34m-9.34,0l9.34,-9.34M962.45,1137.23l9.34,9.34m-9.34,0l9.34,-9.34M967.94,1151.2l9.34,9.34m-9.34,0l9.34,-9.34M973.43,1165.32l9.34,9.34m-9.34,0l9.34,-9.34M978.92,1177l9.34,9.34m-9.34,0l9.34,-9.34M984.41,1188.26l9.34,9.34m-9.34,0l9.34,-9.34M989.9,1199.76l9.34,9.34m-9.34,0l9.34,-9.34M995.39,1210.25l9.34,9.34m-9.34,0l9.34,-9.34M1000.88,1225.12l9.34,9.34m-9.34,0l9.34,-9.34M1006.37,1233.84l9.34,9.34m-9.34,0l9.34,-9.34M1011.86,1244.3l9.34,9.34m-9.34,0l9.34,-9.34M1017.35,1249.78l9.34,9.34m-9.34,0l9.34,-9.34M1022.84,1260.54l9.34,9.34m-9.34,0l9.34,-9.34M1028.33,1268.33l9.34,9.34m-9.34,0l9.34,-9.34M1033.82,1276.24l9.34,9.34m-9.34,0l9.34,-9.34M1039.31,1283.27l9.34,9.34m-9.34,0l9.34,-9.34M1044.81,1289.01l9.34,9.34m-9.34,0l9.34,-9.34M1050.3,1295.51l9.34,9.34m-9.34,0l9.34,-9.34M1055.79,1301.46l9.34,9.34m-9.34,0l9.34,-9.34M1061.28,1306.32l9.34,9.34m-9.34,0l9.34,-9.34M1066.77,1310.86l9.34,9.34m-9.34,0l9.34,-9.34M1072.26,1313.27l9.34,9.34m-9.34,0l9.34,-9.34M1077.75,1316.56l9.34,9.34m-9.34,0l9.34,-9.34M1083.24,1318.87l9.34,9.34m-9.34,0l9.34,-9.34M1088.73,1322.89l9.34,9.34m-9.34,0l9.34,-9.34M1094.22,1325.79l9.34,9.34m-9.34,0l9.34,-9.34M1099.71,1327.94l9.34,9.34m-9.34,0l9.34,-9.34M1105.2,1330.67l9.34,9.34m-9.34,0l9.34,-9.34M1110.69,1333.98l9.34,9.34m-9.34,0l9.34,-9.34M1116.18,1333.76l9.34,9.34m-9.34,0l9.34,-9.34M1121.67,1336.37l9.34,9.34m-9.34,0l9.34,-9.34M1127.16,1337.42l9.34,9.34m-9.34,0l9.34,-9.34M1132.65,1339.02l9.34,9.34m-9.34,0l9.34,-9.34M1138.14,1338.5l9.34,9.34m-9.34,0l9.34,-9.34M1143.63,1340.54l9.34,9.34m-9.34,0l9.34,-9.34M1149.12,1341.88l9.34,9.34m-9.34,0l9.34,-9.34M1154.61,1343.45l9.34,9.34m-9.34,0l9.34,-9.34M1160.1,1343.33l9.34,9.34m-9.34,0l9.34,-9.34M1165.6,1344.76l9.34,9.34m-9.34,0l9.34,-9.34M1171.09,1344.57l9.34,9.34m-9.34,0l9.34,-9.34M1176.58,1346.11l9.34,9.34m-9.34,0l9.34,-9.34M1182.07,1346.09l9.34,9.34m-9.34,0l9.34,-9.34M1187.56,1346.2l9.34,9.34m-9.34,0l9.34,-9.34M1193.05,1347.16l9.34,9.34m-9.34,0l9.34,-9.34M1198.54,1347.22l9.34,9.34m-9.34,0l9.34,-9.34M1204.03,1347.52l9.34,9.34m-9.34,0l9.34,-9.34M1209.52,1347.6l9.34,9.34m-9.34,0l9.34,-9.34M1215.01,1348.21l9.34,9.34m-9.34,0l9.34,-9.34M1220.5,1348.16l9.34,9.34m-9.34,0l9.34,-9.34M1225.99,1348.07l9.34,9.34m-9.34,0l9.34,-9.34M1231.48,1348.99l9.34,9.34m-9.34,0l9.34,-9.34M1236.97,1349.01l9.34,9.34m-9.34,0l9.34,-9.34M1242.46,1348.9l9.34,9.34m-9.34,0l9.34,-9.34M1247.95,1349.22l9.34,9.34m-9.34,0l9.34,-9.34M1253.44,1349.43l9.34,9.34m-9.34,0l9.34,-9.34M1258.93,1349.1l9.34,9.34m-9.34,0l9.34,-9.34M1264.42,1349.27l9.34,9.34m-9.34,0l9.34,-9.34M1269.91,1349.33l9.34,9.34m-9.34,0l9.34,-9.34M1275.4,1349.41l9.34,9.34m-9.34,0l9.34,-9.34M1280.89,1349.52l9.34,9.34m-9.34,0l9.34,-9.34" fill="none" stroke="#1f77b4" stroke-width="4.4"/>
<path d="M840.84,1333.45h0M846.33,1299.64h0M851.82,1259.68h0M857.31,1218.09h0M862.8,1177.94h0M868.29,1141.25h0M873.78,1109.22h0M879.27,1082.47h0M884.76,1061.2h0M890.25,1045.29h0M895.74,1034.46h0M901.23,1028.27h0M906.72,1026.22h0M912.21,1027.8h0M917.7,1032.46h0M923.19,1039.71h0M928.68,1049.06h0M934.17,1060.07h0M939.66,1072.34h0M945.16,1085.53h0M950.65,1099.33h0M956.14,1113.46h0M961.63,1127.72h0M967.12,1141.9h0M972.61,1155.87h0M978.1,1169.49h0M983.59,1182.67h0M989.08,1195.33h0M994.57,1207.43h0M1000.06,1218.92h0M1005.55,1229.78h0M1011.04,1240.01h0M1016.53,1249.6h0M1022.02,1258.56h0M1027.51,1266.91h0M1033,1274.65h0M1038.49,1281.83h0M1043.98,1288.45h0M1049.47,1294.56h0M1054.96,1300.17h0M1060.45,1305.32h0M1065.95,1310.04h0M1071.44,1314.35h0M1076.93,1318.28h0M1082.42,1321.86h0M1087.91,1325.13h0M1093.4,1328.09h0M1098.89,1330.77h0M1104.38,1333.21h0M1109.87,1335.41h0M1115.36,1337.4h0M1120.85,1339.2h0M1126.34,1340.82h0M1131.83,1342.28h0M1137.32,1343.6h0M1142.81,1344.78h0M1148.3,1345.84h0M1153.79,1346.8h0M1159.28,1347.65h0M1164.77,1348.42h0M1170.26,1349.11h0M1175.75,1349.73h0M1181.24,1350.28h0M1186.74,1350.77h0M1192.23,1351.21h0M1197.72,1351.6h0M1203.21,1351.95h0M1208.7,1352.26h0M1214.19,1352.54h0M1219.68,1352.79h0M1225.17,1353.01h0M1230.66,1353.21h0M1236.15,1353.38h0M1241.64,1353.54h0M1247.13,1353.67h0M1252.62,1353.8h0M1258.11,1353.91h0M1263.6,1354h0M1269.09,1354.09h0M1274.58,1354.16h0M1280.07,1354.23h0M1285.56,1354.29h0" fill="none" stroke="#ff7f0e" stroke-width="9.7" stroke-linecap="round"/>
<path d="M944.33,1002.9V1371.5" stroke="#000" stroke-width="4.3"/>
<path d="M840.84,1371.5v-10.3M840.84,1002.9v10.3M950.65,1371.5v-10.3M950.65,1002.9v10.3M1060.45,1371.5v-10.3M1060.45,1002.9v10.3M1170.26,1371.5v-10.3M1170.26,1002.9v10.3M1280.07,1371.5v-10.3M1280.07,1002.9v10.3M818.6,1354.75h10.3M1307.8,1354.75h-10.3M818.6,1190.85h10.3M1307.8,1190.85h-10.3M818.6,1026.95h10.3M1307.8,1026.95h-10.3" stroke="#000" stroke-width="2.5" fill="none"/>
<rect x="818.6" y="1002.9" width="489.2" height="368.6" fill="none" stroke="#000" stroke-width="2.65"/>
<text font-size="41" text-anchor="middle" transform="translate(841.24,1409.5) scale(0.96,1)">0</text>
<text font-size="41" text-anchor="middle" transform="translate(951.05,1409.5) scale(0.96,1)">20</text>
<text font-size="41" text-anchor="middle" transform="translate(1060.85,1409.5) scale(0.96,1)">40</text>
<text font-size="41" text-anchor="middle" transform="translate(1170.66,1409.5) scale(0.96,1)">60</text>
<text font-size="41" text-anchor="middle" transform="translate(1280.47,1409.5) scale(0.96,1)">80</text>
<text font-size="41" text-anchor="end" transform="translate(808.3,1369.25) scale(0.96,1)">0.0</text>
<text font-size="41" text-anchor="end" transform="translate(808.3,1205.35) scale(0.96,1)">0.2</text>
<text font-size="41" text-anchor="end" transform="translate(808.3,1041.45) scale(0.96,1)">0.4</text>
<text font-size="40.5" font-style="italic" transform="matrix(1.253,0,0,0.9635,999.95,986.67)">n</text>
<text font-size="28.6" font-style="italic" class="s" transform="matrix(1.2121,0,0,1,1025.29,992)">I</text>
<text font-size="40.5" transform="matrix(1.4252,0,0,1.0212,1056.64,989.55)">=</text>
<text font-size="41" transform="matrix(1.0016,0,0,1,1105.08,986.3)">3</text>
<text font-size="33.8" font-weight="bold" transform="matrix(1.1417,0,0,1.1163,1230.49,1049.25)">(</text>
<text font-size="33.8" font-weight="bold" transform="matrix(1.1016,0,0,1,1244.28,1048.3)">H</text>
<text font-size="33.8" font-weight="bold" transform="matrix(1.1306,0,0,1.1163,1274.49,1049.25)">)</text>
<g transform="translate(737.5,1375.8) rotate(-90)">
<text font-size="40.5" transform="matrix(1.0757,0,0,1,-1.48,0)">Prob.</text>
<text font-size="40.5" transform="matrix(1.0453,0,0,1,103.64,0)">or</text>
<text font-size="40.5" transform="matrix(1.0071,0,0,1,151.66,0)">freq.</text>
<text font-size="40.5" transform="matrix(0.9915,0,0,1.0921,242.32,0.57)">(</text>
<text font-size="40.5" transform="matrix(1.2157,0,0,1.2401,257.59,6.6)">×</text>
<text font-size="41" transform="matrix(0.9572,0,0,1,286.7,0)">10</text>
<text font-size="28.6" class="s" transform="matrix(1.3309,0,0,1.2587,326.2,-9.83)">−</text>
<text font-size="28.6" class="s" transform="matrix(0.9919,0,0,1,347.72,-14.3)">1</text>
<text font-size="40.5" transform="matrix(0.934,0,0,1.0921,364.3,0.57)">)</text>
</g>
<text font-size="40.5" transform="matrix(1.0726,0,0,1,897.53,1457.7)">Burst</text>
<text font-size="40.5" transform="matrix(0.9917,0,0,1,1004.32,1457.7)">size</text>
<text font-size="40.5" transform="matrix(0.9431,0,0,1.0921,1080.51,1458.27)">(</text>
<text font-size="40.5" transform="matrix(1.018,0,0,1,1093.79,1457.7)">IV</text>
<text font-size="40.5" transform="matrix(1.4272,0,0,1.4793,1139.13,1467.07)">/</text>
<text font-size="40.5" transform="matrix(0.9634,0,0,1,1156.57,1457.7)">cell</text>
<text font-size="40.5" transform="matrix(0.934,0,0,1.0921,1213.7,1458.27)">)</text>
</g>
<g id="panelI">
<path d="M1521.07,1350.08l9.34,9.34m-9.34,0l9.34,-9.34M1531.41,1350.07l9.34,9.34m-9.34,0l9.34,-9.34M1541.75,1350.03l9.34,9.34m-9.34,0l9.34,-9.34M1552.1,1349.87l9.34,9.34m-9.34,0l9.34,-9.34M1562.44,1349.4l9.34,9.34m-9.34,0l9.34,-9.34M1572.78,1348.2l9.34,9.34m-9.34,0l9.34,-9.34M1583.12,1345.19l9.34,9.34m-9.34,0l9.34,-9.34M1593.47,1339.23l9.34,9.34m-9.34,0l9.34,-9.34M1603.81,1328.68l9.34,9.34m-9.34,0l9.34,-9.34M1614.15,1310.92l9.34,9.34m-9.34,0l9.34,-9.34M1624.49,1284.73l9.34,9.34m-9.34,0l9.34,-9.34M1634.84,1251.34l9.34,9.34m-9.34,0l9.34,-9.34M1645.18,1211.01l9.34,9.34m-9.34,0l9.34,-9.34M1655.52,1166.72l9.34,9.34m-9.34,0l9.34,-9.34M1665.86,1123.22l9.34,9.34m-9.34,0l9.34,-9.34M1676.21,1079.57l9.34,9.34m-9.34,0l9.34,-9.34M1686.55,1054.19l9.34,9.34m-9.34,0l9.34,-9.34M1696.89,1021.83l9.34,9.34m-9.34,0l9.34,-9.34M1707.23,1014.99l9.34,9.34m-9.34,0l9.34,-9.34M1717.58,1017.47l9.34,9.34m-9.34,0l9.34,-9.34M1727.92,1044.28l9.34,9.34m-9.34,0l9.34,-9.34M1738.26,1071.81l9.34,9.34m-9.34,0l9.34,-9.34M1748.6,1103.35l9.34,9.34m-9.34,0l9.34,-9.34M1758.94,1141.66l9.34,9.34m-9.34,0l9.34,-9.34M1769.29,1175.91l9.34,9.34m-9.34,0l9.34,-9.34M1779.63,1211.96l9.34,9.34m-9.34,0l9.34,-9.34M1789.97,1242.56l9.34,9.34m-9.34,0l9.34,-9.34M1800.31,1267.95l9.34,9.34m-9.34,0l9.34,-9.34M1810.66,1291.14l9.34,9.34m-9.34,0l9.34,-9.34M1821,1305.7l9.34,9.34m-9.34,0l9.34,-9.34M1831.34,1319.61l9.34,9.34m-9.34,0l9.34,-9.34M1841.68,1330.37l9.34,9.34m-9.34,0l9.34,-9.34M1852.03,1335.35l9.34,9.34m-9.34,0l9.34,-9.34M1862.37,1340.56l9.34,9.34m-9.34,0l9.34,-9.34M1872.71,1343.82l9.34,9.34m-9.34,0l9.34,-9.34M1883.05,1346.13l9.34,9.34m-9.34,0l9.34,-9.34M1893.4,1347.36l9.34,9.34m-9.34,0l9.34,-9.34M1903.74,1348.41l9.34,9.34m-9.34,0l9.34,-9.34M1914.08,1349.06l9.34,9.34m-9.34,0l9.34,-9.34M1924.42,1349.53l9.34,9.34m-9.34,0l9.34,-9.34M1934.77,1349.78l9.34,9.34m-9.34,0l9.34,-9.34M1945.11,1349.89l9.34,9.34m-9.34,0l9.34,-9.34M1955.45,1349.96l9.34,9.34m-9.34,0l9.34,-9.34M1965.79,1350.01l9.34,9.34m-9.34,0l9.34,-9.34" fill="none" stroke="#1f77b4" stroke-width="4.4"/>
<path d="M1525.74,1354.75h0M1536.08,1354.74h0M1546.42,1354.71h0M1556.76,1354.58h0M1567.11,1354.13h0M1577.45,1352.88h0M1587.79,1349.91h0M1598.13,1343.85h0M1608.48,1332.95h0M1618.82,1315.4h0M1629.16,1289.9h0M1639.5,1256.18h0M1649.85,1215.44h0M1660.19,1170.44h0M1670.53,1125.19h0M1680.87,1084.24h0M1691.22,1051.86h0M1701.56,1031.3h0M1711.9,1024.24h0M1722.24,1030.64h0M1732.59,1048.94h0M1742.93,1076.47h0M1753.27,1110.01h0M1763.61,1146.33h0M1773.96,1182.57h0M1784.3,1216.56h0M1794.64,1246.84h0M1804.98,1272.64h0M1815.33,1293.81h0M1825.67,1310.58h0M1836.01,1323.45h0M1846.35,1333.04h0M1856.7,1340h0M1867.04,1344.93h0M1877.38,1348.33h0M1887.72,1350.63h0M1898.07,1352.15h0M1908.41,1353.14h0M1918.75,1353.77h0M1929.09,1354.16h0M1939.44,1354.4h0M1949.78,1354.54h0M1960.12,1354.63h0M1970.46,1354.68h0" fill="none" stroke="#ff7f0e" stroke-width="9.7" stroke-linecap="round"/>
<path d="M1720.49,1002.9V1371.5" stroke="#000" stroke-width="4.3"/>
<path d="M1525.74,1371.5v-10.3M1525.74,1002.9v10.3M1629.16,1371.5v-10.3M1629.16,1002.9v10.3M1732.59,1371.5v-10.3M1732.59,1002.9v10.3M1836.01,1371.5v-10.3M1836.01,1002.9v10.3M1939.44,1371.5v-10.3M1939.44,1002.9v10.3M1503.5,1354.75h10.3M1992.7,1354.75h-10.3M1503.5,1252.62h10.3M1992.7,1252.62h-10.3M1503.5,1150.5h10.3M1992.7,1150.5h-10.3M1503.5,1048.37h10.3M1992.7,1048.37h-10.3" stroke="#000" stroke-width="2.5" fill="none"/>
<rect x="1503.5" y="1002.9" width="489.2" height="368.6" fill="none" stroke="#000" stroke-width="2.65"/>
<text font-size="41" text-anchor="middle" transform="translate(1526.14,1409.5) scale(0.96,1)">0</text>
<text font-size="41" text-anchor="middle" transform="translate(1629.56,1409.5) scale(0.96,1)">10</text>
<text font-size="41" text-anchor="middle" transform="translate(1732.99,1409.5) scale(0.96,1)">20</text>
<text font-size="41" text-anchor="middle" transform="translate(1836.41,1409.5) scale(0.96,1)">30</text>
<text font-size="41" text-anchor="middle" transform="translate(1939.84,1409.5) scale(0.96,1)">40</text>
<text font-size="41" text-anchor="end" transform="translate(1493.2,1369.25) scale(0.96,1)">0.00</text>
<text font-size="41" text-anchor="end" transform="translate(1493.2,1267.12) scale(0.96,1)">0.25</text>
<text font-size="41" text-anchor="end" transform="translate(1493.2,1165) scale(0.96,1)">0.50</text>
<text font-size="41" text-anchor="end" transform="translate(1493.2,1062.87) scale(0.96,1)">0.75</text>
<text font-size="40.5" font-style="italic" transform="matrix(1.2764,0,0,0.9635,1675.02,986.67)">n</text>
<text font-size="28.6" font-style="italic" class="s" transform="matrix(1.2121,0,0,1,1700.89,992)">I</text>
<text font-size="40.5" transform="matrix(1.4199,0,0,1.0212,1732.25,989.55)">=</text>
<text font-size="41" transform="matrix(0.982,0,0,1,1780.52,986.3)">60</text>
<text font-size="33.8" font-weight="bold" transform="matrix(1.1417,0,0,1.1163,1922.94,1049.25)">(</text>
<text font-size="33.8" font-weight="bold" transform="matrix(1.1596,0,0,1,1936.11,1048.3)">I</text>
<text font-size="33.8" font-weight="bold" transform="matrix(1.1306,0,0,1.1163,1951.84,1049.25)">)</text>
<g transform="translate(1403.1,1375.8) rotate(-90)">
<text font-size="40.5" transform="matrix(1.0757,0,0,1,-1.48,0)">Prob.</text>
<text font-size="40.5" transform="matrix(1.0453,0,0,1,103.64,0)">or</text>
<text font-size="40.5" transform="matrix(1.0071,0,0,1,151.66,0)">freq.</text>
<text font-size="40.5" transform="matrix(0.9915,0,0,1.0921,242.32,0.57)">(</text>
<text font-size="40.5" transform="matrix(1.2157,0,0,1.2401,257.59,6.6)">×</text>
<text font-size="41" transform="matrix(0.9572,0,0,1,286.7,0)">10</text>
<text font-size="28.6" class="s" transform="matrix(1.3309,0,0,1.2587,326.2,-9.83)">−</text>
<text font-size="28.6" class="s" transform="matrix(0.9919,0,0,1,347.72,-14.3)">1</text>
<text font-size="40.5" transform="matrix(0.934,0,0,1.0921,364.3,0.57)">)</text>
</g>
<text font-size="40.5" transform="matrix(1.0726,0,0,1,1582.43,1457.7)">Burst</text>
<text font-size="40.5" transform="matrix(0.9917,0,0,1,1689.22,1457.7)">size</text>
<text font-size="40.5" transform="matrix(0.9431,0,0,1.0921,1765.41,1458.27)">(</text>
<text font-size="40.5" transform="matrix(1.018,0,0,1,1778.69,1457.7)">IV</text>
<text font-size="40.5" transform="matrix(1.4272,0,0,1.4793,1824.03,1467.07)">/</text>
<text font-size="40.5" transform="matrix(0.9634,0,0,1,1841.47,1457.7)">cell</text>
<text font-size="40.5" transform="matrix(0.934,0,0,1.0921,1898.6,1458.27)">)</text>
</g>
</svg></body></html>
